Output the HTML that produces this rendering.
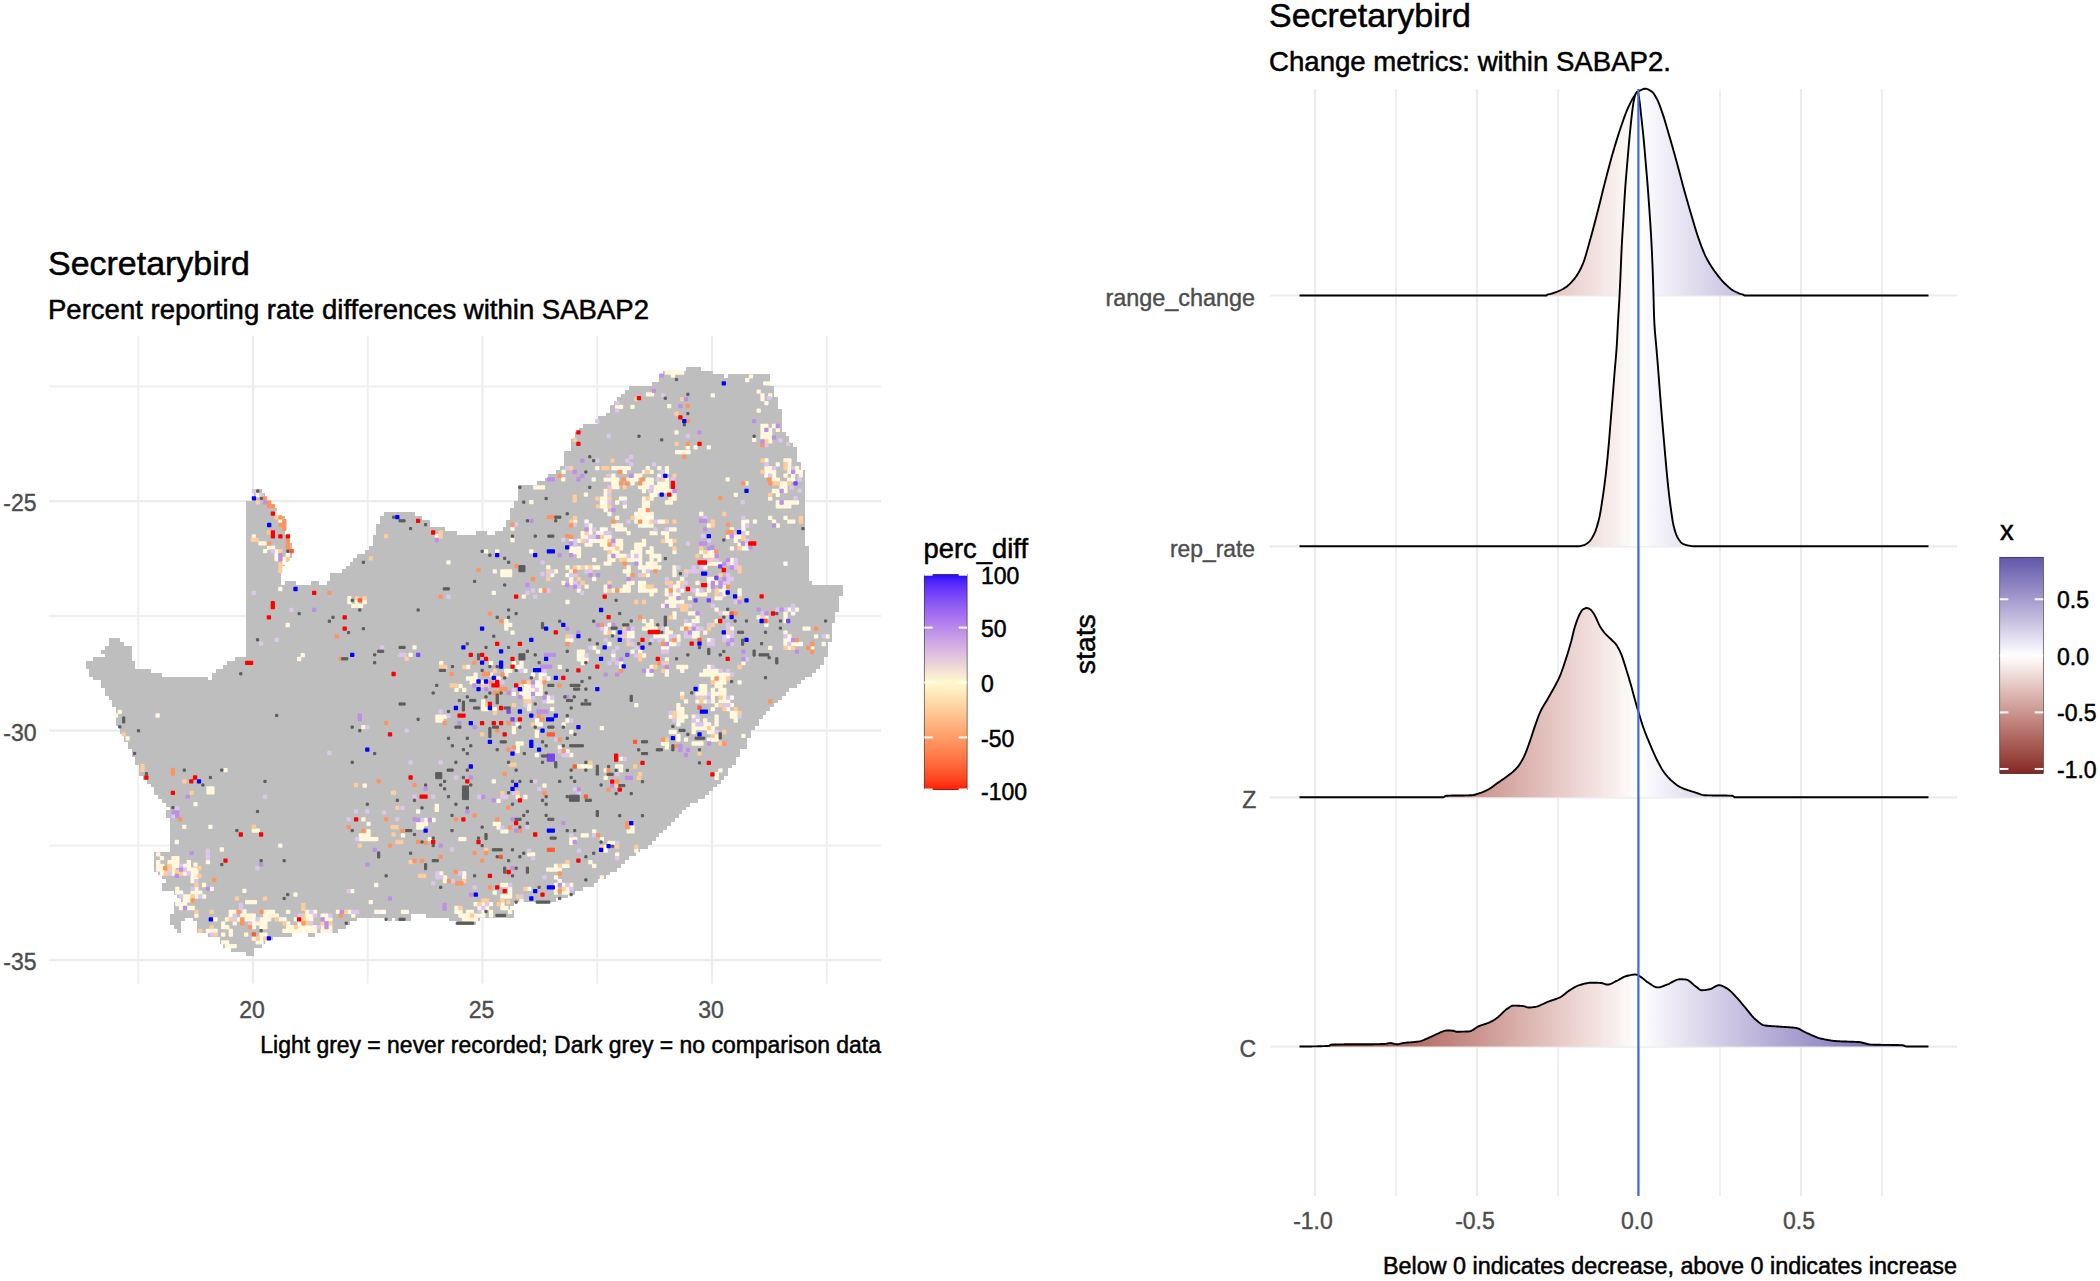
<!DOCTYPE html>
<html lang="en"><head><meta charset="utf-8"><title>Secretarybird</title>
<style>html,body{margin:0;padding:0;background:#fff}svg{display:block}</style></head>
<body><svg width="2100" height="1281" viewBox="0 0 2100 1281">
<rect width="2100" height="1281" fill="#fff"/>
<g stroke="#ececec" fill="none">
<line x1="138.25" x2="138.25" y1="336" y2="983.4" stroke-width="1.9" stroke="#efefef"/>
<line x1="367.75" x2="367.75" y1="336" y2="983.4" stroke-width="1.9" stroke="#efefef"/>
<line x1="597.25" x2="597.25" y1="336" y2="983.4" stroke-width="1.9" stroke="#efefef"/>
<line x1="826.75" x2="826.75" y1="336" y2="983.4" stroke-width="1.9" stroke="#efefef"/>
<line x1="49" x2="881" y1="386.45" y2="386.45" stroke-width="1.9" stroke="#efefef"/>
<line x1="49" x2="881" y1="615.95" y2="615.95" stroke-width="1.9" stroke="#efefef"/>
<line x1="49" x2="881" y1="845.45" y2="845.45" stroke-width="1.9" stroke="#efefef"/>
<line x1="253" x2="253" y1="336" y2="983.4" stroke-width="2.2"/>
<line x1="482.5" x2="482.5" y1="336" y2="983.4" stroke-width="2.2"/>
<line x1="712" x2="712" y1="336" y2="983.4" stroke-width="2.2"/>
<line x1="49" x2="881" y1="501.2" y2="501.2" stroke-width="2.2"/>
<line x1="49" x2="881" y1="730.7" y2="730.7" stroke-width="2.2"/>
<line x1="49" x2="881" y1="960.2" y2="960.2" stroke-width="2.2"/>
</g>
<path fill="#bebebe" d="M686 367h15v4h-15zM663 371h50v3h-50zM659 374h65v4h-65zM728 374h42v4h-42zM659 378h111v4h-111zM652 382h118v4h-118zM629 386h145v4h-145zM625 390h149v4h-149zM621 394h153v3h-153zM617 397h161v4h-161zM614 401h164v4h-164zM610 405h168v4h-168zM610 409h172v4h-172zM606 413h176v3h-176zM598 416h184v4h-184zM598 420h184v4h-184zM583 424h199v4h-199zM579 428h203v4h-203zM575 432h211v4h-211zM575 436h214v3h-214zM571 439h218v4h-218zM571 443h222v4h-222zM571 447h226v4h-226zM564 451h233v4h-233zM564 455h233v4h-233zM564 459h233v3h-233zM564 462h237v4h-237zM560 466h241v4h-241zM556 470h249v4h-249zM548 474h257v4h-257zM545 478h260v3h-260zM537 481h268v4h-268zM518 485h287v4h-287zM254 489h8v4h-8zM518 489h287v4h-287zM254 493h11v4h-11zM518 493h287v4h-287zM254 497h11v4h-11zM518 497h287v4h-287zM246 501h23v3h-23zM514 501h291v3h-291zM246 504h27v4h-27zM514 504h291v4h-291zM246 508h31v4h-31zM510 508h295v4h-295zM246 512h31v4h-31zM384 512h31v4h-31zM510 512h295v4h-295zM246 516h39v4h-39zM380 516h42v4h-42zM510 516h295v4h-295zM246 520h39v4h-39zM380 520h50v4h-50zM506 520h299v4h-299zM246 524h39v3h-39zM376 524h54v3h-54zM506 524h299v3h-299zM246 527h39v4h-39zM376 527h69v4h-69zM503 527h302v4h-302zM246 531h39v4h-39zM376 531h81v4h-81zM476 531h11v4h-11zM495 531h310v4h-310zM246 535h42v4h-42zM373 535h432v4h-432zM246 539h42v4h-42zM373 539h432v4h-432zM246 543h46v3h-46zM373 543h432v3h-432zM246 546h46v4h-46zM369 546h440v4h-440zM246 550h46v4h-46zM365 550h444v4h-444zM246 554h46v4h-46zM357 554h452v4h-452zM246 558h42v4h-42zM353 558h456v4h-456zM246 562h39v4h-39zM350 562h459v4h-459zM246 566h35v3h-35zM346 566h463v3h-463zM246 569h35v4h-35zM342 569h467v4h-467zM246 573h35v4h-35zM330 573h479v4h-479zM246 577h35v4h-35zM330 577h479v4h-479zM246 581h35v4h-35zM285 581h11v4h-11zM311 581h8v4h-8zM327 581h485v4h-485zM246 585h597v4h-597zM246 589h597v3h-597zM246 592h597v4h-597zM246 596h593v4h-593zM246 600h593v4h-593zM246 604h593v4h-593zM246 608h593v4h-593zM246 612h589v3h-589zM246 615h589v4h-589zM246 619h589v4h-589zM246 623h586v4h-586zM246 627h586v4h-586zM246 631h586v3h-586zM246 634h586v4h-586zM109 638h11v4h-11zM246 638h586v4h-586zM109 642h15v4h-15zM246 642h582v4h-582zM105 646h27v4h-27zM246 646h582v4h-582zM101 650h31v4h-31zM246 650h582v4h-582zM105 654h27v3h-27zM246 654h582v3h-582zM93 657h39v4h-39zM235 657h589v4h-589zM86 661h49v4h-49zM227 661h597v4h-597zM86 665h49v4h-49zM223 665h597v4h-597zM89 669h62v4h-62zM216 669h600v4h-600zM89 673h73v4h-73zM212 673h600v4h-600zM93 677h115v3h-115zM212 677h593v3h-593zM101 680h700v4h-700zM101 684h696v4h-696zM105 688h684v4h-684zM105 692h681v4h-681zM109 696h673v4h-673zM112 700h666v3h-666zM112 703h662v4h-662zM116 707h654v4h-654zM116 711h650v4h-650zM116 715h647v4h-647zM116 719h643v3h-643zM116 722h643v4h-643zM120 726h635v4h-635zM120 730h631v4h-631zM124 734h627v4h-627zM124 738h623v4h-623zM128 742h619v3h-619zM128 745h619v4h-619zM132 749h608v4h-608zM132 753h608v4h-608zM135 757h601v4h-601zM135 761h601v4h-601zM139 765h593v3h-593zM139 768h589v4h-589zM139 772h589v4h-589zM143 776h581v4h-581zM147 780h574v4h-574zM151 784h566v3h-566zM154 787h559v4h-559zM154 791h555v4h-555zM158 795h547v4h-547zM162 799h536v4h-536zM166 803h524v4h-524zM170 807h516v3h-516zM166 810h516v4h-516zM166 814h513v4h-513zM170 818h505v4h-505zM170 822h501v4h-501zM170 826h497v4h-497zM170 830h493v3h-493zM170 833h489v4h-489zM170 837h486v4h-486zM170 841h482v4h-482zM170 845h478v4h-478zM170 849h470v3h-470zM154 852h482v4h-482zM154 856h475v4h-475zM154 860h471v4h-471zM154 864h467v4h-467zM154 868h463v4h-463zM158 872h452v3h-452zM162 875h444v4h-444zM166 879h432v4h-432zM162 883h432v4h-432zM162 887h421v4h-421zM174 891h401v4h-401zM177 895h391v3h-391zM181 898h375v4h-375zM174 902h340v4h-340zM174 906h336v4h-336zM174 910h340v4h-340zM170 914h241v4h-241zM426 914h88v4h-88zM170 918h15v3h-15zM193 918h164v3h-164zM388 918h4v3h-4zM395 918h16v3h-16zM449 918h31v3h-31zM170 921h11v4h-11zM197 921h153v4h-153zM457 921h19v4h-19zM174 925h7v4h-7zM197 925h149v4h-149zM177 929h4v4h-4zM197 929h141v4h-141zM208 933h84v4h-84zM308 933h7v4h-7zM220 937h53v3h-53zM220 940h45v4h-45zM223 944h39v4h-39zM231 948h23v4h-23zM246 952h8v4h-8z"/>
<g stroke-width="1.5" stroke-linejoin="round">
<path fill="#fff8dc" stroke="#fff8dc" d="M665.5 371.1h18.1v2.8h-18.1zM749.6 374.9h2.8v2.8h-2.8zM745.8 378.7h2.8v2.8h-2.8zM757.3 390.2h2.8v2.8h-2.8zM711.4 394.0h2.8v2.8h-2.8zM761.1 394.0h2.8v2.8h-2.8zM768.8 394.0h2.8v2.8h-2.8zM761.1 397.8h2.8v2.8h-2.8zM765.0 401.7h2.8v2.8h-2.8zM615.8 405.5h6.7v2.8h-6.7zM631.1 405.5h2.8v2.8h-2.8zM757.3 409.3h2.8v2.8h-2.8zM761.1 424.6h6.7v2.8h-6.7zM772.6 424.6h2.8v2.8h-2.8zM761.1 428.4h2.8v2.8h-2.8zM768.8 428.4h2.8v2.8h-2.8zM776.4 428.4h2.8v2.8h-2.8zM761.1 432.2h10.5v2.8h-10.5zM761.1 436.1h10.5v2.8h-10.5zM768.8 439.9h2.8v2.8h-2.8zM765.0 459.0h2.8v2.8h-2.8zM784.1 459.0h6.7v2.8h-6.7zM776.4 462.9h2.8v2.8h-2.8zM787.9 462.9h2.8v2.8h-2.8zM612.0 466.7h18.1v2.8h-18.1zM646.4 466.7h2.8v2.8h-2.8zM657.9 466.7h2.8v2.8h-2.8zM665.5 466.7h2.8v2.8h-2.8zM765.0 466.7h6.7v2.8h-6.7zM787.9 466.7h2.8v2.8h-2.8zM795.5 466.7h2.8v2.8h-2.8zM562.2 470.5h2.8v2.8h-2.8zM623.4 470.5h2.8v2.8h-2.8zM642.6 470.5h2.8v2.8h-2.8zM650.2 470.5h2.8v2.8h-2.8zM665.5 470.5h2.8v2.8h-2.8zM765.0 470.5h10.5v2.8h-10.5zM787.9 470.5h2.8v2.8h-2.8zM795.5 470.5h6.7v2.8h-6.7zM612.0 474.3h2.8v2.8h-2.8zM634.9 474.3h6.7v2.8h-6.7zM657.9 474.3h2.8v2.8h-2.8zM772.6 474.3h2.8v2.8h-2.8zM784.1 474.3h2.8v2.8h-2.8zM791.7 474.3h2.8v2.8h-2.8zM799.4 474.3h2.8v2.8h-2.8zM604.3 478.2h14.3v2.8h-14.3zM627.2 478.2h10.5v2.8h-10.5zM646.4 478.2h6.7v2.8h-6.7zM665.5 478.2h2.8v2.8h-2.8zM772.6 478.2h6.7v2.8h-6.7zM787.9 478.2h2.8v2.8h-2.8zM612.0 482.0h6.7v2.8h-6.7zM631.1 482.0h2.8v2.8h-2.8zM642.6 482.0h10.5v2.8h-10.5zM657.9 482.0h10.5v2.8h-10.5zM780.2 482.0h6.7v2.8h-6.7zM612.0 485.8h6.7v2.8h-6.7zM638.7 485.8h10.5v2.8h-10.5zM654.0 485.8h14.3v2.8h-14.3zM780.2 485.8h6.7v2.8h-6.7zM604.3 489.6h2.8v2.8h-2.8zM642.6 489.6h2.8v2.8h-2.8zM654.0 489.6h18.1v2.8h-18.1zM772.6 489.6h6.7v2.8h-6.7zM784.1 489.6h2.8v2.8h-2.8zM604.3 493.5h2.8v2.8h-2.8zM650.2 493.5h6.7v2.8h-6.7zM673.1 493.5h2.8v2.8h-2.8zM734.4 493.5h2.8v2.8h-2.8zM776.4 493.5h2.8v2.8h-2.8zM600.5 497.3h6.7v2.8h-6.7zM619.6 497.3h6.7v2.8h-6.7zM642.6 497.3h2.8v2.8h-2.8zM650.2 497.3h2.8v2.8h-2.8zM669.3 497.3h6.7v2.8h-6.7zM768.8 497.3h2.8v2.8h-2.8zM604.3 501.1h2.8v2.8h-2.8zM615.8 501.1h2.8v2.8h-2.8zM642.6 501.1h6.7v2.8h-6.7zM665.5 501.1h6.7v2.8h-6.7zM776.4 501.1h2.8v2.8h-2.8zM784.1 501.1h14.3v2.8h-14.3zM600.5 504.9h6.7v2.8h-6.7zM623.4 504.9h2.8v2.8h-2.8zM642.6 504.9h6.7v2.8h-6.7zM776.4 504.9h14.3v2.8h-14.3zM604.3 508.8h2.8v2.8h-2.8zM638.7 508.8h6.7v2.8h-6.7zM608.1 512.6h2.8v2.8h-2.8zM634.9 512.6h18.1v2.8h-18.1zM699.9 512.6h2.8v2.8h-2.8zM615.8 516.4h2.8v2.8h-2.8zM634.9 516.4h10.5v2.8h-10.5zM768.8 516.4h2.8v2.8h-2.8zM784.1 516.4h2.8v2.8h-2.8zM573.7 520.2h2.8v2.8h-2.8zM634.9 520.2h2.8v2.8h-2.8zM642.6 520.2h6.7v2.8h-6.7zM657.9 520.2h6.7v2.8h-6.7zM745.8 520.2h2.8v2.8h-2.8zM753.5 520.2h2.8v2.8h-2.8zM772.6 520.2h2.8v2.8h-2.8zM787.9 520.2h6.7v2.8h-6.7zM589.0 524.1h2.8v2.8h-2.8zM612.0 524.1h10.5v2.8h-10.5zM638.7 524.1h2.8v2.8h-2.8zM646.4 524.1h6.7v2.8h-6.7zM707.6 524.1h2.8v2.8h-2.8zM776.4 524.1h2.8v2.8h-2.8zM589.0 527.9h2.8v2.8h-2.8zM604.3 527.9h2.8v2.8h-2.8zM615.8 527.9h10.5v2.8h-10.5zM669.3 527.9h6.7v2.8h-6.7zM730.5 527.9h2.8v2.8h-2.8zM742.0 527.9h2.8v2.8h-2.8zM581.4 531.7h2.8v2.8h-2.8zM596.6 531.7h6.7v2.8h-6.7zM627.2 531.7h2.8v2.8h-2.8zM650.2 531.7h6.7v2.8h-6.7zM661.7 531.7h6.7v2.8h-6.7zM745.8 531.7h2.8v2.8h-2.8zM581.4 535.5h6.7v2.8h-6.7zM604.3 535.5h6.7v2.8h-6.7zM665.5 535.5h2.8v2.8h-2.8zM726.7 535.5h2.8v2.8h-2.8zM734.4 535.5h6.7v2.8h-6.7zM569.9 539.4h2.8v2.8h-2.8zM577.5 539.4h2.8v2.8h-2.8zM592.8 539.4h14.3v2.8h-14.3zM615.8 539.4h6.7v2.8h-6.7zM642.6 539.4h2.8v2.8h-2.8zM665.5 539.4h6.7v2.8h-6.7zM734.4 539.4h2.8v2.8h-2.8zM585.2 543.2h6.7v2.8h-6.7zM600.5 543.2h6.7v2.8h-6.7zM615.8 543.2h6.7v2.8h-6.7zM634.9 543.2h10.5v2.8h-10.5zM669.3 543.2h2.8v2.8h-2.8zM738.2 543.2h2.8v2.8h-2.8zM745.8 543.2h2.8v2.8h-2.8zM573.7 547.0h6.7v2.8h-6.7zM604.3 547.0h10.5v2.8h-10.5zM619.6 547.0h2.8v2.8h-2.8zM634.9 547.0h6.7v2.8h-6.7zM650.2 547.0h2.8v2.8h-2.8zM730.5 547.0h2.8v2.8h-2.8zM742.0 547.0h6.7v2.8h-6.7zM569.9 550.8h10.5v2.8h-10.5zM612.0 550.8h6.7v2.8h-6.7zM631.1 550.8h10.5v2.8h-10.5zM646.4 550.8h6.7v2.8h-6.7zM673.1 550.8h2.8v2.8h-2.8zM699.9 550.8h2.8v2.8h-2.8zM707.6 550.8h6.7v2.8h-6.7zM577.5 554.6h2.8v2.8h-2.8zM608.1 554.6h2.8v2.8h-2.8zM615.8 554.6h10.5v2.8h-10.5zM631.1 554.6h2.8v2.8h-2.8zM638.7 554.6h2.8v2.8h-2.8zM650.2 554.6h10.5v2.8h-10.5zM703.8 554.6h10.5v2.8h-10.5zM592.8 558.5h2.8v2.8h-2.8zM608.1 558.5h6.7v2.8h-6.7zM627.2 558.5h14.3v2.8h-14.3zM650.2 558.5h2.8v2.8h-2.8zM657.9 558.5h2.8v2.8h-2.8zM730.5 558.5h2.8v2.8h-2.8zM604.3 562.3h6.7v2.8h-6.7zM638.7 562.3h2.8v2.8h-2.8zM646.4 562.3h10.5v2.8h-10.5zM707.6 562.3h14.3v2.8h-14.3zM730.5 562.3h2.8v2.8h-2.8zM546.9 566.1h2.8v2.8h-2.8zM566.1 566.1h2.8v2.8h-2.8zM577.5 566.1h2.8v2.8h-2.8zM585.2 566.1h2.8v2.8h-2.8zM592.8 566.1h6.7v2.8h-6.7zM627.2 566.1h2.8v2.8h-2.8zM638.7 566.1h22.0v2.8h-22.0zM673.1 566.1h2.8v2.8h-2.8zM703.8 566.1h2.8v2.8h-2.8zM493.4 570.0h2.8v2.8h-2.8zM501.0 570.0h10.5v2.8h-10.5zM554.6 570.0h2.8v2.8h-2.8zM569.9 570.0h2.8v2.8h-2.8zM623.4 570.0h6.7v2.8h-6.7zM642.6 570.0h2.8v2.8h-2.8zM673.1 570.0h2.8v2.8h-2.8zM501.0 573.8h10.5v2.8h-10.5zM550.8 573.8h2.8v2.8h-2.8zM627.2 573.8h2.8v2.8h-2.8zM646.4 573.8h2.8v2.8h-2.8zM673.1 573.8h2.8v2.8h-2.8zM569.9 577.6h2.8v2.8h-2.8zM592.8 577.6h2.8v2.8h-2.8zM680.8 577.6h2.8v2.8h-2.8zM707.6 577.6h6.7v2.8h-6.7zM562.2 581.4h2.8v2.8h-2.8zM569.9 581.4h2.8v2.8h-2.8zM627.2 581.4h6.7v2.8h-6.7zM638.7 581.4h6.7v2.8h-6.7zM677.0 581.4h2.8v2.8h-2.8zM696.1 581.4h2.8v2.8h-2.8zM715.2 581.4h2.8v2.8h-2.8zM585.2 585.2h2.8v2.8h-2.8zM604.3 585.2h2.8v2.8h-2.8zM623.4 585.2h6.7v2.8h-6.7zM638.7 585.2h6.7v2.8h-6.7zM673.1 585.2h6.7v2.8h-6.7zM707.6 585.2h2.8v2.8h-2.8zM722.9 585.2h2.8v2.8h-2.8zM539.3 589.1h2.8v2.8h-2.8zM577.5 589.1h2.8v2.8h-2.8zM604.3 589.1h2.8v2.8h-2.8zM612.0 589.1h2.8v2.8h-2.8zM619.6 589.1h10.5v2.8h-10.5zM638.7 589.1h18.1v2.8h-18.1zM665.5 589.1h2.8v2.8h-2.8zM673.1 589.1h2.8v2.8h-2.8zM680.8 589.1h2.8v2.8h-2.8zM696.1 589.1h2.8v2.8h-2.8zM707.6 589.1h2.8v2.8h-2.8zM719.1 589.1h6.7v2.8h-6.7zM738.2 589.1h2.8v2.8h-2.8zM650.2 592.9h2.8v2.8h-2.8zM665.5 592.9h2.8v2.8h-2.8zM673.1 592.9h6.7v2.8h-6.7zM696.1 592.9h10.5v2.8h-10.5zM722.9 592.9h2.8v2.8h-2.8zM738.2 592.9h2.8v2.8h-2.8zM348.0 596.7h2.8v2.8h-2.8zM669.3 596.7h6.7v2.8h-6.7zM688.5 596.7h2.8v2.8h-2.8zM715.2 596.7h6.7v2.8h-6.7zM348.0 600.6h2.8v2.8h-2.8zM355.7 600.6h2.8v2.8h-2.8zM363.3 600.6h2.8v2.8h-2.8zM566.1 600.6h2.8v2.8h-2.8zM665.5 600.6h18.1v2.8h-18.1zM351.9 604.4h10.5v2.8h-10.5zM661.7 604.4h2.8v2.8h-2.8zM669.3 604.4h6.7v2.8h-6.7zM715.2 608.2h2.8v2.8h-2.8zM795.5 608.2h2.8v2.8h-2.8zM673.1 612.0h2.8v2.8h-2.8zM688.5 612.0h6.7v2.8h-6.7zM722.9 612.0h6.7v2.8h-6.7zM784.1 612.0h2.8v2.8h-2.8zM673.1 615.9h2.8v2.8h-2.8zM696.1 615.9h2.8v2.8h-2.8zM757.3 615.9h2.8v2.8h-2.8zM765.0 615.9h2.8v2.8h-2.8zM784.1 615.9h2.8v2.8h-2.8zM504.9 619.7h2.8v2.8h-2.8zM642.6 619.7h2.8v2.8h-2.8zM650.2 619.7h2.8v2.8h-2.8zM692.3 619.7h6.7v2.8h-6.7zM715.2 619.7h2.8v2.8h-2.8zM784.1 619.7h2.8v2.8h-2.8zM504.9 623.5h6.7v2.8h-6.7zM608.1 623.5h2.8v2.8h-2.8zM646.4 623.5h6.7v2.8h-6.7zM684.6 623.5h2.8v2.8h-2.8zM765.0 623.5h2.8v2.8h-2.8zM504.9 627.3h2.8v2.8h-2.8zM642.6 627.3h14.3v2.8h-14.3zM665.5 627.3h2.8v2.8h-2.8zM680.8 627.3h2.8v2.8h-2.8zM730.5 627.3h2.8v2.8h-2.8zM803.2 627.3h6.7v2.8h-6.7zM604.3 631.2h2.8v2.8h-2.8zM627.2 631.2h6.7v2.8h-6.7zM665.5 631.2h6.7v2.8h-6.7zM692.3 631.2h6.7v2.8h-6.7zM703.8 631.2h2.8v2.8h-2.8zM784.1 631.2h2.8v2.8h-2.8zM627.2 635.0h2.8v2.8h-2.8zM657.9 635.0h6.7v2.8h-6.7zM677.0 635.0h2.8v2.8h-2.8zM692.3 635.0h6.7v2.8h-6.7zM814.7 635.0h2.8v2.8h-2.8zM826.1 635.0h2.8v2.8h-2.8zM566.1 638.8h6.7v2.8h-6.7zM665.5 638.8h2.8v2.8h-2.8zM677.0 638.8h2.8v2.8h-2.8zM707.6 638.8h2.8v2.8h-2.8zM784.1 638.8h6.7v2.8h-6.7zM608.1 642.6h2.8v2.8h-2.8zM669.3 642.6h6.7v2.8h-6.7zM784.1 642.6h2.8v2.8h-2.8zM791.7 642.6h6.7v2.8h-6.7zM822.3 642.6h2.8v2.8h-2.8zM592.8 646.5h2.8v2.8h-2.8zM661.7 646.5h6.7v2.8h-6.7zM768.8 646.5h2.8v2.8h-2.8zM787.9 646.5h2.8v2.8h-2.8zM810.9 646.5h2.8v2.8h-2.8zM577.5 650.3h6.7v2.8h-6.7zM596.6 650.3h2.8v2.8h-2.8zM631.1 650.3h2.8v2.8h-2.8zM638.7 650.3h2.8v2.8h-2.8zM581.4 654.1h2.8v2.8h-2.8zM642.6 654.1h2.8v2.8h-2.8zM577.5 657.9h10.5v2.8h-10.5zM665.5 657.9h2.8v2.8h-2.8zM439.8 661.8h2.8v2.8h-2.8zM489.6 661.8h2.8v2.8h-2.8zM512.5 661.8h2.8v2.8h-2.8zM520.1 661.8h2.8v2.8h-2.8zM581.4 661.8h2.8v2.8h-2.8zM619.6 661.8h2.8v2.8h-2.8zM742.0 661.8h2.8v2.8h-2.8zM466.6 665.6h2.8v2.8h-2.8zM520.1 665.6h2.8v2.8h-2.8zM558.4 665.6h2.8v2.8h-2.8zM619.6 665.6h2.8v2.8h-2.8zM650.2 665.6h2.8v2.8h-2.8zM677.0 665.6h10.5v2.8h-10.5zM707.6 665.6h2.8v2.8h-2.8zM504.9 669.4h6.7v2.8h-6.7zM646.4 669.4h2.8v2.8h-2.8zM665.5 669.4h2.8v2.8h-2.8zM680.8 669.4h2.8v2.8h-2.8zM703.8 669.4h14.3v2.8h-14.3zM474.2 673.2h2.8v2.8h-2.8zM489.6 673.2h2.8v2.8h-2.8zM504.9 673.2h2.8v2.8h-2.8zM539.3 673.2h6.7v2.8h-6.7zM650.2 673.2h2.8v2.8h-2.8zM665.5 673.2h2.8v2.8h-2.8zM699.9 673.2h29.6v2.8h-29.6zM466.6 677.1h10.5v2.8h-10.5zM497.2 677.1h2.8v2.8h-2.8zM539.3 677.1h2.8v2.8h-2.8zM546.9 677.1h2.8v2.8h-2.8zM711.4 677.1h2.8v2.8h-2.8zM719.1 677.1h6.7v2.8h-6.7zM470.4 680.9h6.7v2.8h-6.7zM481.9 680.9h2.8v2.8h-2.8zM535.5 680.9h6.7v2.8h-6.7zM715.2 680.9h10.5v2.8h-10.5zM738.2 680.9h2.8v2.8h-2.8zM459.0 684.7h2.8v2.8h-2.8zM527.8 684.7h2.8v2.8h-2.8zM539.3 684.7h2.8v2.8h-2.8zM699.9 684.7h6.7v2.8h-6.7zM715.2 684.7h6.7v2.8h-6.7zM455.1 688.5h2.8v2.8h-2.8zM462.8 688.5h2.8v2.8h-2.8zM524.0 688.5h10.5v2.8h-10.5zM539.3 688.5h2.8v2.8h-2.8zM699.9 688.5h6.7v2.8h-6.7zM711.4 688.5h2.8v2.8h-2.8zM719.1 688.5h6.7v2.8h-6.7zM520.1 692.4h10.5v2.8h-10.5zM539.3 692.4h2.8v2.8h-2.8zM680.8 692.4h2.8v2.8h-2.8zM696.1 692.4h10.5v2.8h-10.5zM711.4 692.4h14.3v2.8h-14.3zM524.0 696.2h6.7v2.8h-6.7zM546.9 696.2h2.8v2.8h-2.8zM711.4 696.2h2.8v2.8h-2.8zM722.9 696.2h2.8v2.8h-2.8zM481.9 700.0h2.8v2.8h-2.8zM546.9 700.0h6.7v2.8h-6.7zM684.6 700.0h2.8v2.8h-2.8zM696.1 700.0h2.8v2.8h-2.8zM703.8 700.0h2.8v2.8h-2.8zM711.4 700.0h2.8v2.8h-2.8zM719.1 700.0h10.5v2.8h-10.5zM481.9 703.8h2.8v2.8h-2.8zM527.8 703.8h2.8v2.8h-2.8zM634.9 703.8h2.8v2.8h-2.8zM677.0 703.8h2.8v2.8h-2.8zM715.2 703.8h2.8v2.8h-2.8zM730.5 703.8h2.8v2.8h-2.8zM481.9 707.7h6.7v2.8h-6.7zM493.4 707.7h2.8v2.8h-2.8zM527.8 707.7h2.8v2.8h-2.8zM550.8 707.7h2.8v2.8h-2.8zM677.0 707.7h6.7v2.8h-6.7zM711.4 707.7h2.8v2.8h-2.8zM726.7 707.7h2.8v2.8h-2.8zM677.0 711.5h6.7v2.8h-6.7zM730.5 711.5h6.7v2.8h-6.7zM436.0 715.3h10.5v2.8h-10.5zM669.3 715.3h2.8v2.8h-2.8zM677.0 715.3h10.5v2.8h-10.5zM692.3 715.3h2.8v2.8h-2.8zM715.2 715.3h2.8v2.8h-2.8zM730.5 715.3h6.7v2.8h-6.7zM436.0 719.1h6.7v2.8h-6.7zM566.1 719.1h2.8v2.8h-2.8zM677.0 719.1h6.7v2.8h-6.7zM696.1 719.1h2.8v2.8h-2.8zM703.8 719.1h2.8v2.8h-2.8zM715.2 719.1h2.8v2.8h-2.8zM734.4 719.1h2.8v2.8h-2.8zM516.3 723.0h2.8v2.8h-2.8zM535.5 723.0h6.7v2.8h-6.7zM562.2 723.0h2.8v2.8h-2.8zM692.3 723.0h2.8v2.8h-2.8zM703.8 723.0h6.7v2.8h-6.7zM715.2 723.0h2.8v2.8h-2.8zM512.5 726.8h2.8v2.8h-2.8zM600.5 726.8h2.8v2.8h-2.8zM692.3 726.8h14.3v2.8h-14.3zM711.4 726.8h2.8v2.8h-2.8zM512.5 730.6h2.8v2.8h-2.8zM535.5 730.6h2.8v2.8h-2.8zM569.9 730.6h2.8v2.8h-2.8zM669.3 730.6h6.7v2.8h-6.7zM692.3 730.6h2.8v2.8h-2.8zM707.6 730.6h6.7v2.8h-6.7zM535.5 734.4h2.8v2.8h-2.8zM677.0 734.4h2.8v2.8h-2.8zM715.2 734.4h2.8v2.8h-2.8zM742.0 734.4h2.8v2.8h-2.8zM677.0 738.2h2.8v2.8h-2.8zM684.6 738.2h2.8v2.8h-2.8zM707.6 738.2h10.5v2.8h-10.5zM516.3 742.1h6.7v2.8h-6.7zM661.7 742.1h6.7v2.8h-6.7zM692.3 742.1h10.5v2.8h-10.5zM516.3 745.9h2.8v2.8h-2.8zM558.4 745.9h2.8v2.8h-2.8zM665.5 745.9h2.8v2.8h-2.8zM516.3 749.7h2.8v2.8h-2.8zM566.1 749.7h2.8v2.8h-2.8zM535.5 753.6h2.8v2.8h-2.8zM569.9 753.6h2.8v2.8h-2.8zM619.6 757.4h2.8v2.8h-2.8zM577.5 765.0h14.3v2.8h-14.3zM615.8 765.0h6.7v2.8h-6.7zM604.3 768.9h2.8v2.8h-2.8zM619.6 768.9h2.8v2.8h-2.8zM719.1 768.9h2.8v2.8h-2.8zM715.2 772.7h2.8v2.8h-2.8zM604.3 776.5h2.8v2.8h-2.8zM715.2 776.5h2.8v2.8h-2.8zM363.3 784.2h2.8v2.8h-2.8zM543.1 784.2h2.8v2.8h-2.8zM516.3 795.6h2.8v2.8h-2.8zM524.0 795.6h2.8v2.8h-2.8zM497.2 799.5h2.8v2.8h-2.8zM424.5 818.6h2.8v2.8h-2.8zM432.2 818.6h2.8v2.8h-2.8zM367.1 822.4h2.8v2.8h-2.8zM416.9 822.4h10.5v2.8h-10.5zM493.4 822.4h6.7v2.8h-6.7zM416.9 826.2h2.8v2.8h-2.8zM497.2 826.2h2.8v2.8h-2.8zM631.1 826.2h2.8v2.8h-2.8zM367.1 830.0h2.8v2.8h-2.8zM501.0 830.0h6.7v2.8h-6.7zM592.8 830.0h2.8v2.8h-2.8zM627.2 830.0h6.7v2.8h-6.7zM359.5 833.9h10.5v2.8h-10.5zM401.6 833.9h2.8v2.8h-2.8zM581.4 833.9h6.7v2.8h-6.7zM359.5 837.7h18.1v2.8h-18.1zM428.4 837.7h2.8v2.8h-2.8zM459.0 837.7h6.7v2.8h-6.7zM569.9 837.7h6.7v2.8h-6.7zM600.5 837.7h2.8v2.8h-2.8zM569.9 841.5h2.8v2.8h-2.8zM608.1 841.5h6.7v2.8h-6.7zM604.3 845.4h2.8v2.8h-2.8zM604.3 849.2h2.8v2.8h-2.8zM634.9 849.2h2.8v2.8h-2.8zM156.8 853.0h2.8v2.8h-2.8zM527.8 853.0h6.7v2.8h-6.7zM615.8 853.0h2.8v2.8h-2.8zM160.6 856.8h2.8v2.8h-2.8zM172.1 856.8h6.7v2.8h-6.7zM156.8 860.7h2.8v2.8h-2.8zM168.2 860.7h10.5v2.8h-10.5zM187.4 860.7h2.8v2.8h-2.8zM206.5 860.7h2.8v2.8h-2.8zM589.0 860.7h2.8v2.8h-2.8zM156.8 864.5h6.7v2.8h-6.7zM172.1 864.5h6.7v2.8h-6.7zM183.6 864.5h6.7v2.8h-6.7zM562.2 864.5h6.7v2.8h-6.7zM592.8 864.5h2.8v2.8h-2.8zM156.8 868.3h6.7v2.8h-6.7zM172.1 868.3h2.8v2.8h-2.8zM187.4 868.3h10.5v2.8h-10.5zM546.9 868.3h10.5v2.8h-10.5zM160.6 872.1h2.8v2.8h-2.8zM172.1 872.1h2.8v2.8h-2.8zM183.6 872.1h2.8v2.8h-2.8zM191.2 872.1h6.7v2.8h-6.7zM439.8 872.1h2.8v2.8h-2.8zM191.2 876.0h6.7v2.8h-6.7zM443.6 876.0h2.8v2.8h-2.8zM462.8 876.0h2.8v2.8h-2.8zM554.6 876.0h2.8v2.8h-2.8zM600.5 876.0h2.8v2.8h-2.8zM191.2 879.8h2.8v2.8h-2.8zM443.6 879.8h2.8v2.8h-2.8zM558.4 879.8h2.8v2.8h-2.8zM202.7 883.6h2.8v2.8h-2.8zM374.8 883.6h2.8v2.8h-2.8zM501.0 883.6h6.7v2.8h-6.7zM554.6 883.6h2.8v2.8h-2.8zM562.2 883.6h2.8v2.8h-2.8zM569.9 883.6h2.8v2.8h-2.8zM175.9 887.4h2.8v2.8h-2.8zM195.0 887.4h2.8v2.8h-2.8zM210.3 887.4h2.8v2.8h-2.8zM508.7 887.4h2.8v2.8h-2.8zM554.6 887.4h2.8v2.8h-2.8zM566.1 887.4h2.8v2.8h-2.8zM175.9 891.2h2.8v2.8h-2.8zM191.2 891.2h10.5v2.8h-10.5zM493.4 891.2h2.8v2.8h-2.8zM508.7 891.2h2.8v2.8h-2.8zM554.6 891.2h2.8v2.8h-2.8zM562.2 891.2h6.7v2.8h-6.7zM183.6 895.1h6.7v2.8h-6.7zM195.0 895.1h2.8v2.8h-2.8zM202.7 895.1h2.8v2.8h-2.8zM501.0 895.1h10.5v2.8h-10.5zM183.6 898.9h6.7v2.8h-6.7zM520.1 898.9h2.8v2.8h-2.8zM175.9 902.7h10.5v2.8h-10.5zM474.2 902.7h2.8v2.8h-2.8zM481.9 902.7h2.8v2.8h-2.8zM489.6 902.7h2.8v2.8h-2.8zM501.0 902.7h2.8v2.8h-2.8zM179.7 906.6h2.8v2.8h-2.8zM187.4 906.6h6.7v2.8h-6.7zM455.1 906.6h2.8v2.8h-2.8zM478.1 906.6h2.8v2.8h-2.8zM485.7 906.6h2.8v2.8h-2.8zM501.0 906.6h6.7v2.8h-6.7zM229.4 910.4h6.7v2.8h-6.7zM263.9 910.4h10.5v2.8h-10.5zM286.8 910.4h2.8v2.8h-2.8zM305.9 910.4h2.8v2.8h-2.8zM313.6 910.4h2.8v2.8h-2.8zM336.6 910.4h2.8v2.8h-2.8zM348.0 910.4h2.8v2.8h-2.8zM374.8 910.4h6.7v2.8h-6.7zM401.6 910.4h6.7v2.8h-6.7zM455.1 910.4h6.7v2.8h-6.7zM466.6 910.4h6.7v2.8h-6.7zM481.9 910.4h2.8v2.8h-2.8zM489.6 910.4h2.8v2.8h-2.8zM508.7 910.4h2.8v2.8h-2.8zM195.0 914.2h2.8v2.8h-2.8zM229.4 914.2h2.8v2.8h-2.8zM240.9 914.2h14.3v2.8h-14.3zM263.9 914.2h14.3v2.8h-14.3zM305.9 914.2h6.7v2.8h-6.7zM321.2 914.2h6.7v2.8h-6.7zM351.9 914.2h2.8v2.8h-2.8zM459.0 914.2h10.5v2.8h-10.5zM474.2 914.2h10.5v2.8h-10.5zM489.6 914.2h2.8v2.8h-2.8zM214.2 918.0h2.8v2.8h-2.8zM225.6 918.0h2.8v2.8h-2.8zM237.1 918.0h2.8v2.8h-2.8zM244.8 918.0h10.5v2.8h-10.5zM260.1 918.0h10.5v2.8h-10.5zM279.2 918.0h2.8v2.8h-2.8zM294.5 918.0h2.8v2.8h-2.8zM305.9 918.0h6.7v2.8h-6.7zM325.1 918.0h6.7v2.8h-6.7zM462.8 918.0h14.3v2.8h-14.3zM221.8 921.9h2.8v2.8h-2.8zM233.3 921.9h2.8v2.8h-2.8zM252.4 921.9h14.3v2.8h-14.3zM286.8 921.9h2.8v2.8h-2.8zM298.3 921.9h2.8v2.8h-2.8zM221.8 925.7h6.7v2.8h-6.7zM252.4 925.7h2.8v2.8h-2.8zM260.1 925.7h6.7v2.8h-6.7zM286.8 925.7h6.7v2.8h-6.7zM298.3 925.7h6.7v2.8h-6.7zM309.8 925.7h6.7v2.8h-6.7zM321.2 925.7h2.8v2.8h-2.8zM328.9 925.7h2.8v2.8h-2.8zM206.5 929.5h10.5v2.8h-10.5zM229.4 929.5h2.8v2.8h-2.8zM283.0 929.5h18.1v2.8h-18.1zM305.9 929.5h10.5v2.8h-10.5zM321.2 929.5h10.5v2.8h-10.5zM221.8 933.3h2.8v2.8h-2.8zM229.4 933.3h2.8v2.8h-2.8zM244.8 933.3h2.8v2.8h-2.8zM260.1 933.3h6.7v2.8h-6.7zM252.4 937.2h2.8v2.8h-2.8zM260.1 937.2h2.8v2.8h-2.8zM221.8 941.0h6.7v2.8h-6.7zM256.2 941.0h6.7v2.8h-6.7zM225.6 944.8h10.5v2.8h-10.5zM761.1 395.4h2.8v3.8h-2.8zM761.1 426.0h2.8v3.8h-2.8zM761.1 429.8h2.8v3.8h-2.8zM768.8 429.8h2.8v3.8h-2.8zM761.1 433.7h2.8v3.8h-2.8zM765.0 433.7h2.8v3.8h-2.8zM768.8 433.7h2.8v3.8h-2.8zM768.8 437.5h2.8v3.8h-2.8zM787.9 460.4h2.8v3.8h-2.8zM787.9 464.3h2.8v3.8h-2.8zM623.4 468.1h2.8v3.8h-2.8zM665.5 468.1h2.8v3.8h-2.8zM765.0 468.1h2.8v3.8h-2.8zM768.8 468.1h2.8v3.8h-2.8zM787.9 468.1h2.8v3.8h-2.8zM795.5 468.1h2.8v3.8h-2.8zM772.6 471.9h2.8v3.8h-2.8zM799.4 471.9h2.8v3.8h-2.8zM612.0 475.7h2.8v3.8h-2.8zM634.9 475.7h2.8v3.8h-2.8zM772.6 475.7h2.8v3.8h-2.8zM612.0 479.6h2.8v3.8h-2.8zM615.8 479.6h2.8v3.8h-2.8zM631.1 479.6h2.8v3.8h-2.8zM646.4 479.6h2.8v3.8h-2.8zM650.2 479.6h2.8v3.8h-2.8zM665.5 479.6h2.8v3.8h-2.8zM612.0 483.4h2.8v3.8h-2.8zM615.8 483.4h2.8v3.8h-2.8zM642.6 483.4h2.8v3.8h-2.8zM646.4 483.4h2.8v3.8h-2.8zM657.9 483.4h2.8v3.8h-2.8zM661.7 483.4h2.8v3.8h-2.8zM665.5 483.4h2.8v3.8h-2.8zM780.2 483.4h2.8v3.8h-2.8zM784.1 483.4h2.8v3.8h-2.8zM642.6 487.2h2.8v3.8h-2.8zM654.0 487.2h2.8v3.8h-2.8zM657.9 487.2h2.8v3.8h-2.8zM661.7 487.2h2.8v3.8h-2.8zM665.5 487.2h2.8v3.8h-2.8zM784.1 487.2h2.8v3.8h-2.8zM604.3 491.0h2.8v3.8h-2.8zM654.0 491.0h2.8v3.8h-2.8zM776.4 491.0h2.8v3.8h-2.8zM604.3 494.9h2.8v3.8h-2.8zM650.2 494.9h2.8v3.8h-2.8zM673.1 494.9h2.8v3.8h-2.8zM604.3 498.7h2.8v3.8h-2.8zM642.6 498.7h2.8v3.8h-2.8zM669.3 498.7h2.8v3.8h-2.8zM604.3 502.5h2.8v3.8h-2.8zM642.6 502.5h2.8v3.8h-2.8zM646.4 502.5h2.8v3.8h-2.8zM776.4 502.5h2.8v3.8h-2.8zM784.1 502.5h2.8v3.8h-2.8zM787.9 502.5h2.8v3.8h-2.8zM604.3 506.3h2.8v3.8h-2.8zM642.6 506.3h2.8v3.8h-2.8zM638.7 510.2h2.8v3.8h-2.8zM642.6 510.2h2.8v3.8h-2.8zM634.9 514.0h2.8v3.8h-2.8zM638.7 514.0h2.8v3.8h-2.8zM642.6 514.0h2.8v3.8h-2.8zM634.9 517.8h2.8v3.8h-2.8zM642.6 517.8h2.8v3.8h-2.8zM646.4 521.6h2.8v3.8h-2.8zM589.0 525.5h2.8v3.8h-2.8zM615.8 525.5h2.8v3.8h-2.8zM619.6 525.5h2.8v3.8h-2.8zM581.4 533.1h2.8v3.8h-2.8zM665.5 533.1h2.8v3.8h-2.8zM604.3 536.9h2.8v3.8h-2.8zM665.5 536.9h2.8v3.8h-2.8zM734.4 536.9h2.8v3.8h-2.8zM600.5 540.8h2.8v3.8h-2.8zM604.3 540.8h2.8v3.8h-2.8zM615.8 540.8h2.8v3.8h-2.8zM619.6 540.8h2.8v3.8h-2.8zM642.6 540.8h2.8v3.8h-2.8zM669.3 540.8h2.8v3.8h-2.8zM604.3 544.6h2.8v3.8h-2.8zM619.6 544.6h2.8v3.8h-2.8zM634.9 544.6h2.8v3.8h-2.8zM638.7 544.6h2.8v3.8h-2.8zM745.8 544.6h2.8v3.8h-2.8zM573.7 548.4h2.8v3.8h-2.8zM577.5 548.4h2.8v3.8h-2.8zM612.0 548.4h2.8v3.8h-2.8zM634.9 548.4h2.8v3.8h-2.8zM638.7 548.4h2.8v3.8h-2.8zM650.2 548.4h2.8v3.8h-2.8zM577.5 552.2h2.8v3.8h-2.8zM615.8 552.2h2.8v3.8h-2.8zM631.1 552.2h2.8v3.8h-2.8zM638.7 552.2h2.8v3.8h-2.8zM650.2 552.2h2.8v3.8h-2.8zM707.6 552.2h2.8v3.8h-2.8zM711.4 552.2h2.8v3.8h-2.8zM608.1 556.1h2.8v3.8h-2.8zM631.1 556.1h2.8v3.8h-2.8zM638.7 556.1h2.8v3.8h-2.8zM650.2 556.1h2.8v3.8h-2.8zM657.9 556.1h2.8v3.8h-2.8zM608.1 559.9h2.8v3.8h-2.8zM638.7 559.9h2.8v3.8h-2.8zM650.2 559.9h2.8v3.8h-2.8zM730.5 559.9h2.8v3.8h-2.8zM638.7 563.7h2.8v3.8h-2.8zM646.4 563.7h2.8v3.8h-2.8zM650.2 563.7h2.8v3.8h-2.8zM654.0 563.7h2.8v3.8h-2.8zM627.2 567.5h2.8v3.8h-2.8zM642.6 567.5h2.8v3.8h-2.8zM673.1 567.5h2.8v3.8h-2.8zM501.0 571.4h2.8v3.8h-2.8zM504.9 571.4h2.8v3.8h-2.8zM508.7 571.4h2.8v3.8h-2.8zM627.2 571.4h2.8v3.8h-2.8zM673.1 571.4h2.8v3.8h-2.8zM569.9 579.0h2.8v3.8h-2.8zM627.2 582.8h2.8v3.8h-2.8zM638.7 582.8h2.8v3.8h-2.8zM642.6 582.8h2.8v3.8h-2.8zM677.0 582.8h2.8v3.8h-2.8zM604.3 586.7h2.8v3.8h-2.8zM623.4 586.7h2.8v3.8h-2.8zM627.2 586.7h2.8v3.8h-2.8zM638.7 586.7h2.8v3.8h-2.8zM642.6 586.7h2.8v3.8h-2.8zM673.1 586.7h2.8v3.8h-2.8zM707.6 586.7h2.8v3.8h-2.8zM722.9 586.7h2.8v3.8h-2.8zM650.2 590.5h2.8v3.8h-2.8zM665.5 590.5h2.8v3.8h-2.8zM673.1 590.5h2.8v3.8h-2.8zM696.1 590.5h2.8v3.8h-2.8zM722.9 590.5h2.8v3.8h-2.8zM738.2 590.5h2.8v3.8h-2.8zM673.1 594.3h2.8v3.8h-2.8zM348.0 598.1h2.8v3.8h-2.8zM669.3 598.1h2.8v3.8h-2.8zM673.1 598.1h2.8v3.8h-2.8zM355.7 602.0h2.8v3.8h-2.8zM669.3 602.0h2.8v3.8h-2.8zM673.1 602.0h2.8v3.8h-2.8zM673.1 613.4h2.8v3.8h-2.8zM784.1 613.4h2.8v3.8h-2.8zM696.1 617.3h2.8v3.8h-2.8zM784.1 617.3h2.8v3.8h-2.8zM504.9 621.1h2.8v3.8h-2.8zM650.2 621.1h2.8v3.8h-2.8zM504.9 624.9h2.8v3.8h-2.8zM646.4 624.9h2.8v3.8h-2.8zM650.2 624.9h2.8v3.8h-2.8zM665.5 628.7h2.8v3.8h-2.8zM627.2 632.6h2.8v3.8h-2.8zM692.3 632.6h2.8v3.8h-2.8zM696.1 632.6h2.8v3.8h-2.8zM677.0 636.4h2.8v3.8h-2.8zM784.1 640.2h2.8v3.8h-2.8zM581.4 651.7h2.8v3.8h-2.8zM581.4 655.5h2.8v3.8h-2.8zM581.4 659.3h2.8v3.8h-2.8zM520.1 663.2h2.8v3.8h-2.8zM619.6 663.2h2.8v3.8h-2.8zM680.8 667.0h2.8v3.8h-2.8zM707.6 667.0h2.8v3.8h-2.8zM504.9 670.8h2.8v3.8h-2.8zM665.5 670.8h2.8v3.8h-2.8zM703.8 670.8h2.8v3.8h-2.8zM707.6 670.8h2.8v3.8h-2.8zM711.4 670.8h2.8v3.8h-2.8zM715.2 670.8h2.8v3.8h-2.8zM474.2 674.6h2.8v3.8h-2.8zM539.3 674.6h2.8v3.8h-2.8zM711.4 674.6h2.8v3.8h-2.8zM719.1 674.6h2.8v3.8h-2.8zM722.9 674.6h2.8v3.8h-2.8zM470.4 678.5h2.8v3.8h-2.8zM474.2 678.5h2.8v3.8h-2.8zM539.3 678.5h2.8v3.8h-2.8zM719.1 678.5h2.8v3.8h-2.8zM722.9 678.5h2.8v3.8h-2.8zM539.3 682.3h2.8v3.8h-2.8zM715.2 682.3h2.8v3.8h-2.8zM719.1 682.3h2.8v3.8h-2.8zM527.8 686.1h2.8v3.8h-2.8zM539.3 686.1h2.8v3.8h-2.8zM699.9 686.1h2.8v3.8h-2.8zM703.8 686.1h2.8v3.8h-2.8zM719.1 686.1h2.8v3.8h-2.8zM524.0 689.9h2.8v3.8h-2.8zM527.8 689.9h2.8v3.8h-2.8zM539.3 689.9h2.8v3.8h-2.8zM699.9 689.9h2.8v3.8h-2.8zM703.8 689.9h2.8v3.8h-2.8zM711.4 689.9h2.8v3.8h-2.8zM719.1 689.9h2.8v3.8h-2.8zM722.9 689.9h2.8v3.8h-2.8zM524.0 693.8h2.8v3.8h-2.8zM527.8 693.8h2.8v3.8h-2.8zM711.4 693.8h2.8v3.8h-2.8zM722.9 693.8h2.8v3.8h-2.8zM546.9 697.6h2.8v3.8h-2.8zM711.4 697.6h2.8v3.8h-2.8zM722.9 697.6h2.8v3.8h-2.8zM481.9 701.4h2.8v3.8h-2.8zM481.9 705.2h2.8v3.8h-2.8zM527.8 705.2h2.8v3.8h-2.8zM677.0 705.2h2.8v3.8h-2.8zM677.0 709.1h2.8v3.8h-2.8zM680.8 709.1h2.8v3.8h-2.8zM677.0 712.9h2.8v3.8h-2.8zM680.8 712.9h2.8v3.8h-2.8zM730.5 712.9h2.8v3.8h-2.8zM734.4 712.9h2.8v3.8h-2.8zM436.0 716.7h2.8v3.8h-2.8zM439.8 716.7h2.8v3.8h-2.8zM677.0 716.7h2.8v3.8h-2.8zM680.8 716.7h2.8v3.8h-2.8zM715.2 716.7h2.8v3.8h-2.8zM734.4 716.7h2.8v3.8h-2.8zM703.8 720.5h2.8v3.8h-2.8zM715.2 720.5h2.8v3.8h-2.8zM692.3 724.4h2.8v3.8h-2.8zM703.8 724.4h2.8v3.8h-2.8zM512.5 728.2h2.8v3.8h-2.8zM692.3 728.2h2.8v3.8h-2.8zM711.4 728.2h2.8v3.8h-2.8zM535.5 732.0h2.8v3.8h-2.8zM677.0 735.8h2.8v3.8h-2.8zM715.2 735.8h2.8v3.8h-2.8zM516.3 743.5h2.8v3.8h-2.8zM665.5 743.5h2.8v3.8h-2.8zM516.3 747.3h2.8v3.8h-2.8zM619.6 766.4h2.8v3.8h-2.8zM715.2 774.1h2.8v3.8h-2.8zM424.5 820.0h2.8v3.8h-2.8zM416.9 823.8h2.8v3.8h-2.8zM497.2 823.8h2.8v3.8h-2.8zM631.1 827.6h2.8v3.8h-2.8zM367.1 831.5h2.8v3.8h-2.8zM359.5 835.3h2.8v3.8h-2.8zM363.3 835.3h2.8v3.8h-2.8zM367.1 835.3h2.8v3.8h-2.8zM569.9 839.1h2.8v3.8h-2.8zM604.3 846.8h2.8v3.8h-2.8zM172.1 858.2h2.8v3.8h-2.8zM175.9 858.2h2.8v3.8h-2.8zM156.8 862.1h2.8v3.8h-2.8zM172.1 862.1h2.8v3.8h-2.8zM175.9 862.1h2.8v3.8h-2.8zM187.4 862.1h2.8v3.8h-2.8zM156.8 865.9h2.8v3.8h-2.8zM160.6 865.9h2.8v3.8h-2.8zM172.1 865.9h2.8v3.8h-2.8zM187.4 865.9h2.8v3.8h-2.8zM160.6 869.7h2.8v3.8h-2.8zM172.1 869.7h2.8v3.8h-2.8zM191.2 869.7h2.8v3.8h-2.8zM195.0 869.7h2.8v3.8h-2.8zM191.2 873.5h2.8v3.8h-2.8zM195.0 873.5h2.8v3.8h-2.8zM191.2 877.4h2.8v3.8h-2.8zM443.6 877.4h2.8v3.8h-2.8zM554.6 885.0h2.8v3.8h-2.8zM175.9 888.8h2.8v3.8h-2.8zM195.0 888.8h2.8v3.8h-2.8zM508.7 888.8h2.8v3.8h-2.8zM554.6 888.8h2.8v3.8h-2.8zM566.1 888.8h2.8v3.8h-2.8zM195.0 892.7h2.8v3.8h-2.8zM508.7 892.7h2.8v3.8h-2.8zM183.6 896.5h2.8v3.8h-2.8zM187.4 896.5h2.8v3.8h-2.8zM183.6 900.3h2.8v3.8h-2.8zM179.7 904.1h2.8v3.8h-2.8zM501.0 904.1h2.8v3.8h-2.8zM455.1 908.0h2.8v3.8h-2.8zM229.4 911.8h2.8v3.8h-2.8zM263.9 911.8h2.8v3.8h-2.8zM267.7 911.8h2.8v3.8h-2.8zM271.5 911.8h2.8v3.8h-2.8zM305.9 911.8h2.8v3.8h-2.8zM459.0 911.8h2.8v3.8h-2.8zM466.6 911.8h2.8v3.8h-2.8zM481.9 911.8h2.8v3.8h-2.8zM489.6 911.8h2.8v3.8h-2.8zM244.8 915.6h2.8v3.8h-2.8zM248.6 915.6h2.8v3.8h-2.8zM252.4 915.6h2.8v3.8h-2.8zM263.9 915.6h2.8v3.8h-2.8zM267.7 915.6h2.8v3.8h-2.8zM305.9 915.6h2.8v3.8h-2.8zM309.8 915.6h2.8v3.8h-2.8zM325.1 915.6h2.8v3.8h-2.8zM462.8 915.6h2.8v3.8h-2.8zM466.6 915.6h2.8v3.8h-2.8zM474.2 915.6h2.8v3.8h-2.8zM252.4 919.4h2.8v3.8h-2.8zM260.1 919.4h2.8v3.8h-2.8zM263.9 919.4h2.8v3.8h-2.8zM221.8 923.3h2.8v3.8h-2.8zM252.4 923.3h2.8v3.8h-2.8zM260.1 923.3h2.8v3.8h-2.8zM263.9 923.3h2.8v3.8h-2.8zM286.8 923.3h2.8v3.8h-2.8zM298.3 923.3h2.8v3.8h-2.8zM286.8 927.1h2.8v3.8h-2.8zM290.6 927.1h2.8v3.8h-2.8zM298.3 927.1h2.8v3.8h-2.8zM309.8 927.1h2.8v3.8h-2.8zM313.6 927.1h2.8v3.8h-2.8zM321.2 927.1h2.8v3.8h-2.8zM328.9 927.1h2.8v3.8h-2.8zM229.4 930.9h2.8v3.8h-2.8zM260.1 934.7h2.8v3.8h-2.8zM260.1 938.6h2.8v3.8h-2.8zM225.6 942.4h2.8v3.8h-2.8zM671.5 374.2h2.8v2.8h-2.8zM646.6 392.9h6.7v2.8h-6.7zM667.8 404.7h2.8v2.8h-2.8zM675.1 430.9h2.8v2.8h-2.8zM694.2 446.0h2.8v2.8h-2.8zM707.4 446.0h2.8v2.8h-2.8zM686.5 446.0h2.8v2.8h-2.8zM675.6 450.7h14.3v2.8h-14.3zM763.8 382.0h6.7v2.8h-6.7zM752.7 438.5h2.8v2.8h-2.8zM726.3 478.0h2.8v2.8h-2.8zM745.1 482.0h2.8v2.8h-2.8zM533.9 485.9h10.5v2.8h-10.5zM529.9 500.7h2.8v2.8h-2.8zM561.9 478.0h2.8v2.8h-2.8zM592.3 478.0h2.8v2.8h-2.8zM595.9 466.8h2.8v2.8h-2.8zM584.5 493.2h2.8v2.8h-2.8zM511.1 527.2h2.8v2.8h-2.8zM511.1 538.6h2.8v2.8h-2.8zM435.4 534.7h2.8v2.8h-2.8zM484.6 549.9h2.8v2.8h-2.8zM495.8 549.9h2.8v2.8h-2.8zM529.9 549.9h2.8v2.8h-2.8zM447.1 560.9h2.8v2.8h-2.8zM413.1 646.0h2.8v2.8h-2.8zM409.2 653.5h2.8v2.8h-2.8zM492.4 591.4h2.8v2.8h-2.8zM522.4 595.3h2.8v2.8h-2.8zM511.1 631.2h2.8v2.8h-2.8zM362.0 725.7h2.8v2.8h-2.8zM392.2 791.4h2.8v2.8h-2.8zM492.4 780.0h2.8v2.8h-2.8zM362.0 817.9h2.8v2.8h-2.8zM350.8 889.8h2.8v2.8h-2.8zM369.4 900.7h2.8v2.8h-2.8zM416.7 810.1h2.8v2.8h-2.8zM435.4 804.6h2.8v6.7h-2.8zM224.1 768.7h2.8v2.8h-2.8zM194.1 802.8h2.8v2.8h-2.8zM182.9 825.4h2.8v2.8h-2.8zM209.0 825.4h2.8v2.8h-2.8zM220.4 848.1h2.8v2.8h-2.8zM278.9 844.2h2.8v2.8h-2.8zM194.1 863.2h2.8v2.8h-2.8zM175.4 840.6h2.8v2.8h-2.8zM243.0 889.4h2.8v2.8h-2.8zM294.1 893.2h2.8v2.8h-2.8zM245.8 900.7h10.5v2.8h-10.5zM243.0 910.1h2.8v2.8h-2.8zM207.1 787.1h6.7v6.7h-6.7zM252.4 829.2h6.7v2.8h-6.7zM278.9 587.6h2.8v2.8h-2.8zM286.3 623.6h2.8v2.8h-2.8zM301.4 653.7h2.8v2.8h-2.8zM297.7 657.6h2.8v2.8h-2.8zM156.2 714.1h2.8v2.8h-2.8zM118.4 710.4h2.8v2.8h-2.8zM114.5 714.1h2.8v2.8h-2.8zM126.2 736.9h2.8v2.8h-2.8zM256.4 493.6h2.8v2.8h-2.8zM275.1 512.3h2.8v2.8h-2.8zM279.0 519.8h2.8v2.8h-2.8zM252.5 535.0h2.8v2.8h-2.8zM259.1 542.0h6.7v2.8h-6.7zM267.7 546.2h6.7v2.8h-6.7zM263.7 549.8h2.8v2.8h-2.8zM275.1 549.9h2.8v10.5h-2.8zM282.9 557.6h2.8v2.8h-2.8zM286.5 553.7h2.8v2.8h-2.8zM282.9 561.5h2.8v2.8h-2.8z"/>
<path fill="#fffdf2" stroke="#fffdf2" d="M765.0 474.3h2.8v2.8h-2.8zM791.7 478.2h2.8v2.8h-2.8zM600.5 501.1h2.8v2.8h-2.8zM646.4 516.4h6.7v2.8h-6.7zM585.2 520.2h2.8v2.8h-2.8zM742.0 520.2h2.8v2.8h-2.8zM642.6 524.1h2.8v2.8h-2.8zM742.0 524.1h2.8v2.8h-2.8zM600.5 527.9h2.8v2.8h-2.8zM589.0 531.7h2.8v2.8h-2.8zM589.0 539.4h2.8v2.8h-2.8zM569.9 547.0h2.8v2.8h-2.8zM784.1 562.3h2.8v2.8h-2.8zM566.1 573.8h2.8v2.8h-2.8zM707.6 581.4h2.8v2.8h-2.8zM787.9 608.2h2.8v2.8h-2.8zM791.7 612.0h2.8v2.8h-2.8zM688.5 623.5h2.8v2.8h-2.8zM604.3 627.3h2.8v2.8h-2.8zM612.0 631.2h2.8v2.8h-2.8zM631.1 635.0h2.8v2.8h-2.8zM654.0 635.0h2.8v2.8h-2.8zM665.5 635.0h2.8v2.8h-2.8zM726.7 635.0h2.8v2.8h-2.8zM787.9 635.0h2.8v2.8h-2.8zM799.4 642.6h2.8v2.8h-2.8zM577.5 654.1h2.8v2.8h-2.8zM612.0 654.1h2.8v2.8h-2.8zM516.3 665.6h2.8v2.8h-2.8zM524.0 669.4h2.8v2.8h-2.8zM531.6 673.2h2.8v2.8h-2.8zM646.4 673.2h2.8v2.8h-2.8zM524.0 684.7h2.8v2.8h-2.8zM535.5 684.7h2.8v2.8h-2.8zM512.5 692.4h2.8v2.8h-2.8zM535.5 692.4h2.8v2.8h-2.8zM730.5 696.2h2.8v2.8h-2.8zM535.5 719.1h2.8v2.8h-2.8zM677.0 723.0h2.8v2.8h-2.8zM420.7 826.2h2.8v2.8h-2.8zM554.6 864.5h2.8v2.8h-2.8zM558.4 868.3h2.8v2.8h-2.8zM462.8 872.1h2.8v2.8h-2.8zM527.8 887.4h2.8v2.8h-2.8zM179.7 891.2h2.8v2.8h-2.8zM382.5 910.4h2.8v2.8h-2.8zM283.0 918.0h2.8v2.8h-2.8zM305.9 925.7h2.8v2.8h-2.8zM302.1 929.5h2.8v2.8h-2.8zM742.0 521.6h2.8v3.8h-2.8z"/>
<path fill="#ffcc9a" stroke="#ffcc9a" d="M634.9 397.8h2.8v2.8h-2.8zM680.8 397.8h2.8v2.8h-2.8zM765.0 439.9h2.8v2.8h-2.8zM761.1 459.0h2.8v2.8h-2.8zM784.1 462.9h2.8v2.8h-2.8zM784.1 466.7h2.8v2.8h-2.8zM761.1 470.5h2.8v2.8h-2.8zM673.1 474.3h2.8v2.8h-2.8zM661.7 478.2h2.8v2.8h-2.8zM772.6 482.0h6.7v2.8h-6.7zM787.9 482.0h2.8v2.8h-2.8zM623.4 485.8h2.8v2.8h-2.8zM608.1 489.6h2.8v2.8h-2.8zM768.8 493.5h2.8v2.8h-2.8zM608.1 497.3h2.8v2.8h-2.8zM646.4 497.3h2.8v2.8h-2.8zM596.6 504.9h2.8v2.8h-2.8zM608.1 504.9h2.8v2.8h-2.8zM722.9 512.6h2.8v2.8h-2.8zM573.7 516.4h2.8v2.8h-2.8zM631.1 516.4h2.8v2.8h-2.8zM799.4 516.4h2.8v2.8h-2.8zM569.9 520.2h2.8v2.8h-2.8zM650.2 520.2h2.8v2.8h-2.8zM665.5 520.2h2.8v2.8h-2.8zM673.1 520.2h2.8v2.8h-2.8zM711.4 520.2h2.8v2.8h-2.8zM799.4 520.2h2.8v2.8h-2.8zM711.4 524.1h2.8v2.8h-2.8zM585.2 531.7h2.8v2.8h-2.8zM600.5 535.5h2.8v2.8h-2.8zM742.0 535.5h2.8v2.8h-2.8zM581.4 539.4h2.8v2.8h-2.8zM608.1 539.4h2.8v2.8h-2.8zM661.7 539.4h2.8v2.8h-2.8zM673.1 539.4h2.8v2.8h-2.8zM742.0 539.4h2.8v2.8h-2.8zM615.8 547.0h2.8v2.8h-2.8zM673.1 547.0h2.8v2.8h-2.8zM699.9 547.0h2.8v2.8h-2.8zM738.2 547.0h2.8v2.8h-2.8zM608.1 550.8h2.8v2.8h-2.8zM703.8 550.8h2.8v2.8h-2.8zM696.1 554.6h2.8v2.8h-2.8zM619.6 558.5h6.7v2.8h-6.7zM711.4 558.5h2.8v2.8h-2.8zM573.7 566.1h2.8v2.8h-2.8zM581.4 566.1h2.8v2.8h-2.8zM589.0 566.1h2.8v2.8h-2.8zM738.2 566.1h2.8v2.8h-2.8zM546.9 570.0h2.8v2.8h-2.8zM684.6 570.0h2.8v2.8h-2.8zM738.2 570.0h2.8v2.8h-2.8zM642.6 573.8h2.8v2.8h-2.8zM719.1 573.8h2.8v2.8h-2.8zM546.9 577.6h2.8v2.8h-2.8zM577.5 577.6h2.8v2.8h-2.8zM581.4 581.4h2.8v2.8h-2.8zM608.1 581.4h2.8v2.8h-2.8zM665.5 581.4h6.7v2.8h-6.7zM680.8 581.4h2.8v2.8h-2.8zM646.4 585.2h6.7v2.8h-6.7zM608.1 589.1h2.8v2.8h-2.8zM715.2 589.1h2.8v2.8h-2.8zM715.2 592.9h2.8v2.8h-2.8zM355.7 596.7h2.8v2.8h-2.8zM363.3 596.7h2.8v2.8h-2.8zM738.2 596.7h2.8v2.8h-2.8zM634.9 600.6h2.8v2.8h-2.8zM642.6 600.6h2.8v2.8h-2.8zM680.8 604.4h6.7v2.8h-6.7zM680.8 608.2h6.7v2.8h-6.7zM669.3 615.9h2.8v2.8h-2.8zM761.1 615.9h2.8v2.8h-2.8zM711.4 623.5h2.8v2.8h-2.8zM623.4 627.3h2.8v2.8h-2.8zM688.5 627.3h2.8v2.8h-2.8zM707.6 627.3h2.8v2.8h-2.8zM608.1 631.2h2.8v2.8h-2.8zM726.7 631.2h2.8v2.8h-2.8zM566.1 635.0h2.8v2.8h-2.8zM623.4 635.0h2.8v2.8h-2.8zM627.2 642.6h2.8v2.8h-2.8zM784.1 646.5h2.8v2.8h-2.8zM791.7 646.5h2.8v2.8h-2.8zM638.7 654.1h2.8v2.8h-2.8zM638.7 657.9h2.8v2.8h-2.8zM665.5 661.8h2.8v2.8h-2.8zM439.8 665.6h6.7v2.8h-6.7zM462.8 665.6h2.8v2.8h-2.8zM654.0 665.6h2.8v2.8h-2.8zM738.2 665.6h2.8v2.8h-2.8zM493.4 669.4h2.8v2.8h-2.8zM661.7 669.4h2.8v2.8h-2.8zM726.7 677.1h2.8v2.8h-2.8zM527.8 680.9h2.8v2.8h-2.8zM711.4 680.9h2.8v2.8h-2.8zM481.9 684.7h2.8v2.8h-2.8zM520.1 684.7h2.8v2.8h-2.8zM680.8 696.2h2.8v2.8h-2.8zM699.9 696.2h2.8v2.8h-2.8zM719.1 696.2h2.8v2.8h-2.8zM524.0 700.0h6.7v2.8h-6.7zM699.9 700.0h2.8v2.8h-2.8zM485.7 703.8h2.8v2.8h-2.8zM512.5 703.8h2.8v2.8h-2.8zM719.1 703.8h2.8v2.8h-2.8zM722.9 707.7h2.8v2.8h-2.8zM734.4 707.7h2.8v2.8h-2.8zM493.4 711.5h2.8v2.8h-2.8zM673.1 711.5h2.8v2.8h-2.8zM738.2 711.5h2.8v2.8h-2.8zM673.1 715.3h2.8v2.8h-2.8zM531.6 723.0h2.8v2.8h-2.8zM707.6 726.8h2.8v2.8h-2.8zM722.9 730.6h2.8v2.8h-2.8zM711.4 734.4h2.8v2.8h-2.8zM665.5 738.2h2.8v2.8h-2.8zM719.1 742.1h2.8v2.8h-2.8zM589.0 761.2h2.8v2.8h-2.8zM638.7 772.7h2.8v2.8h-2.8zM501.0 791.8h2.8v2.8h-2.8zM516.3 791.8h2.8v2.8h-2.8zM600.5 845.4h2.8v2.8h-2.8zM615.8 845.4h2.8v2.8h-2.8zM634.9 845.4h2.8v2.8h-2.8zM409.2 860.7h2.8v2.8h-2.8zM566.1 860.7h2.8v2.8h-2.8zM168.2 864.5h2.8v2.8h-2.8zM558.4 864.5h2.8v2.8h-2.8zM168.2 868.3h2.8v2.8h-2.8zM164.4 872.1h2.8v2.8h-2.8zM179.7 872.1h2.8v2.8h-2.8zM462.8 879.8h2.8v2.8h-2.8zM195.0 883.6h2.8v2.8h-2.8zM524.0 887.4h2.8v2.8h-2.8zM562.2 887.4h2.8v2.8h-2.8zM191.2 895.1h2.8v2.8h-2.8zM516.3 895.1h2.8v2.8h-2.8zM481.9 898.9h6.7v2.8h-6.7zM501.0 898.9h2.8v2.8h-2.8zM478.1 902.7h2.8v2.8h-2.8zM497.2 902.7h2.8v2.8h-2.8zM459.0 906.6h2.8v2.8h-2.8zM195.0 910.4h2.8v2.8h-2.8zM210.3 910.4h2.8v2.8h-2.8zM344.2 910.4h2.8v2.8h-2.8zM302.1 914.2h2.8v2.8h-2.8zM470.4 914.2h2.8v2.8h-2.8zM229.4 918.0h2.8v2.8h-2.8zM275.4 918.0h2.8v2.8h-2.8zM302.1 918.0h2.8v2.8h-2.8zM283.0 921.9h2.8v2.8h-2.8zM305.9 921.9h2.8v2.8h-2.8zM321.2 921.9h2.8v2.8h-2.8zM328.9 921.9h2.8v2.8h-2.8zM210.3 925.7h2.8v2.8h-2.8zM294.5 925.7h2.8v2.8h-2.8zM198.8 929.5h2.8v2.8h-2.8zM214.2 933.3h2.8v2.8h-2.8zM256.2 937.2h2.8v2.8h-2.8zM263.9 937.2h2.8v2.8h-2.8zM784.1 464.3h2.8v3.8h-2.8zM799.4 517.8h2.8v3.8h-2.8zM711.4 521.6h2.8v3.8h-2.8zM742.0 536.9h2.8v3.8h-2.8zM738.2 567.5h2.8v3.8h-2.8zM715.2 590.5h2.8v3.8h-2.8zM680.8 605.8h2.8v3.8h-2.8zM684.6 605.8h2.8v3.8h-2.8zM638.7 655.5h2.8v3.8h-2.8zM699.9 697.6h2.8v3.8h-2.8zM673.1 712.9h2.8v3.8h-2.8zM168.2 865.9h2.8v3.8h-2.8zM302.1 915.6h2.8v3.8h-2.8zM675.1 412.2h2.8v2.8h-2.8zM675.1 442.4h2.8v2.8h-2.8zM611.1 459.3h2.8v2.8h-2.8zM602.1 466.8h6.7v2.8h-6.7zM645.4 470.6h2.8v2.8h-2.8zM698.1 752.2h2.8v2.8h-2.8zM633.7 765.1h2.8v2.8h-2.8zM637.3 776.5h2.8v2.8h-2.8zM614.7 784.2h2.8v2.8h-2.8zM573.3 438.5h2.8v2.8h-2.8zM384.7 534.7h2.8v2.8h-2.8zM369.4 556.9h2.8v2.8h-2.8zM569.7 466.8h2.8v2.8h-2.8zM595.9 497.1h2.8v2.8h-2.8zM573.3 495.2h2.8v6.7h-2.8zM439.3 531.1h2.8v6.7h-2.8zM405.3 657.4h2.8v2.8h-2.8zM450.2 684.0h2.8v2.8h-2.8zM454.1 684.0h2.8v2.8h-2.8zM480.7 733.0h2.8v2.8h-2.8zM354.7 783.6h2.8v2.8h-2.8zM392.2 791.4h2.8v2.8h-2.8zM395.9 806.5h2.8v2.8h-2.8zM391.3 825.7h6.7v2.8h-6.7zM392.2 833.1h2.8v2.8h-2.8zM396.0 840.6h6.7v2.8h-6.7zM358.4 844.2h2.8v2.8h-2.8zM509.2 763.3h6.7v2.8h-6.7zM484.6 848.4h2.8v2.8h-2.8zM418.7 874.5h6.7v2.8h-6.7zM506.9 900.7h2.8v2.8h-2.8zM141.1 764.5h2.8v6.7h-2.8zM182.9 780.0h2.8v2.8h-2.8zM190.2 791.4h2.8v2.8h-2.8zM252.4 825.4h2.8v2.8h-2.8zM235.5 897.1h2.8v2.8h-2.8zM263.6 897.1h2.8v2.8h-2.8zM301.9 903.5h2.8v6.7h-2.8zM175.4 870.6h2.8v2.8h-2.8zM198.0 866.8h2.8v2.8h-2.8zM198.0 874.5h2.8v2.8h-2.8zM122.3 733.0h2.8v2.8h-2.8zM278.9 569.4h2.8v2.8h-2.8zM256.4 500.9h2.8v2.8h-2.8zM251.3 538.4h6.7v2.8h-6.7zM267.8 531.1h2.8v2.8h-2.8zM279.0 549.8h2.8v2.8h-2.8zM279.0 563.0h2.8v6.7h-2.8zM275.1 515.9h2.8v2.8h-2.8zM286.5 557.6h2.8v2.8h-2.8z"/>
<path fill="#dcc6ee" stroke="#dcc6ee" d="M661.7 394.0h2.8v2.8h-2.8zM615.8 401.7h2.8v2.8h-2.8zM615.8 409.3h2.8v2.8h-2.8zM765.0 443.7h2.8v2.8h-2.8zM765.0 462.9h2.8v2.8h-2.8zM772.6 466.7h2.8v2.8h-2.8zM791.7 466.7h2.8v2.8h-2.8zM768.8 474.3h2.8v2.8h-2.8zM608.1 485.8h2.8v2.8h-2.8zM650.2 485.8h2.8v2.8h-2.8zM608.1 493.5h2.8v2.8h-2.8zM608.1 501.1h2.8v2.8h-2.8zM623.4 501.1h2.8v2.8h-2.8zM703.8 516.4h2.8v2.8h-2.8zM742.0 516.4h2.8v2.8h-2.8zM627.2 520.2h2.8v2.8h-2.8zM654.0 520.2h2.8v2.8h-2.8zM585.2 524.1h2.8v2.8h-2.8zM745.8 524.1h2.8v2.8h-2.8zM592.8 527.9h2.8v2.8h-2.8zM654.0 527.9h2.8v2.8h-2.8zM665.5 527.9h2.8v2.8h-2.8zM604.3 531.7h6.7v2.8h-6.7zM734.4 531.7h2.8v2.8h-2.8zM742.0 531.7h2.8v2.8h-2.8zM589.0 535.5h6.7v2.8h-6.7zM573.7 539.4h2.8v2.8h-2.8zM585.2 539.4h2.8v2.8h-2.8zM707.6 539.4h2.8v2.8h-2.8zM745.8 539.4h2.8v2.8h-2.8zM573.7 543.2h2.8v2.8h-2.8zM612.0 543.2h2.8v2.8h-2.8zM627.2 554.6h2.8v2.8h-2.8zM634.9 554.6h2.8v2.8h-2.8zM707.6 558.5h2.8v2.8h-2.8zM715.2 558.5h2.8v2.8h-2.8zM734.4 558.5h2.8v2.8h-2.8zM726.7 562.3h2.8v2.8h-2.8zM734.4 562.3h2.8v2.8h-2.8zM677.0 566.1h2.8v2.8h-2.8zM692.3 566.1h2.8v2.8h-2.8zM699.9 566.1h2.8v2.8h-2.8zM734.4 566.1h2.8v2.8h-2.8zM550.8 570.0h2.8v2.8h-2.8zM585.2 570.0h6.7v2.8h-6.7zM646.4 570.0h2.8v2.8h-2.8zM688.5 570.0h10.5v2.8h-10.5zM546.9 573.8h2.8v2.8h-2.8zM569.9 573.8h6.7v2.8h-6.7zM638.7 573.8h2.8v2.8h-2.8zM684.6 573.8h2.8v2.8h-2.8zM726.7 573.8h2.8v2.8h-2.8zM665.5 577.6h2.8v2.8h-2.8zM726.7 577.6h6.7v2.8h-6.7zM573.7 581.4h2.8v2.8h-2.8zM684.6 581.4h2.8v2.8h-2.8zM722.9 581.4h6.7v2.8h-6.7zM577.5 585.2h2.8v2.8h-2.8zM669.3 585.2h2.8v2.8h-2.8zM680.8 585.2h2.8v2.8h-2.8zM531.6 589.1h2.8v2.8h-2.8zM546.9 589.1h2.8v2.8h-2.8zM677.0 589.1h2.8v2.8h-2.8zM692.3 589.1h2.8v2.8h-2.8zM699.9 589.1h2.8v2.8h-2.8zM669.3 592.9h2.8v2.8h-2.8zM719.1 592.9h2.8v2.8h-2.8zM734.4 600.6h2.8v2.8h-2.8zM677.0 604.4h2.8v2.8h-2.8zM688.5 604.4h2.8v2.8h-2.8zM711.4 604.4h2.8v2.8h-2.8zM791.7 604.4h2.8v2.8h-2.8zM776.4 608.2h2.8v2.8h-2.8zM784.1 608.2h2.8v2.8h-2.8zM791.7 608.2h2.8v2.8h-2.8zM719.1 612.0h2.8v2.8h-2.8zM761.1 612.0h2.8v2.8h-2.8zM726.7 615.9h2.8v2.8h-2.8zM684.6 619.7h2.8v2.8h-2.8zM692.3 623.5h2.8v2.8h-2.8zM707.6 623.5h2.8v2.8h-2.8zM726.7 623.5h2.8v2.8h-2.8zM600.5 627.3h2.8v2.8h-2.8zM631.1 627.3h2.8v2.8h-2.8zM661.7 627.3h2.8v2.8h-2.8zM696.1 627.3h6.7v2.8h-6.7zM726.7 627.3h2.8v2.8h-2.8zM623.4 631.2h2.8v2.8h-2.8zM684.6 631.2h2.8v2.8h-2.8zM730.5 631.2h2.8v2.8h-2.8zM569.9 635.0h2.8v2.8h-2.8zM619.6 635.0h2.8v2.8h-2.8zM669.3 635.0h6.7v2.8h-6.7zM684.6 635.0h6.7v2.8h-6.7zM722.9 635.0h2.8v2.8h-2.8zM730.5 635.0h2.8v2.8h-2.8zM784.1 635.0h2.8v2.8h-2.8zM822.3 635.0h2.8v2.8h-2.8zM604.3 638.8h2.8v2.8h-2.8zM627.2 638.8h2.8v2.8h-2.8zM650.2 638.8h2.8v2.8h-2.8zM657.9 638.8h2.8v2.8h-2.8zM711.4 638.8h2.8v2.8h-2.8zM722.9 638.8h2.8v2.8h-2.8zM631.1 642.6h2.8v2.8h-2.8zM677.0 642.6h2.8v2.8h-2.8zM707.6 642.6h6.7v2.8h-6.7zM730.5 642.6h2.8v2.8h-2.8zM787.9 642.6h2.8v2.8h-2.8zM589.0 646.5h2.8v2.8h-2.8zM615.8 646.5h2.8v2.8h-2.8zM634.9 646.5h2.8v2.8h-2.8zM612.0 650.3h2.8v2.8h-2.8zM661.7 650.3h6.7v2.8h-6.7zM585.2 654.1h2.8v2.8h-2.8zM634.9 654.1h2.8v2.8h-2.8zM612.0 657.9h2.8v2.8h-2.8zM745.8 657.9h2.8v2.8h-2.8zM608.1 661.8h2.8v2.8h-2.8zM615.8 661.8h2.8v2.8h-2.8zM661.7 661.8h2.8v2.8h-2.8zM711.4 665.6h2.8v2.8h-2.8zM520.1 669.4h2.8v2.8h-2.8zM543.1 669.4h2.8v2.8h-2.8zM719.1 669.4h2.8v2.8h-2.8zM726.7 669.4h2.8v2.8h-2.8zM730.5 673.2h2.8v2.8h-2.8zM543.1 677.1h2.8v2.8h-2.8zM501.0 680.9h2.8v2.8h-2.8zM485.7 684.7h2.8v2.8h-2.8zM531.6 684.7h2.8v2.8h-2.8zM512.5 688.5h2.8v2.8h-2.8zM535.5 688.5h2.8v2.8h-2.8zM707.6 692.4h2.8v2.8h-2.8zM531.6 696.2h2.8v2.8h-2.8zM550.8 696.2h2.8v2.8h-2.8zM696.1 696.2h2.8v2.8h-2.8zM703.8 696.2h2.8v2.8h-2.8zM726.7 696.2h2.8v2.8h-2.8zM543.1 700.0h2.8v2.8h-2.8zM707.6 700.0h2.8v2.8h-2.8zM524.0 703.8h2.8v2.8h-2.8zM722.9 703.8h6.7v2.8h-6.7zM669.3 711.5h2.8v2.8h-2.8zM696.1 715.3h2.8v2.8h-2.8zM738.2 715.3h2.8v2.8h-2.8zM569.9 719.1h2.8v2.8h-2.8zM673.1 719.1h2.8v2.8h-2.8zM692.3 719.1h2.8v2.8h-2.8zM696.1 723.0h6.7v2.8h-6.7zM715.2 730.6h2.8v2.8h-2.8zM554.6 738.2h2.8v2.8h-2.8zM558.4 749.7h2.8v2.8h-2.8zM562.2 753.6h6.7v2.8h-6.7zM623.4 757.4h2.8v2.8h-2.8zM615.8 772.7h2.8v2.8h-2.8zM573.7 788.0h2.8v2.8h-2.8zM512.5 791.8h2.8v2.8h-2.8zM577.5 791.8h2.8v2.8h-2.8zM478.1 795.6h2.8v2.8h-2.8zM501.0 795.6h6.7v2.8h-6.7zM175.9 807.1h2.8v2.8h-2.8zM382.5 810.9h2.8v2.8h-2.8zM172.1 814.8h2.8v2.8h-2.8zM420.7 818.6h2.8v2.8h-2.8zM501.0 826.2h2.8v2.8h-2.8zM569.9 833.9h2.8v2.8h-2.8zM592.8 833.9h2.8v2.8h-2.8zM355.7 837.7h2.8v2.8h-2.8zM615.8 841.5h2.8v2.8h-2.8zM206.5 849.2h2.8v2.8h-2.8zM527.8 849.2h2.8v2.8h-2.8zM577.5 849.2h2.8v2.8h-2.8zM206.5 853.0h2.8v2.8h-2.8zM206.5 856.8h2.8v2.8h-2.8zM531.6 856.8h2.8v2.8h-2.8zM615.8 856.8h2.8v2.8h-2.8zM179.7 864.5h2.8v2.8h-2.8zM183.6 868.3h2.8v2.8h-2.8zM168.2 872.1h2.8v2.8h-2.8zM187.4 872.1h2.8v2.8h-2.8zM436.0 872.1h2.8v2.8h-2.8zM459.0 872.1h2.8v2.8h-2.8zM436.0 876.0h6.7v2.8h-6.7zM543.1 876.0h2.8v2.8h-2.8zM195.0 879.8h2.8v2.8h-2.8zM451.3 879.8h2.8v2.8h-2.8zM508.7 883.6h2.8v2.8h-2.8zM566.1 883.6h2.8v2.8h-2.8zM191.2 887.4h2.8v2.8h-2.8zM569.9 887.4h2.8v2.8h-2.8zM179.7 895.1h2.8v2.8h-2.8zM198.8 895.1h2.8v2.8h-2.8zM520.1 895.1h2.8v2.8h-2.8zM485.7 902.7h2.8v2.8h-2.8zM481.9 906.6h2.8v2.8h-2.8zM309.8 910.4h2.8v2.8h-2.8zM351.9 910.4h6.7v2.8h-6.7zM478.1 910.4h2.8v2.8h-2.8zM233.3 914.2h2.8v2.8h-2.8zM298.3 914.2h2.8v2.8h-2.8zM313.6 914.2h2.8v2.8h-2.8zM328.9 914.2h2.8v2.8h-2.8zM233.3 918.0h2.8v2.8h-2.8zM256.2 918.0h2.8v2.8h-2.8zM248.6 921.9h2.8v2.8h-2.8zM309.8 921.9h2.8v2.8h-2.8zM317.4 925.7h2.8v2.8h-2.8zM210.3 933.3h2.8v2.8h-2.8zM573.7 540.8h2.8v3.8h-2.8zM734.4 559.9h2.8v3.8h-2.8zM734.4 563.7h2.8v3.8h-2.8zM692.3 567.5h2.8v3.8h-2.8zM726.7 575.2h2.8v3.8h-2.8zM726.7 579.0h2.8v3.8h-2.8zM791.7 605.8h2.8v3.8h-2.8zM726.7 624.9h2.8v3.8h-2.8zM684.6 632.6h2.8v3.8h-2.8zM730.5 632.6h2.8v3.8h-2.8zM722.9 636.4h2.8v3.8h-2.8zM711.4 640.2h2.8v3.8h-2.8zM206.5 850.6h2.8v3.8h-2.8zM206.5 854.4h2.8v3.8h-2.8zM436.0 873.5h2.8v3.8h-2.8zM233.3 915.6h2.8v3.8h-2.8zM607.2 434.8h2.8v2.8h-2.8zM686.5 434.8h2.8v2.8h-2.8zM629.8 455.4h2.8v2.8h-2.8zM625.9 459.3h2.8v2.8h-2.8zM629.8 462.9h2.8v2.8h-2.8zM652.5 462.9h2.8v2.8h-2.8zM660.3 470.6h2.8v2.8h-2.8zM656.4 478.0h2.8v2.8h-2.8zM671.5 478.0h2.8v2.8h-2.8zM607.2 474.5h2.8v2.8h-2.8zM648.6 489.4h2.8v2.8h-2.8zM741.2 500.7h2.8v2.8h-2.8zM779.0 439.0h2.8v2.8h-2.8zM786.8 442.4h2.8v2.8h-2.8zM767.7 396.8h2.8v2.8h-2.8zM790.4 485.9h2.8v2.8h-2.8zM798.2 478.0h2.8v2.8h-2.8zM798.2 489.4h2.8v2.8h-2.8zM794.1 496.8h2.8v2.8h-2.8zM701.7 534.7h2.8v2.8h-2.8zM686.5 542.1h2.8v2.8h-2.8zM595.9 419.8h2.8v2.8h-2.8zM595.9 459.3h2.8v2.8h-2.8zM565.8 466.8h2.8v2.8h-2.8zM514.7 523.3h2.8v2.8h-2.8zM573.3 523.3h2.8v2.8h-2.8zM561.9 538.6h2.8v2.8h-2.8zM447.1 595.3h2.8v2.8h-2.8zM380.8 646.0h2.8v2.8h-2.8zM399.1 653.5h6.7v2.8h-6.7zM439.3 710.1h2.8v2.8h-2.8zM447.1 714.3h2.8v2.8h-2.8zM365.9 725.7h2.8v2.8h-2.8zM405.3 729.3h2.8v2.8h-2.8zM533.8 595.3h2.8v2.8h-2.8zM526.0 591.4h2.8v2.8h-2.8zM541.1 560.9h2.8v2.8h-2.8zM541.1 572.6h2.8v2.8h-2.8zM580.6 591.4h2.8v2.8h-2.8zM409.2 760.9h2.8v2.8h-2.8zM439.3 760.9h2.8v2.8h-2.8zM454.5 776.1h2.8v2.8h-2.8zM431.8 795.3h2.8v2.8h-2.8zM413.1 795.3h2.8v2.8h-2.8zM354.7 810.1h2.8v2.8h-2.8zM365.9 810.1h2.8v2.8h-2.8zM401.1 806.5h2.8v2.8h-2.8zM395.9 817.9h2.8v2.8h-2.8zM347.2 817.9h2.8v2.8h-2.8zM450.6 848.1h2.8v2.8h-2.8zM431.8 882.0h2.8v2.8h-2.8zM347.2 889.8h2.8v2.8h-2.8zM473.2 885.9h2.8v2.8h-2.8zM526.0 825.7h2.8v2.8h-2.8zM533.8 780.0h2.8v2.8h-2.8zM537.7 787.5h2.8v2.8h-2.8zM263.6 795.3h2.8v2.8h-2.8zM256.1 866.8h2.8v2.8h-2.8zM239.4 903.5h2.8v6.7h-2.8zM252.4 591.5h2.8v2.8h-2.8zM290.2 608.4h2.8v2.8h-2.8zM275.3 638.4h2.8v2.8h-2.8zM259.7 642.3h2.8v2.8h-2.8zM328.0 751.6h2.8v2.8h-2.8zM252.5 489.7h2.8v2.8h-2.8zM260.0 493.6h2.8v2.8h-2.8zM271.5 549.8h2.8v2.8h-2.8z"/>
<path fill="#ff935f" stroke="#ff935f" d="M761.1 443.7h2.8v2.8h-2.8zM619.6 482.0h2.8v2.8h-2.8zM638.7 482.0h2.8v2.8h-2.8zM742.0 482.0h2.8v2.8h-2.8zM768.8 482.0h2.8v2.8h-2.8zM646.4 508.8h2.8v2.8h-2.8zM612.0 520.2h2.8v2.8h-2.8zM638.7 520.2h2.8v2.8h-2.8zM569.9 524.1h2.8v2.8h-2.8zM569.9 535.5h2.8v2.8h-2.8zM608.1 543.2h2.8v2.8h-2.8zM623.4 562.3h2.8v2.8h-2.8zM573.7 570.0h2.8v2.8h-2.8zM654.0 570.0h2.8v2.8h-2.8zM631.1 573.8h2.8v2.8h-2.8zM531.6 577.6h2.8v2.8h-2.8zM726.7 585.2h2.8v2.8h-2.8zM543.1 589.1h2.8v2.8h-2.8zM615.8 589.1h2.8v2.8h-2.8zM669.3 589.1h2.8v2.8h-2.8zM734.4 612.0h2.8v2.8h-2.8zM638.7 615.9h2.8v2.8h-2.8zM600.5 623.5h2.8v2.8h-2.8zM684.6 627.3h2.8v2.8h-2.8zM814.7 627.3h2.8v2.8h-2.8zM673.1 638.8h2.8v2.8h-2.8zM795.5 638.8h2.8v2.8h-2.8zM566.1 642.6h2.8v2.8h-2.8zM661.7 642.6h2.8v2.8h-2.8zM810.9 642.6h2.8v2.8h-2.8zM807.0 646.5h2.8v2.8h-2.8zM810.9 650.3h2.8v2.8h-2.8zM657.9 661.8h2.8v2.8h-2.8zM619.6 669.4h2.8v2.8h-2.8zM501.0 673.2h2.8v2.8h-2.8zM715.2 677.1h2.8v2.8h-2.8zM489.6 680.9h2.8v2.8h-2.8zM543.1 680.9h2.8v2.8h-2.8zM768.8 700.0h2.8v2.8h-2.8zM558.4 738.2h2.8v2.8h-2.8zM661.7 738.2h2.8v2.8h-2.8zM722.9 742.1h2.8v2.8h-2.8zM512.5 745.9h2.8v2.8h-2.8zM562.2 749.7h2.8v2.8h-2.8zM615.8 780.3h2.8v2.8h-2.8zM543.1 791.8h2.8v2.8h-2.8zM508.7 826.2h2.8v2.8h-2.8zM596.6 833.9h2.8v2.8h-2.8zM424.5 841.5h2.8v2.8h-2.8zM558.4 872.1h2.8v2.8h-2.8zM447.5 879.8h2.8v2.8h-2.8zM191.2 898.9h2.8v2.8h-2.8zM237.1 910.4h2.8v2.8h-2.8zM260.1 910.4h2.8v2.8h-2.8zM240.9 918.0h2.8v2.8h-2.8zM240.9 921.9h2.8v2.8h-2.8zM302.1 921.9h2.8v2.8h-2.8zM248.6 925.7h2.8v2.8h-2.8zM240.9 919.4h2.8v3.8h-2.8zM686.5 404.7h2.8v2.8h-2.8zM686.5 419.8h2.8v2.8h-2.8zM686.5 442.4h2.8v2.8h-2.8zM682.9 455.4h2.8v2.8h-2.8zM641.1 478.0h2.8v2.8h-2.8zM625.9 482.0h2.8v2.8h-2.8zM618.4 470.6h2.8v2.8h-2.8zM622.0 478.0h2.8v2.8h-2.8zM767.7 478.0h2.8v2.8h-2.8zM718.8 496.8h2.8v2.8h-2.8zM714.9 549.9h2.8v2.8h-2.8zM726.6 523.3h2.8v2.8h-2.8zM726.3 530.8h6.7v2.8h-6.7zM675.1 744.8h2.8v2.8h-2.8zM607.2 769.0h2.8v2.8h-2.8zM607.2 788.2h2.8v2.8h-2.8zM625.9 821.8h2.8v6.7h-2.8zM558.3 474.5h2.8v2.8h-2.8zM547.5 515.8h6.7v2.8h-6.7zM511.1 523.3h2.8v2.8h-2.8zM565.8 534.7h2.8v2.8h-2.8zM477.1 568.7h2.8v2.8h-2.8zM439.3 595.3h2.8v2.8h-2.8zM488.5 612.2h2.8v2.8h-2.8zM499.7 619.8h2.8v2.8h-2.8zM450.2 672.6h2.8v2.8h-2.8zM472.9 661.3h2.8v2.8h-2.8zM482.7 672.6h6.7v2.8h-6.7zM493.6 691.6h6.7v2.8h-6.7zM499.9 687.7h6.7v2.8h-6.7zM522.1 680.4h2.8v2.8h-2.8zM558.0 684.0h2.8v2.8h-2.8zM537.7 714.3h2.8v2.8h-2.8zM541.1 717.9h2.8v2.8h-2.8zM507.2 721.8h2.8v2.8h-2.8zM443.2 721.8h2.8v2.8h-2.8zM384.7 721.8h2.8v2.8h-2.8zM495.8 729.3h2.8v2.8h-2.8zM507.2 748.3h2.8v2.8h-2.8zM515.0 564.8h2.8v2.8h-2.8zM339.4 657.4h2.8v2.8h-2.8zM377.3 780.0h2.8v2.8h-2.8zM413.1 783.6h2.8v2.8h-2.8zM503.3 772.6h2.8v2.8h-2.8zM384.7 817.9h2.8v2.8h-2.8zM347.2 825.7h2.8v2.8h-2.8zM362.0 829.2h2.8v2.8h-2.8zM388.6 844.2h2.8v2.8h-2.8zM416.7 840.6h2.8v2.8h-2.8zM401.1 829.2h2.8v2.8h-2.8zM454.5 817.9h2.8v2.8h-2.8zM495.8 817.9h2.8v2.8h-2.8zM473.2 814.0h2.8v2.8h-2.8zM518.5 829.2h2.8v2.8h-2.8zM473.2 851.8h2.8v2.8h-2.8zM484.6 851.8h2.8v2.8h-2.8zM480.7 859.3h2.8v2.8h-2.8zM439.3 855.4h2.8v2.8h-2.8zM413.1 859.3h2.8v2.8h-2.8zM420.6 859.3h2.8v2.8h-2.8zM454.5 870.6h2.8v2.8h-2.8zM456.1 882.0h6.7v2.8h-6.7zM488.5 885.9h2.8v2.8h-2.8zM558.3 889.8h2.8v2.8h-2.8zM506.9 806.2h2.8v2.8h-2.8zM339.4 914.0h2.8v2.8h-2.8zM171.5 768.4h2.8v6.7h-2.8zM179.0 817.9h2.8v2.8h-2.8zM212.9 878.5h2.8v2.8h-2.8zM163.7 866.8h2.8v2.8h-2.8zM328.0 591.5h2.8v2.8h-2.8zM335.5 635.0h2.8v2.8h-2.8zM263.7 497.0h2.8v2.8h-2.8zM267.8 500.9h2.8v2.8h-2.8zM267.7 504.8h6.7v2.8h-6.7zM279.0 515.9h2.8v2.8h-2.8zM282.9 519.8h2.8v2.8h-2.8zM279.1 523.6h6.7v2.8h-6.7zM282.9 527.5h2.8v2.8h-2.8zM286.5 538.9h2.8v10.5h-2.8zM267.8 542.3h2.8v2.8h-2.8z"/>
<path fill="#be8fe9" stroke="#be8fe9" d="M684.6 397.8h2.8v2.8h-2.8zM776.4 424.6h2.8v2.8h-2.8zM765.0 428.4h2.8v2.8h-2.8zM772.6 436.1h2.8v2.8h-2.8zM761.1 439.9h2.8v2.8h-2.8zM791.7 470.5h2.8v2.8h-2.8zM673.1 489.6h2.8v2.8h-2.8zM780.2 489.6h2.8v2.8h-2.8zM780.2 501.1h2.8v2.8h-2.8zM612.0 508.8h2.8v2.8h-2.8zM772.6 524.1h2.8v2.8h-2.8zM585.2 527.9h2.8v2.8h-2.8zM703.8 527.9h2.8v2.8h-2.8zM596.6 535.5h2.8v2.8h-2.8zM612.0 539.4h2.8v2.8h-2.8zM707.6 547.0h2.8v2.8h-2.8zM612.0 554.6h2.8v2.8h-2.8zM715.2 554.6h2.8v2.8h-2.8zM726.7 558.5h2.8v2.8h-2.8zM634.9 562.3h2.8v2.8h-2.8zM722.9 562.3h2.8v2.8h-2.8zM730.5 566.1h2.8v2.8h-2.8zM589.0 573.8h2.8v2.8h-2.8zM596.6 573.8h2.8v2.8h-2.8zM627.2 577.6h2.8v2.8h-2.8zM722.9 577.6h2.8v2.8h-2.8zM711.4 581.4h2.8v2.8h-2.8zM719.1 581.4h2.8v2.8h-2.8zM573.7 585.2h2.8v2.8h-2.8zM608.1 585.2h2.8v2.8h-2.8zM711.4 585.2h2.8v2.8h-2.8zM719.1 585.2h2.8v2.8h-2.8zM677.0 596.7h2.8v2.8h-2.8zM738.2 600.6h2.8v2.8h-2.8zM665.5 604.4h2.8v2.8h-2.8zM757.3 608.2h2.8v2.8h-2.8zM780.2 608.2h2.8v2.8h-2.8zM696.1 612.0h2.8v2.8h-2.8zM765.0 612.0h2.8v2.8h-2.8zM596.6 623.5h2.8v2.8h-2.8zM612.0 623.5h2.8v2.8h-2.8zM627.2 627.3h2.8v2.8h-2.8zM692.3 627.3h2.8v2.8h-2.8zM688.5 631.2h2.8v2.8h-2.8zM730.5 638.8h2.8v2.8h-2.8zM791.7 638.8h2.8v2.8h-2.8zM665.5 642.6h2.8v2.8h-2.8zM726.7 642.6h2.8v2.8h-2.8zM742.0 650.3h2.8v2.8h-2.8zM795.5 650.3h2.8v2.8h-2.8zM619.6 657.9h2.8v2.8h-2.8zM742.0 657.9h2.8v2.8h-2.8zM665.5 665.6h2.8v2.8h-2.8zM642.6 669.4h2.8v2.8h-2.8zM650.2 669.4h2.8v2.8h-2.8zM604.3 673.2h2.8v2.8h-2.8zM615.8 673.2h2.8v2.8h-2.8zM531.6 680.9h2.8v2.8h-2.8zM531.6 692.4h2.8v2.8h-2.8zM543.1 696.2h2.8v2.8h-2.8zM707.6 742.1h2.8v2.8h-2.8zM684.6 753.6h2.8v2.8h-2.8zM577.5 788.0h2.8v2.8h-2.8zM481.9 795.6h2.8v2.8h-2.8zM172.1 810.9h6.7v2.8h-6.7zM175.9 814.8h2.8v2.8h-2.8zM416.9 818.6h2.8v2.8h-2.8zM428.4 818.6h2.8v2.8h-2.8zM179.7 868.3h2.8v2.8h-2.8zM558.4 883.6h2.8v2.8h-2.8zM206.5 887.4h2.8v2.8h-2.8zM183.6 906.6h2.8v2.8h-2.8zM340.4 910.4h2.8v2.8h-2.8zM321.2 918.0h2.8v2.8h-2.8zM325.1 921.9h2.8v2.8h-2.8zM325.1 925.7h2.8v2.8h-2.8zM711.4 582.8h2.8v3.8h-2.8zM719.1 582.8h2.8v3.8h-2.8zM175.9 812.3h2.8v3.8h-2.8zM325.1 923.3h2.8v3.8h-2.8zM660.3 374.2h2.8v2.8h-2.8zM652.5 389.4h2.8v2.8h-2.8zM679.0 404.7h2.8v2.8h-2.8zM698.1 430.9h2.8v2.8h-2.8zM752.7 419.8h2.8v2.8h-2.8zM629.8 474.5h2.8v2.8h-2.8zM699.7 519.4h6.7v2.8h-6.7zM699.7 542.1h6.7v2.8h-6.7zM730.2 534.7h2.8v2.8h-2.8zM711.0 546.0h2.8v2.8h-2.8zM741.5 542.1h2.8v2.8h-2.8zM749.0 546.0h2.8v2.8h-2.8zM686.5 748.4h2.8v2.8h-2.8zM679.0 744.5h2.8v6.7h-2.8zM625.6 776.5h6.7v2.8h-6.7zM610.8 784.2h2.8v2.8h-2.8zM547.5 478.0h6.7v2.8h-6.7zM580.9 459.3h2.8v2.8h-2.8zM573.3 470.6h2.8v2.8h-2.8zM580.9 474.5h2.8v2.8h-2.8zM577.0 478.0h2.8v2.8h-2.8zM529.9 519.4h2.8v2.8h-2.8zM435.4 538.6h2.8v2.8h-2.8zM558.3 553.8h2.8v2.8h-2.8zM569.7 553.8h2.8v2.8h-2.8zM569.7 542.1h2.8v2.8h-2.8zM416.7 653.5h2.8v2.8h-2.8zM472.9 684.0h2.8v2.8h-2.8zM484.6 687.7h2.8v2.8h-2.8zM507.2 691.6h2.8v2.8h-2.8zM518.5 695.5h2.8v2.8h-2.8zM565.8 695.5h2.8v2.8h-2.8zM544.8 653.5h10.5v2.8h-10.5zM540.9 665.2h10.5v2.8h-10.5zM565.8 627.3h2.8v2.8h-2.8zM577.0 630.9h2.8v2.8h-2.8zM565.8 583.6h2.8v2.8h-2.8zM526.0 583.6h2.8v2.8h-2.8zM458.0 721.8h2.8v2.8h-2.8zM473.2 725.7h2.8v2.8h-2.8zM358.4 713.9h2.8v6.7h-2.8zM511.1 717.9h2.8v2.8h-2.8zM537.3 710.1h10.5v2.8h-10.5zM469.8 893.2h2.8v2.8h-2.8zM424.2 787.5h2.8v2.8h-2.8zM469.4 776.1h2.8v2.8h-2.8zM492.4 798.9h2.8v2.8h-2.8zM465.9 810.1h2.8v2.8h-2.8zM413.1 817.9h2.8v2.8h-2.8zM373.3 848.4h2.8v2.8h-2.8zM365.9 863.2h2.8v2.8h-2.8zM439.3 844.2h2.8v2.8h-2.8zM388.6 897.1h2.8v2.8h-2.8zM443.2 903.5h2.8v6.7h-2.8zM511.1 817.9h2.8v2.8h-2.8zM514.7 829.2h2.8v2.8h-2.8zM561.9 821.8h2.8v2.8h-2.8zM573.3 840.6h2.8v2.8h-2.8zM511.1 866.8h2.8v2.8h-2.8zM186.3 795.3h2.8v2.8h-2.8zM175.4 874.5h2.8v2.8h-2.8zM190.2 851.8h2.8v2.8h-2.8zM259.7 863.2h2.8v2.8h-2.8zM312.8 608.4h2.8v2.8h-2.8zM263.7 500.9h2.8v2.8h-2.8zM279.0 553.7h2.8v6.7h-2.8z"/>
<path fill="#ff5b30" stroke="#ff5b30" d="M698.1 638.4h2.8v2.8h-2.8zM698.1 706.3h2.8v2.8h-2.8zM764.1 619.6h2.8v2.8h-2.8zM730.2 612.1h2.8v2.8h-2.8zM633.7 740.4h2.8v2.8h-2.8zM358.4 598.9h2.8v2.8h-2.8zM547.5 733.0h6.7v2.8h-6.7zM547.5 848.4h6.7v2.8h-6.7zM573.3 765.1h2.8v2.8h-2.8zM584.5 795.3h2.8v2.8h-2.8zM499.4 855.4h2.8v2.8h-2.8zM252.4 933.0h2.8v2.8h-2.8zM290.3 549.8h2.8v2.8h-2.8z"/>
<path fill="#7744f8" stroke="#7744f8" d="M794.1 482.0h2.8v2.8h-2.8zM625.9 653.5h2.8v2.8h-2.8zM707.4 598.9h2.8v2.8h-2.8zM694.2 598.9h2.8v2.8h-2.8zM718.8 565.0h2.8v2.8h-2.8zM714.9 576.4h2.8v2.8h-2.8zM786.8 619.6h2.8v2.8h-2.8zM547.5 754.2h6.7v6.7h-6.7zM416.7 653.5h2.8v2.8h-2.8zM507.2 710.1h2.8v2.8h-2.8zM511.1 717.9h2.8v2.8h-2.8z"/>
<path fill="#5c5c5c" stroke="#5c5c5c" stroke-width="1" d="M675.4 378.4h2.2v2.2h-2.2zM686.8 393.2h2.2v2.2h-2.2zM664.2 397.1h2.2v2.2h-2.2zM686.8 412.5h2.2v2.2h-2.2zM683.2 423.7h2.2v2.2h-2.2zM637.9 435.1h2.2v2.2h-2.2zM660.6 438.8h2.2v2.2h-2.2zM753.0 435.1h2.2v2.2h-2.2zM722.7 538.9h2.2v2.2h-2.2zM801.9 527.5h2.2v2.2h-2.2zM664.2 557.5h2.2v2.2h-2.2zM679.3 572.6h2.2v2.2h-2.2zM615.0 599.2h2.2v2.2h-2.2zM618.7 612.4h2.2v2.2h-2.2zM630.1 619.9h2.2v2.2h-2.2zM622.7 623.8h6.1v2.2h-6.1zM611.0 627.0h6.1v2.2h-6.1zM611.4 634.8h2.2v2.2h-2.2zM656.7 623.8h2.2v2.2h-2.2zM664.2 616.1h2.2v9.9h-2.2zM660.6 631.2h2.2v2.2h-2.2zM648.9 642.6h2.2v2.2h-2.2zM637.6 642.6h2.2v2.2h-2.2zM675.4 657.7h2.2v2.2h-2.2zM686.8 653.8h2.2v2.2h-2.2zM698.4 646.5h2.2v2.2h-2.2zM707.7 648.5h2.2v6.1h-2.2zM722.7 650.4h2.2v2.2h-2.2zM719.1 653.8h2.2v2.2h-2.2zM726.6 608.2h2.2v2.2h-2.2zM722.7 616.0h2.2v2.2h-2.2zM734.0 619.9h2.2v2.2h-2.2zM745.4 619.9h2.2v2.2h-2.2zM737.5 631.2h6.1v2.2h-6.1zM741.5 639.1h2.2v6.1h-2.2zM760.5 642.6h2.2v2.2h-2.2zM764.4 631.2h2.2v2.2h-2.2zM753.0 650.0h2.2v6.1h-2.2zM759.0 653.8h9.9v2.2h-9.9zM768.0 656.6h2.2v2.2h-2.2zM775.7 657.8h2.2v6.1h-2.2zM779.3 619.9h2.2v2.2h-2.2zM779.3 627.0h2.2v2.2h-2.2zM775.7 612.4h2.2v2.2h-2.2zM824.5 619.9h2.2v2.2h-2.2zM764.4 676.6h2.2v2.2h-2.2zM730.5 680.5h2.2v2.2h-2.2zM690.6 691.8h2.2v2.2h-2.2zM630.1 695.3h2.2v6.1h-2.2zM671.8 725.3h2.2v2.2h-2.2zM679.0 729.3h6.1v2.2h-6.1zM686.8 733.2h2.2v2.2h-2.2zM695.0 737.1h9.9v2.2h-9.9zM719.1 732.8h2.2v6.1h-2.2zM641.5 740.7h6.1v2.2h-6.1zM637.6 748.7h2.2v2.2h-2.2zM641.5 752.5h6.1v2.2h-6.1zM656.3 748.7h6.1v2.2h-6.1zM671.8 744.8h2.2v6.1h-2.2zM698.4 748.7h2.2v2.2h-2.2zM698.4 761.8h2.2v2.2h-2.2zM607.5 765.4h2.2v2.2h-2.2zM615.0 769.3h2.2v2.2h-2.2zM626.2 769.3h2.2v2.2h-2.2zM607.1 773.2h6.1v2.2h-6.1zM641.4 780.6h2.2v2.2h-2.2zM618.8 784.5h6.1v2.2h-6.1zM615.0 792.5h2.2v2.2h-2.2zM630.1 792.5h2.2v2.2h-2.2zM618.7 814.6h2.2v2.2h-2.2zM641.4 814.6h2.2v2.2h-2.2zM611.4 845.1h2.2v2.2h-2.2zM518.8 486.2h2.2v2.2h-2.2zM588.7 455.7h2.2v2.2h-2.2zM592.6 459.6h2.2v2.2h-2.2zM584.8 470.9h2.2v2.2h-2.2zM588.7 486.2h2.2v2.2h-2.2zM545.0 497.4h2.2v2.2h-2.2zM522.7 501.0h2.2v2.2h-2.2zM566.1 512.7h2.2v2.2h-2.2zM554.8 516.1h6.1v2.2h-6.1zM554.7 519.7h2.2v2.2h-2.2zM526.3 519.7h2.2v2.2h-2.2zM511.4 535.0h2.2v2.2h-2.2zM534.1 535.0h2.2v2.2h-2.2zM547.8 535.0h6.1v2.2h-6.1zM481.0 550.2h2.2v2.2h-2.2zM488.8 554.1h2.2v2.2h-2.2zM503.6 557.2h2.2v2.2h-2.2zM392.5 516.1h2.2v2.2h-2.2zM399.0 519.7h6.1v2.2h-6.1zM424.5 523.6h2.2v2.2h-2.2zM409.5 527.5h2.2v2.2h-2.2zM362.3 561.2h2.2v2.2h-2.2zM351.1 599.2h2.2v2.2h-2.2zM358.7 608.9h2.2v2.2h-2.2zM362.3 627.6h2.2v2.2h-2.2zM347.5 631.5h2.2v2.2h-2.2zM417.0 608.9h2.2v2.2h-2.2zM443.2 587.8h6.1v2.2h-6.1zM473.5 580.3h2.2v2.2h-2.2zM503.6 583.9h2.2v2.2h-2.2zM507.5 561.2h2.2v2.2h-2.2zM518.9 565.6h6.1v6.1h-6.1zM507.5 608.9h2.2v2.2h-2.2zM515.0 612.5h2.2v2.2h-2.2zM496.1 616.2h2.2v2.2h-2.2zM507.5 616.2h2.2v2.2h-2.2zM492.7 635.1h2.2v2.2h-2.2zM466.2 642.7h2.2v2.2h-2.2zM484.9 646.3h2.2v2.2h-2.2zM507.5 646.3h2.2v2.2h-2.2zM526.3 650.2h2.2v2.2h-2.2zM534.1 653.8h2.2v2.2h-2.2zM518.9 653.8h6.1v6.1h-6.1zM477.4 653.8h2.2v6.1h-2.2zM538.0 661.6h2.2v2.2h-2.2zM488.8 665.5h2.2v2.2h-2.2zM496.1 665.5h2.2v2.2h-2.2zM451.3 665.5h2.2v2.2h-2.2zM439.3 669.3h6.1v2.2h-6.1zM481.0 669.3h2.2v2.2h-2.2zM515.0 669.3h2.2v2.2h-2.2zM503.6 676.8h2.2v2.2h-2.2zM530.2 676.8h2.2v2.2h-2.2zM435.7 684.3h2.2v2.2h-2.2zM432.1 691.9h2.2v2.2h-2.2zM488.8 691.9h2.2v2.2h-2.2zM500.0 691.9h2.2v2.2h-2.2zM466.2 695.8h2.2v2.2h-2.2zM484.9 695.8h2.2v2.2h-2.2zM469.7 699.4h6.1v2.2h-6.1zM496.1 694.0h2.2v9.9h-2.2zM458.3 699.4h2.2v2.2h-2.2zM462.3 701.1h2.2v9.9h-2.2zM473.6 706.9h6.1v2.2h-6.1zM504.1 706.9h6.1v2.2h-6.1zM447.4 710.4h2.2v2.2h-2.2zM399.0 646.3h6.1v2.2h-6.1zM377.6 650.2h6.1v2.2h-6.1zM373.6 653.8h2.2v2.2h-2.2zM373.6 661.6h2.2v2.2h-2.2zM341.7 657.7h6.1v2.2h-6.1zM399.0 702.9h6.1v2.2h-6.1zM417.0 718.2h2.2v2.2h-2.2zM351.1 726.0h2.2v2.2h-2.2zM358.7 729.6h2.2v2.2h-2.2zM373.6 752.5h2.2v2.2h-2.2zM454.9 726.0h6.1v2.2h-6.1zM488.8 727.6h2.2v9.9h-2.2zM492.4 726.0h6.1v2.2h-6.1zM518.8 726.0h2.2v2.2h-2.2zM534.1 726.0h2.2v2.2h-2.2zM547.8 726.0h6.1v2.2h-6.1zM562.2 726.0h2.2v2.2h-2.2zM566.1 714.6h2.2v2.2h-2.2zM570.0 706.9h2.2v2.2h-2.2zM534.1 702.9h2.2v2.2h-2.2zM545.0 691.9h2.2v2.2h-2.2zM547.8 684.3h6.1v2.2h-6.1zM566.1 669.3h2.2v2.2h-2.2zM566.1 650.2h2.2v2.2h-2.2zM584.8 661.6h2.2v2.2h-2.2zM588.7 638.8h2.2v2.2h-2.2zM596.2 642.7h2.2v2.2h-2.2zM592.6 620.1h2.2v2.2h-2.2zM558.6 620.1h2.2v2.2h-2.2zM541.4 622.6h2.2v6.1h-2.2zM570.1 684.3h9.9v2.2h-9.9zM573.6 688.0h6.1v2.2h-6.1zM584.8 688.0h2.2v2.2h-2.2zM580.9 680.4h2.2v2.2h-2.2zM588.7 676.8h2.2v2.2h-2.2zM563.8 695.8h2.2v2.2h-2.2zM573.1 695.8h2.2v2.2h-2.2zM566.5 699.4h6.1v2.2h-6.1zM584.8 699.4h2.2v2.2h-2.2zM581.0 702.9h9.9v2.2h-9.9zM447.4 737.2h2.2v2.2h-2.2zM466.2 737.2h2.2v2.2h-2.2zM451.3 744.7h2.2v2.2h-2.2zM469.7 744.7h2.2v2.2h-2.2zM462.3 748.6h2.2v2.2h-2.2zM466.2 752.5h2.2v2.2h-2.2zM496.1 748.6h2.2v2.2h-2.2zM500.2 740.8h6.1v2.2h-6.1zM523.2 752.5h2.2v2.2h-2.2zM541.4 740.8h2.2v2.2h-2.2zM545.0 744.7h2.2v2.2h-2.2zM562.2 744.7h2.2v2.2h-2.2zM566.1 737.2h2.2v2.2h-2.2zM573.9 733.3h2.2v2.2h-2.2zM569.7 744.7h13.7v2.2h-13.7zM541.5 754.9h6.1v2.2h-6.1zM351.1 761.2h2.2v2.2h-2.2zM454.8 761.2h2.2v2.2h-2.2zM507.5 761.2h2.2v2.2h-2.2zM541.4 761.2h2.2v2.2h-2.2zM554.7 761.7h2.2v6.1h-2.2zM584.8 761.2h2.2v2.2h-2.2zM515.0 769.0h2.2v2.2h-2.2zM570.0 769.0h2.2v2.2h-2.2zM584.8 769.0h2.2v2.2h-2.2zM596.2 765.2h2.2v9.9h-2.2zM447.1 769.0h6.1v2.2h-6.1zM466.2 769.0h2.2v2.2h-2.2zM435.7 772.6h6.1v6.1h-6.1zM443.5 780.3h2.2v2.2h-2.2zM439.6 783.9h2.2v2.2h-2.2zM443.5 787.8h2.2v2.2h-2.2zM424.5 783.9h2.2v2.2h-2.2zM462.3 776.4h2.2v2.2h-2.2zM469.7 783.9h2.2v2.2h-2.2zM462.4 785.9h6.1v13.7h-6.1zM447.4 795.6h2.2v2.2h-2.2zM396.2 799.2h2.2v2.2h-2.2zM413.4 799.2h2.2v2.2h-2.2zM366.2 803.1h2.2v2.2h-2.2zM420.9 806.8h2.2v2.2h-2.2zM454.8 803.1h2.2v2.2h-2.2zM466.2 806.8h2.2v2.2h-2.2zM511.4 780.3h2.2v2.2h-2.2zM518.8 780.3h2.2v2.2h-2.2zM530.2 780.3h2.2v2.2h-2.2zM507.5 791.7h2.2v2.2h-2.2zM558.6 780.3h2.2v2.2h-2.2zM570.0 776.4h2.2v2.2h-2.2zM573.6 780.3h2.2v2.2h-2.2zM600.0 783.9h2.2v2.2h-2.2zM545.0 795.6h2.2v2.2h-2.2zM541.4 799.2h2.2v2.2h-2.2zM545.0 803.1h2.2v2.2h-2.2zM566.1 795.6h2.2v2.2h-2.2zM569.3 795.2h9.9v6.1h-9.9zM585.3 799.2h6.1v2.2h-6.1zM511.4 803.1h2.2v2.2h-2.2zM526.3 810.4h2.2v2.2h-2.2zM522.7 814.3h2.2v2.2h-2.2zM545.0 814.3h2.2v2.2h-2.2zM547.8 818.2h6.1v2.2h-6.1zM515.0 818.2h6.1v2.2h-6.1zM526.3 822.1h2.2v2.2h-2.2zM518.8 826.0h2.2v2.2h-2.2zM596.2 810.5h2.2v6.1h-2.2zM481.0 826.0h2.2v2.2h-2.2zM484.9 833.5h2.2v6.1h-2.2zM450.9 814.3h2.2v2.2h-2.2zM450.9 829.5h2.2v2.2h-2.2zM405.7 829.5h6.1v2.2h-6.1zM413.4 833.4h2.2v2.2h-2.2zM351.1 829.5h2.2v2.2h-2.2zM420.9 840.9h2.2v2.2h-2.2zM432.1 837.0h2.2v2.2h-2.2zM432.1 844.5h2.2v2.2h-2.2zM477.4 837.0h2.2v2.2h-2.2zM481.0 844.5h2.2v2.2h-2.2zM492.3 848.7h9.9v2.2h-9.9zM511.4 848.7h2.2v2.2h-2.2zM522.7 852.1h2.2v2.2h-2.2zM518.8 855.7h2.2v2.2h-2.2zM496.1 855.7h2.2v2.2h-2.2zM507.5 859.6h2.2v2.2h-2.2zM377.6 851.9h2.2v6.1h-2.2zM409.5 852.1h2.2v2.2h-2.2zM432.2 859.6h6.1v2.2h-6.1zM424.5 863.6h2.2v6.1h-2.2zM385.0 874.8h2.2v2.2h-2.2zM473.5 874.8h2.2v2.2h-2.2zM439.6 886.2h2.2v2.2h-2.2zM503.6 867.1h2.2v6.1h-2.2zM515.0 867.1h2.2v2.2h-2.2zM511.4 874.8h2.2v2.2h-2.2zM526.3 867.1h2.2v6.1h-2.2zM550.1 837.0h6.1v2.2h-6.1zM566.1 829.5h2.2v2.2h-2.2zM573.6 829.5h2.2v2.2h-2.2zM584.8 855.7h2.2v2.2h-2.2zM592.6 852.1h2.2v2.2h-2.2zM600.0 840.9h2.2v2.2h-2.2zM584.8 878.8h2.2v2.2h-2.2zM538.0 886.2h2.2v2.2h-2.2zM570.0 893.5h2.2v2.2h-2.2zM558.6 897.4h2.2v2.2h-2.2zM515.0 901.0h2.2v2.2h-2.2zM536.2 901.0h13.7v2.2h-13.7zM484.9 910.4h2.2v2.2h-2.2zM495.9 914.3h9.9v2.2h-9.9zM456.2 922.1h17.5v2.2h-17.5zM385.0 918.2h2.2v2.2h-2.2zM399.0 918.2h6.1v2.2h-6.1zM345.1 922.1h2.2v2.2h-2.2zM183.2 769.0h2.2v2.2h-2.2zM220.7 769.0h2.2v2.2h-2.2zM145.3 772.6h2.2v2.2h-2.2zM209.3 776.4h2.2v2.2h-2.2zM201.8 783.9h2.2v2.2h-2.2zM263.9 780.3h2.2v2.2h-2.2zM171.8 806.5h2.2v2.2h-2.2zM256.4 810.4h2.2v2.2h-2.2zM235.8 829.5h2.2v2.2h-2.2zM260.0 859.6h2.2v2.2h-2.2zM283.0 859.6h2.2v2.2h-2.2zM220.7 863.5h2.2v2.2h-2.2zM286.6 893.5h2.2v2.2h-2.2zM283.0 897.4h2.2v2.2h-2.2zM260.0 929.6h2.2v2.2h-2.2zM298.0 612.6h2.2v2.2h-2.2zM331.9 616.2h2.2v2.2h-2.2zM328.3 620.1h2.2v2.2h-2.2zM256.4 638.7h2.2v2.2h-2.2zM239.7 672.7h2.2v2.2h-2.2zM275.6 714.4h2.2v2.2h-2.2zM122.6 716.9h2.2v6.1h-2.2zM118.7 725.8h2.2v2.2h-2.2zM137.4 729.7h2.2v2.2h-2.2zM133.5 752.4h2.2v2.2h-2.2zM256.7 490.0h2.2v2.2h-2.2zM260.3 497.3h2.2v2.2h-2.2zM286.8 550.1h2.2v2.2h-2.2z"/>
<path fill="#ff0000" stroke="#ff0000" d="M637.6 396.8h2.8v2.8h-2.8zM679.0 415.9h2.8v2.8h-2.8zM698.1 442.4h2.8v2.8h-2.8zM671.5 481.6h2.8v6.7h-2.8zM667.8 493.2h2.8v2.8h-2.8zM748.9 542.1h6.7v2.8h-6.7zM607.2 615.7h2.8v2.8h-2.8zM648.4 630.6h10.9v2.8h-10.9zM641.1 638.4h2.8v2.8h-2.8zM656.4 657.4h2.8v2.8h-2.8zM686.5 587.6h2.8v2.8h-2.8zM698.2 561.1h8.2v2.8h-8.2zM701.8 583.7h4.7v2.8h-4.7zM722.4 568.6h2.8v2.8h-2.8zM760.2 595.0h2.8v2.8h-2.8zM771.6 612.1h2.8v2.8h-2.8zM718.8 619.6h2.8v2.8h-2.8zM690.3 642.3h2.8v2.8h-2.8zM726.3 657.4h2.8v2.8h-2.8zM614.7 754.2h2.8v6.7h-2.8zM641.1 761.5h2.8v2.8h-2.8zM610.8 780.3h2.8v2.8h-2.8zM618.4 788.2h2.8v2.8h-2.8zM707.4 761.5h2.8v2.8h-2.8zM711.0 772.9h2.8v2.8h-2.8zM577.0 430.9h2.8v2.8h-2.8zM577.0 442.4h2.8v2.8h-2.8zM416.7 519.4h2.8v2.8h-2.8zM431.8 531.1h2.8v2.8h-2.8zM343.3 615.9h2.8v2.8h-2.8zM343.3 627.3h2.8v2.8h-2.8zM392.2 672.6h2.8v2.8h-2.8zM388.6 733.0h2.8v2.8h-2.8zM514.7 595.3h2.8v2.8h-2.8zM603.3 595.3h2.8v2.8h-2.8zM495.8 642.4h2.8v2.8h-2.8zM518.5 642.4h2.8v2.8h-2.8zM469.4 653.5h2.8v2.8h-2.8zM480.7 653.5h2.8v2.8h-2.8zM484.6 657.4h2.8v2.8h-2.8zM511.1 657.4h2.8v2.8h-2.8zM511.1 665.2h2.8v2.8h-2.8zM554.4 630.9h2.8v2.8h-2.8zM577.0 669.0h2.8v2.8h-2.8zM595.9 665.2h2.8v2.8h-2.8zM561.9 676.5h2.8v2.8h-2.8zM495.8 680.4h2.8v2.8h-2.8zM492.1 684.0h6.7v2.8h-6.7zM514.7 684.0h2.8v2.8h-2.8zM488.5 702.6h2.8v2.8h-2.8zM499.7 706.6h2.8v2.8h-2.8zM458.2 714.3h6.7v2.8h-6.7zM480.7 721.8h2.8v2.8h-2.8zM492.4 721.8h2.8v2.8h-2.8zM499.7 721.8h2.8v2.8h-2.8zM518.5 717.9h2.8v2.8h-2.8zM503.3 733.0h2.8v2.8h-2.8zM409.2 776.1h2.8v2.8h-2.8zM465.9 780.0h2.8v2.8h-2.8zM420.2 795.3h6.7v2.8h-6.7zM518.5 798.9h2.8v2.8h-2.8zM354.7 817.9h2.8v2.8h-2.8zM462.0 817.9h2.8v2.8h-2.8zM514.7 821.8h2.8v2.8h-2.8zM533.8 833.1h2.8v2.8h-2.8zM431.8 840.6h2.8v2.8h-2.8zM477.1 840.6h2.8v2.8h-2.8zM577.0 859.3h2.8v2.8h-2.8zM507.2 870.6h2.8v2.8h-2.8zM488.5 874.5h2.8v2.8h-2.8zM495.8 885.9h2.8v2.8h-2.8zM503.3 889.8h2.8v2.8h-2.8zM541.1 893.2h2.8v2.8h-2.8zM145.0 776.1h2.8v2.8h-2.8zM193.7 776.1h2.8v2.8h-2.8zM189.9 780.0h2.8v2.8h-2.8zM171.5 791.4h2.8v2.8h-2.8zM239.4 833.1h2.8v2.8h-2.8zM259.7 833.1h2.8v2.8h-2.8zM224.1 859.3h2.8v2.8h-2.8zM297.7 917.9h2.8v2.8h-2.8zM312.8 591.5h2.8v2.8h-2.8zM271.4 601.8h2.8v6.7h-2.8zM267.5 615.9h2.8v2.8h-2.8zM245.8 661.5h6.7v2.8h-6.7zM271.5 512.3h2.8v2.8h-2.8zM271.5 531.0h2.8v6.7h-2.8zM279.0 535.0h2.8v2.8h-2.8zM286.5 535.0h2.8v2.8h-2.8z"/>
<path fill="#0000ff" stroke="#0000ff" d="M722.4 382.0h2.8v2.8h-2.8zM682.9 419.8h2.8v2.8h-2.8zM663.9 474.5h2.8v2.8h-2.8zM660.3 493.2h2.8v2.8h-2.8zM745.1 489.4h2.8v2.8h-2.8zM707.4 534.7h2.8v2.8h-2.8zM737.6 530.8h2.8v2.8h-2.8zM618.4 630.9h2.8v2.8h-2.8zM618.4 638.4h2.8v2.8h-2.8zM641.1 646.2h2.8v2.8h-2.8zM622.3 664.9h2.8v2.8h-2.8zM701.8 572.3h4.7v2.8h-4.7zM726.3 591.1h2.8v2.8h-2.8zM733.7 595.0h2.8v2.8h-2.8zM745.1 598.9h2.8v2.8h-2.8zM730.2 615.7h2.8v2.8h-2.8zM760.2 619.6h2.8v2.8h-2.8zM722.4 630.9h2.8v2.8h-2.8zM745.1 638.4h2.8v2.8h-2.8zM698.1 642.3h2.8v2.8h-2.8zM694.2 687.6h2.8v2.8h-2.8zM700.5 710.2h6.7v2.8h-6.7zM698.1 732.9h2.8v2.8h-2.8zM671.5 736.8h2.8v2.8h-2.8zM629.8 821.7h2.8v2.8h-2.8zM607.2 844.8h2.8v2.8h-2.8zM395.9 515.8h2.8v2.8h-2.8zM495.8 553.8h2.8v2.8h-2.8zM533.8 553.8h2.8v2.8h-2.8zM547.5 549.9h6.7v2.8h-6.7zM565.8 546.0h2.8v2.8h-2.8zM350.8 653.5h2.8v2.8h-2.8zM365.9 748.3h2.8v2.8h-2.8zM480.7 627.3h2.8v2.8h-2.8zM462.0 646.0h2.8v2.8h-2.8zM499.7 649.9h2.8v2.8h-2.8zM480.7 661.3h2.8v2.8h-2.8zM499.7 661.3h2.8v6.7h-2.8zM529.9 638.5h2.8v2.8h-2.8zM544.7 627.3h2.8v2.8h-2.8zM561.9 623.4h2.8v2.8h-2.8zM577.0 634.8h2.8v2.8h-2.8zM599.7 608.6h2.8v2.8h-2.8zM603.3 646.0h2.8v2.8h-2.8zM599.7 657.4h2.8v2.8h-2.8zM544.7 657.4h2.8v2.8h-2.8zM533.7 668.7h6.7v2.8h-6.7zM492.4 676.5h2.8v2.8h-2.8zM477.1 680.1h2.8v2.8h-2.8zM484.6 680.1h2.8v2.8h-2.8zM477.1 687.7h2.8v2.8h-2.8zM518.5 687.7h2.8v2.8h-2.8zM554.4 676.5h2.8v2.8h-2.8zM595.9 687.7h2.8v2.8h-2.8zM454.5 706.6h2.8v2.8h-2.8zM488.5 706.6h2.8v2.8h-2.8zM518.5 710.1h2.8v2.8h-2.8zM529.9 714.3h2.8v2.8h-2.8zM554.4 714.3h2.8v2.8h-2.8zM546.7 717.9h6.7v2.8h-6.7zM469.4 721.8h2.8v2.8h-2.8zM541.1 729.3h2.8v2.8h-2.8zM577.0 725.7h2.8v2.8h-2.8zM488.5 740.5h2.8v2.8h-2.8zM529.9 740.5h2.8v6.7h-2.8zM537.7 748.3h2.8v2.8h-2.8zM511.1 752.2h2.8v2.8h-2.8zM469.4 765.1h2.8v2.8h-2.8zM514.7 783.6h2.8v2.8h-2.8zM511.1 787.5h2.8v2.8h-2.8zM424.2 829.2h2.8v2.8h-2.8zM547.5 829.2h6.7v2.8h-6.7zM599.7 848.4h2.8v2.8h-2.8zM547.5 885.9h6.7v2.8h-6.7zM533.8 889.8h2.8v2.8h-2.8zM529.9 897.1h2.8v2.8h-2.8zM474.4 893.2h2.8v2.8h-2.8zM197.6 780.0h2.8v2.8h-2.8zM209.4 917.9h2.8v2.8h-2.8zM267.5 936.9h2.8v2.8h-2.8zM294.1 587.6h2.8v2.8h-2.8zM252.5 497.0h2.8v2.8h-2.8zM267.8 523.6h2.8v2.8h-2.8z"/>
</g>
<g font-family='"Liberation Sans", sans-serif' font-size="23" fill="#4d4d4d" stroke="#4d4d4d" stroke-width="0.4">
<text x="36.5" y="511.2" text-anchor="end">-25</text>
<text x="36.5" y="740.7" text-anchor="end">-30</text>
<text x="36.5" y="970.2" text-anchor="end">-35</text>
<text x="252.1" y="1017.5" text-anchor="middle">20</text>
<text x="481.6" y="1017.5" text-anchor="middle">25</text>
<text x="711.1" y="1017.5" text-anchor="middle">30</text>
</g>
<g font-family='"Liberation Sans", sans-serif' fill="#000" stroke="#000" stroke-width="0.5">
<text x="48" y="275" font-size="33.5" textLength="202" lengthAdjust="spacingAndGlyphs">Secretarybird</text>
<text x="48" y="319" font-size="27.5" textLength="601" lengthAdjust="spacingAndGlyphs">Percent reporting rate differences within SABAP2</text>
<text x="260.3" y="1053.2" font-size="23" textLength="620.7" lengthAdjust="spacingAndGlyphs">Light grey = never recorded; Dark grey = no comparison data</text>
<text x="923.5" y="558" font-size="27.5" textLength="104.5" lengthAdjust="spacingAndGlyphs">perc_diff</text>
<defs><linearGradient id="lg1" x1="0" y1="0" x2="0" y2="1"><stop offset="0" stop-color="#1f0afe"/><stop offset="0.025" stop-color="#441ffd"/><stop offset="0.05" stop-color="#5a2efb"/><stop offset="0.075" stop-color="#6b3bf9"/><stop offset="0.1" stop-color="#7a47f7"/><stop offset="0.125" stop-color="#8753f5"/><stop offset="0.15" stop-color="#935ef3"/><stop offset="0.175" stop-color="#9d69f1"/><stop offset="0.2" stop-color="#a774ef"/><stop offset="0.225" stop-color="#b17fed"/><stop offset="0.25" stop-color="#b98aea"/><stop offset="0.275" stop-color="#c295e8"/><stop offset="0.3" stop-color="#caa0e6"/><stop offset="0.325" stop-color="#d1abe3"/><stop offset="0.35" stop-color="#d8b6e0"/><stop offset="0.375" stop-color="#dfc1dd"/><stop offset="0.4" stop-color="#e6ccdb"/><stop offset="0.425" stop-color="#edd7d7"/><stop offset="0.45" stop-color="#f3e3d4"/><stop offset="0.475" stop-color="#f9eed1"/><stop offset="0.5" stop-color="#fff9cd"/><stop offset="0.525" stop-color="#fff2c4"/><stop offset="0.55" stop-color="#ffe9ba"/><stop offset="0.575" stop-color="#ffe0b0"/><stop offset="0.6" stop-color="#ffd7a6"/><stop offset="0.625" stop-color="#ffce9c"/><stop offset="0.65" stop-color="#ffc592"/><stop offset="0.675" stop-color="#ffbb88"/><stop offset="0.7" stop-color="#ffb27f"/><stop offset="0.725" stop-color="#ffa975"/><stop offset="0.75" stop-color="#ff9f6c"/><stop offset="0.775" stop-color="#ff9562"/><stop offset="0.8" stop-color="#ff8c59"/><stop offset="0.825" stop-color="#ff814f"/><stop offset="0.85" stop-color="#ff7746"/><stop offset="0.875" stop-color="#ff6c3d"/><stop offset="0.9" stop-color="#ff6033"/><stop offset="0.925" stop-color="#ff532a"/><stop offset="0.95" stop-color="#ff4520"/><stop offset="0.975" stop-color="#ff3314"/><stop offset="1" stop-color="#ff1a06"/></linearGradient></defs>
<rect x="924.2" y="574.4" width="42.9" height="215.4" fill="url(#lg1)"/>
<g stroke="#fff" stroke-width="2">
<line x1="924.2" x2="932.6" y1="574.7" y2="574.7"/><line x1="958.7" x2="967.1" y1="574.7" y2="574.7"/>
<line x1="924.2" x2="932.6" y1="627.6" y2="627.6"/><line x1="958.7" x2="967.1" y1="627.6" y2="627.6"/>
<line x1="924.2" x2="932.6" y1="682.5" y2="682.5"/><line x1="958.7" x2="967.1" y1="682.5" y2="682.5"/>
<line x1="924.2" x2="932.6" y1="737.4" y2="737.4"/><line x1="958.7" x2="967.1" y1="737.4" y2="737.4"/>
<line x1="924.2" x2="932.6" y1="789.5" y2="789.5"/><line x1="958.7" x2="967.1" y1="789.5" y2="789.5"/>
</g>
<text x="981" y="584.2" font-size="23">100</text>
<text x="981" y="637.4" font-size="23">50</text>
<text x="981" y="692.3" font-size="23">0</text>
<text x="981" y="747.2" font-size="23">-50</text>
<text x="981" y="799.6" font-size="23">-100</text>
</g>
<g stroke="#ececec" fill="none">
<line x1="1396" x2="1396" y1="89" y2="1196" stroke-width="1.9" stroke="#efefef"/>
<line x1="1558" x2="1558" y1="89" y2="1196" stroke-width="1.9" stroke="#efefef"/>
<line x1="1720" x2="1720" y1="89" y2="1196" stroke-width="1.9" stroke="#efefef"/>
<line x1="1882" x2="1882" y1="89" y2="1196" stroke-width="1.9" stroke="#efefef"/>
<line x1="1315" x2="1315" y1="89" y2="1196" stroke-width="2.2"/>
<line x1="1477" x2="1477" y1="89" y2="1196" stroke-width="2.2"/>
<line x1="1639" x2="1639" y1="89" y2="1196" stroke-width="2.2"/>
<line x1="1801" x2="1801" y1="89" y2="1196" stroke-width="2.2"/>
<line x1="1270" x2="1957" y1="295.5" y2="295.5" stroke-width="2.2"/>
<line x1="1270" x2="1957" y1="546.3" y2="546.3" stroke-width="2.2"/>
<line x1="1270" x2="1957" y1="797.3" y2="797.3" stroke-width="2.2"/>
<line x1="1270" x2="1957" y1="1046.6" y2="1046.6" stroke-width="2.2"/>
</g>
<defs><linearGradient id="rg" gradientUnits="userSpaceOnUse" x1="1299.5" y1="0" x2="1928.5" y2="0"><stop offset="0" stop-color="#832424"/><stop offset="0.006" stop-color="#852726"/><stop offset="0.013" stop-color="#872a28"/><stop offset="0.019" stop-color="#882c2a"/><stop offset="0.025" stop-color="#8a2f2d"/><stop offset="0.031" stop-color="#8c322f"/><stop offset="0.038" stop-color="#8e3431"/><stop offset="0.044" stop-color="#8f3733"/><stop offset="0.05" stop-color="#913a35"/><stop offset="0.057" stop-color="#933c38"/><stop offset="0.063" stop-color="#943f3a"/><stop offset="0.069" stop-color="#96413c"/><stop offset="0.075" stop-color="#98443e"/><stop offset="0.082" stop-color="#994641"/><stop offset="0.088" stop-color="#9b4943"/><stop offset="0.094" stop-color="#9d4b45"/><stop offset="0.101" stop-color="#9e4e47"/><stop offset="0.107" stop-color="#a0504a"/><stop offset="0.113" stop-color="#a2534c"/><stop offset="0.119" stop-color="#a3554e"/><stop offset="0.126" stop-color="#a55851"/><stop offset="0.132" stop-color="#a65a53"/><stop offset="0.138" stop-color="#a85c56"/><stop offset="0.145" stop-color="#aa5f58"/><stop offset="0.151" stop-color="#ab615a"/><stop offset="0.157" stop-color="#ad645d"/><stop offset="0.164" stop-color="#ae665f"/><stop offset="0.17" stop-color="#b06962"/><stop offset="0.176" stop-color="#b16b64"/><stop offset="0.182" stop-color="#b36e66"/><stop offset="0.189" stop-color="#b57069"/><stop offset="0.195" stop-color="#b6736b"/><stop offset="0.201" stop-color="#b8756e"/><stop offset="0.208" stop-color="#b97770"/><stop offset="0.214" stop-color="#bb7a73"/><stop offset="0.22" stop-color="#bc7c75"/><stop offset="0.226" stop-color="#be7f78"/><stop offset="0.233" stop-color="#bf817a"/><stop offset="0.239" stop-color="#c1847d"/><stop offset="0.245" stop-color="#c2867f"/><stop offset="0.252" stop-color="#c48982"/><stop offset="0.258" stop-color="#c58b85"/><stop offset="0.264" stop-color="#c68e87"/><stop offset="0.27" stop-color="#c8908a"/><stop offset="0.277" stop-color="#c9938c"/><stop offset="0.283" stop-color="#cb958f"/><stop offset="0.289" stop-color="#cc9891"/><stop offset="0.296" stop-color="#ce9a94"/><stop offset="0.302" stop-color="#cf9d97"/><stop offset="0.308" stop-color="#d09f99"/><stop offset="0.314" stop-color="#d2a29c"/><stop offset="0.321" stop-color="#d3a49f"/><stop offset="0.327" stop-color="#d5a7a1"/><stop offset="0.333" stop-color="#d6a9a4"/><stop offset="0.34" stop-color="#d7aca7"/><stop offset="0.346" stop-color="#d9afa9"/><stop offset="0.352" stop-color="#dab1ac"/><stop offset="0.358" stop-color="#dbb4af"/><stop offset="0.365" stop-color="#ddb6b1"/><stop offset="0.371" stop-color="#deb9b4"/><stop offset="0.377" stop-color="#dfbbb7"/><stop offset="0.384" stop-color="#e1beb9"/><stop offset="0.39" stop-color="#e2c0bc"/><stop offset="0.396" stop-color="#e3c3bf"/><stop offset="0.403" stop-color="#e5c6c2"/><stop offset="0.409" stop-color="#e6c8c4"/><stop offset="0.415" stop-color="#e7cbc7"/><stop offset="0.421" stop-color="#e8cdca"/><stop offset="0.428" stop-color="#ead0cd"/><stop offset="0.434" stop-color="#ebd3cf"/><stop offset="0.44" stop-color="#ecd5d2"/><stop offset="0.447" stop-color="#edd8d5"/><stop offset="0.453" stop-color="#efdad8"/><stop offset="0.459" stop-color="#f0dddb"/><stop offset="0.465" stop-color="#f1e0dd"/><stop offset="0.472" stop-color="#f2e2e0"/><stop offset="0.478" stop-color="#f3e5e3"/><stop offset="0.484" stop-color="#f5e8e6"/><stop offset="0.491" stop-color="#f6eae9"/><stop offset="0.497" stop-color="#f7edeb"/><stop offset="0.503" stop-color="#f8efee"/><stop offset="0.509" stop-color="#f9f2f1"/><stop offset="0.516" stop-color="#fbf5f4"/><stop offset="0.522" stop-color="#fcf7f7"/><stop offset="0.528" stop-color="#fdfafa"/><stop offset="0.535" stop-color="#fefdfd"/><stop offset="0.541" stop-color="#ffffff"/><stop offset="0.547" stop-color="#fcfcfe"/><stop offset="0.553" stop-color="#faf9fc"/><stop offset="0.56" stop-color="#f8f7fb"/><stop offset="0.566" stop-color="#f6f4fa"/><stop offset="0.572" stop-color="#f4f2f9"/><stop offset="0.579" stop-color="#f1eff8"/><stop offset="0.585" stop-color="#efedf6"/><stop offset="0.591" stop-color="#edeaf5"/><stop offset="0.597" stop-color="#ebe8f4"/><stop offset="0.604" stop-color="#e9e5f3"/><stop offset="0.61" stop-color="#e6e3f2"/><stop offset="0.616" stop-color="#e4e0f0"/><stop offset="0.623" stop-color="#e2deef"/><stop offset="0.629" stop-color="#e0dcee"/><stop offset="0.635" stop-color="#ded9ed"/><stop offset="0.642" stop-color="#dbd7ec"/><stop offset="0.648" stop-color="#d9d4eb"/><stop offset="0.654" stop-color="#d7d2e9"/><stop offset="0.66" stop-color="#d5cfe8"/><stop offset="0.667" stop-color="#d3cde7"/><stop offset="0.673" stop-color="#d0cae6"/><stop offset="0.679" stop-color="#cec8e5"/><stop offset="0.686" stop-color="#ccc6e3"/><stop offset="0.692" stop-color="#cac3e2"/><stop offset="0.698" stop-color="#c8c1e1"/><stop offset="0.704" stop-color="#c6bee0"/><stop offset="0.711" stop-color="#c3bcdf"/><stop offset="0.717" stop-color="#c1b9dd"/><stop offset="0.723" stop-color="#bfb7dc"/><stop offset="0.73" stop-color="#bdb5db"/><stop offset="0.736" stop-color="#bbb2da"/><stop offset="0.742" stop-color="#b8b0d9"/><stop offset="0.748" stop-color="#b6aed7"/><stop offset="0.755" stop-color="#b4abd6"/><stop offset="0.761" stop-color="#b2a9d5"/><stop offset="0.767" stop-color="#b0a7d4"/><stop offset="0.774" stop-color="#ada4d3"/><stop offset="0.78" stop-color="#aba2d1"/><stop offset="0.786" stop-color="#a99fd0"/><stop offset="0.792" stop-color="#a79dcf"/><stop offset="0.799" stop-color="#a59bce"/><stop offset="0.805" stop-color="#a299cd"/><stop offset="0.811" stop-color="#a096cb"/><stop offset="0.818" stop-color="#9e94ca"/><stop offset="0.824" stop-color="#9c92c9"/><stop offset="0.83" stop-color="#9a8fc8"/><stop offset="0.836" stop-color="#978dc7"/><stop offset="0.843" stop-color="#958bc5"/><stop offset="0.849" stop-color="#9388c4"/><stop offset="0.855" stop-color="#9186c3"/><stop offset="0.862" stop-color="#8f84c2"/><stop offset="0.868" stop-color="#8c82c1"/><stop offset="0.874" stop-color="#8a7fbf"/><stop offset="0.881" stop-color="#887dbe"/><stop offset="0.887" stop-color="#867bbd"/><stop offset="0.893" stop-color="#8379bc"/><stop offset="0.899" stop-color="#8177bb"/><stop offset="0.906" stop-color="#7f74b9"/><stop offset="0.912" stop-color="#7d72b8"/><stop offset="0.918" stop-color="#7a70b7"/><stop offset="0.925" stop-color="#786eb6"/><stop offset="0.931" stop-color="#766cb5"/><stop offset="0.937" stop-color="#7369b3"/><stop offset="0.943" stop-color="#7167b2"/><stop offset="0.95" stop-color="#6f65b1"/><stop offset="0.956" stop-color="#6c63b0"/><stop offset="0.962" stop-color="#6a61af"/><stop offset="0.969" stop-color="#685fad"/><stop offset="0.975" stop-color="#655cac"/><stop offset="0.981" stop-color="#635aab"/><stop offset="0.987" stop-color="#6158aa"/><stop offset="0.994" stop-color="#5e56a8"/><stop offset="1" stop-color="#5c54a7"/></linearGradient></defs>
<path d="M1299.5 295.5L1299.5 295.5L1300.5 295.5L1301.5 295.5L1302.5 295.5L1303.5 295.5L1304.5 295.5L1305.5 295.5L1306.5 295.5L1307.5 295.5L1308.5 295.5L1309.5 295.5L1310.5 295.5L1311.5 295.5L1312.5 295.5L1313.5 295.5L1314.5 295.5L1315.5 295.5L1316.5 295.5L1317.5 295.5L1318.5 295.5L1319.5 295.5L1320.5 295.5L1321.5 295.5L1322.5 295.5L1323.5 295.5L1324.5 295.5L1325.5 295.5L1326.5 295.5L1327.5 295.5L1328.5 295.5L1329.5 295.5L1330.5 295.5L1331.5 295.5L1332.5 295.5L1333.5 295.5L1334.5 295.5L1335.5 295.5L1336.5 295.5L1337.5 295.5L1338.5 295.5L1339.5 295.5L1340.5 295.5L1341.5 295.5L1342.5 295.5L1343.5 295.5L1344.5 295.5L1345.5 295.5L1346.5 295.5L1347.5 295.5L1348.5 295.5L1349.5 295.5L1350.5 295.5L1351.5 295.5L1352.5 295.5L1353.5 295.5L1354.5 295.5L1355.5 295.5L1356.5 295.5L1357.5 295.5L1358.5 295.5L1359.5 295.5L1360.5 295.5L1361.5 295.5L1362.5 295.5L1363.5 295.5L1364.5 295.5L1365.5 295.5L1366.5 295.5L1367.5 295.5L1368.5 295.5L1369.5 295.5L1370.5 295.5L1371.5 295.5L1372.5 295.5L1373.5 295.5L1374.5 295.5L1375.5 295.5L1376.5 295.5L1377.5 295.5L1378.5 295.5L1379.5 295.5L1380.5 295.5L1381.5 295.5L1382.5 295.5L1383.5 295.5L1384.5 295.5L1385.5 295.5L1386.5 295.5L1387.5 295.5L1388.5 295.5L1389.5 295.5L1390.5 295.5L1391.5 295.5L1392.5 295.5L1393.5 295.5L1394.5 295.5L1395.5 295.5L1396.5 295.5L1397.5 295.5L1398.5 295.5L1399.5 295.5L1400.5 295.5L1401.5 295.5L1402.5 295.5L1403.5 295.5L1404.5 295.5L1405.5 295.5L1406.5 295.5L1407.5 295.5L1408.5 295.5L1409.5 295.5L1410.5 295.5L1411.5 295.5L1412.5 295.5L1413.5 295.5L1414.5 295.5L1415.5 295.5L1416.5 295.5L1417.5 295.5L1418.5 295.5L1419.5 295.5L1420.5 295.5L1421.5 295.5L1422.5 295.5L1423.5 295.5L1424.5 295.5L1425.5 295.5L1426.5 295.5L1427.5 295.5L1428.5 295.5L1429.5 295.5L1430.5 295.5L1431.5 295.5L1432.5 295.5L1433.5 295.5L1434.5 295.5L1435.5 295.5L1436.5 295.5L1437.5 295.5L1438.5 295.5L1439.5 295.5L1440.5 295.5L1441.5 295.5L1442.5 295.5L1443.5 295.5L1444.5 295.5L1445.5 295.5L1446.5 295.5L1447.5 295.5L1448.5 295.5L1449.5 295.5L1450.5 295.5L1451.5 295.5L1452.5 295.5L1453.5 295.5L1454.5 295.5L1455.5 295.5L1456.5 295.5L1457.5 295.5L1458.5 295.5L1459.5 295.5L1460.5 295.5L1461.5 295.5L1462.5 295.5L1463.5 295.5L1464.5 295.5L1465.5 295.5L1466.5 295.5L1467.5 295.5L1468.5 295.5L1469.5 295.5L1470.5 295.5L1471.5 295.5L1472.5 295.5L1473.5 295.5L1474.5 295.5L1475.5 295.5L1476.5 295.5L1477.5 295.5L1478.5 295.5L1479.5 295.5L1480.5 295.5L1481.5 295.5L1482.5 295.5L1483.5 295.5L1484.5 295.5L1485.5 295.5L1486.5 295.5L1487.5 295.5L1488.5 295.5L1489.5 295.5L1490.5 295.5L1491.5 295.5L1492.5 295.5L1493.5 295.5L1494.5 295.5L1495.5 295.5L1496.5 295.5L1497.5 295.5L1498.5 295.5L1499.5 295.5L1500.5 295.5L1501.5 295.5L1502.5 295.5L1503.5 295.5L1504.5 295.5L1505.5 295.5L1506.5 295.5L1507.5 295.5L1508.5 295.5L1509.5 295.5L1510.5 295.5L1511.5 295.5L1512.5 295.5L1513.5 295.5L1514.5 295.5L1515.5 295.5L1516.5 295.5L1517.5 295.5L1518.5 295.5L1519.5 295.5L1520.5 295.5L1521.5 295.5L1522.5 295.5L1523.5 295.5L1524.5 295.5L1525.5 295.5L1526.5 295.5L1527.5 295.5L1528.5 295.5L1529.5 295.5L1530.5 295.5L1531.5 295.5L1532.5 295.5L1533.5 295.5L1534.5 295.5L1535.5 295.5L1536.5 295.5L1537.5 295.5L1538.5 295.5L1539.5 295.5L1540.5 295.5L1541.5 295.5L1542.5 295.5L1543.5 295.5L1544.5 295.5L1545.5 295.5L1546.5 295.5L1547.5 294.555L1548.5 294.351L1549.5 294.121L1550.5 293.867L1551.5 293.59L1552.5 293.294L1553.5 292.978L1554.5 292.647L1555.5 292.303L1556.5 291.945L1557.5 291.566L1558.5 291.161L1559.5 290.726L1560.5 290.261L1561.5 289.764L1562.5 289.234L1563.5 288.667L1564.5 288.063L1565.5 287.42L1566.5 286.72L1567.5 285.941L1568.5 285.088L1569.5 284.163L1570.5 283.169L1571.5 282.109L1572.5 280.988L1573.5 279.808L1574.5 278.572L1575.5 277.276L1576.5 275.873L1577.5 274.353L1578.5 272.709L1579.5 270.934L1580.5 269.022L1581.5 266.967L1582.5 264.76L1583.5 262.248L1584.5 259.361L1585.5 256.178L1586.5 252.778L1587.5 249.242L1588.5 245.648L1589.5 242.076L1590.5 238.565L1591.5 234.975L1592.5 231.299L1593.5 227.553L1594.5 223.752L1595.5 219.911L1596.5 216.047L1597.5 212.175L1598.5 208.252L1599.5 204.254L1600.5 200.21L1601.5 196.147L1602.5 192.093L1603.5 188.075L1604.5 184.121L1605.5 180.24L1606.5 176.371L1607.5 172.52L1608.5 168.702L1609.5 164.933L1610.5 161.229L1611.5 157.605L1612.5 154.078L1613.5 150.626L1614.5 147.23L1615.5 143.894L1616.5 140.623L1617.5 137.42L1618.5 134.29L1619.5 131.236L1620.5 128.248L1621.5 125.27L1622.5 122.325L1623.5 119.443L1624.5 116.656L1625.5 113.995L1626.5 111.49L1627.5 109.173L1628.5 106.955L1629.5 104.783L1630.5 102.691L1631.5 100.714L1632.5 98.886L1633.5 97.242L1634.5 95.817L1635.5 94.608L1636.5 93.489L1637.5 92.468L1638.5 91.571L1639.5 90.825L1640.5 90.255L1641.5 89.791L1642.5 89.36L1643.5 89.011L1644.5 88.79L1645.5 88.745L1646.5 88.881L1647.5 89.171L1648.5 89.589L1649.5 90.11L1650.5 90.709L1651.5 91.36L1652.5 92.144L1653.5 93.293L1654.5 94.747L1655.5 96.428L1656.5 98.262L1657.5 100.172L1658.5 102.328L1659.5 104.816L1660.5 107.55L1661.5 110.446L1662.5 113.416L1663.5 116.411L1664.5 119.575L1665.5 122.894L1666.5 126.311L1667.5 129.77L1668.5 133.216L1669.5 136.634L1670.5 140.069L1671.5 143.525L1672.5 147.007L1673.5 150.517L1674.5 154.058L1675.5 157.635L1676.5 161.254L1677.5 164.952L1678.5 168.717L1679.5 172.519L1680.5 176.333L1681.5 180.129L1682.5 183.881L1683.5 187.561L1684.5 191.171L1685.5 194.75L1686.5 198.298L1687.5 201.812L1688.5 205.294L1689.5 208.741L1690.5 212.152L1691.5 215.533L1692.5 218.932L1693.5 222.336L1694.5 225.712L1695.5 229.027L1696.5 232.25L1697.5 235.348L1698.5 238.287L1699.5 241.1L1700.5 243.861L1701.5 246.548L1702.5 249.14L1703.5 251.615L1704.5 253.95L1705.5 256.124L1706.5 258.12L1707.5 259.997L1708.5 261.778L1709.5 263.474L1710.5 265.094L1711.5 266.648L1712.5 268.144L1713.5 269.593L1714.5 271.004L1715.5 272.387L1716.5 273.746L1717.5 275.079L1718.5 276.38L1719.5 277.646L1720.5 278.87L1721.5 280.049L1722.5 281.178L1723.5 282.252L1724.5 283.267L1725.5 284.229L1726.5 285.175L1727.5 286.099L1728.5 286.993L1729.5 287.848L1730.5 288.657L1731.5 289.409L1732.5 290.098L1733.5 290.714L1734.5 291.251L1735.5 291.755L1736.5 292.239L1737.5 292.698L1738.5 293.128L1739.5 293.524L1740.5 293.879L1741.5 294.19L1742.5 294.45L1743.5 294.655L1744.5 295.5L1745.5 295.5L1746.5 295.5L1747.5 295.5L1748.5 295.5L1749.5 295.5L1750.5 295.5L1751.5 295.5L1752.5 295.5L1753.5 295.5L1754.5 295.5L1755.5 295.5L1756.5 295.5L1757.5 295.5L1758.5 295.5L1759.5 295.5L1760.5 295.5L1761.5 295.5L1762.5 295.5L1763.5 295.5L1764.5 295.5L1765.5 295.5L1766.5 295.5L1767.5 295.5L1768.5 295.5L1769.5 295.5L1770.5 295.5L1771.5 295.5L1772.5 295.5L1773.5 295.5L1774.5 295.5L1775.5 295.5L1776.5 295.5L1777.5 295.5L1778.5 295.5L1779.5 295.5L1780.5 295.5L1781.5 295.5L1782.5 295.5L1783.5 295.5L1784.5 295.5L1785.5 295.5L1786.5 295.5L1787.5 295.5L1788.5 295.5L1789.5 295.5L1790.5 295.5L1791.5 295.5L1792.5 295.5L1793.5 295.5L1794.5 295.5L1795.5 295.5L1796.5 295.5L1797.5 295.5L1798.5 295.5L1799.5 295.5L1800.5 295.5L1801.5 295.5L1802.5 295.5L1803.5 295.5L1804.5 295.5L1805.5 295.5L1806.5 295.5L1807.5 295.5L1808.5 295.5L1809.5 295.5L1810.5 295.5L1811.5 295.5L1812.5 295.5L1813.5 295.5L1814.5 295.5L1815.5 295.5L1816.5 295.5L1817.5 295.5L1818.5 295.5L1819.5 295.5L1820.5 295.5L1821.5 295.5L1822.5 295.5L1823.5 295.5L1824.5 295.5L1825.5 295.5L1826.5 295.5L1827.5 295.5L1828.5 295.5L1829.5 295.5L1830.5 295.5L1831.5 295.5L1832.5 295.5L1833.5 295.5L1834.5 295.5L1835.5 295.5L1836.5 295.5L1837.5 295.5L1838.5 295.5L1839.5 295.5L1840.5 295.5L1841.5 295.5L1842.5 295.5L1843.5 295.5L1844.5 295.5L1845.5 295.5L1846.5 295.5L1847.5 295.5L1848.5 295.5L1849.5 295.5L1850.5 295.5L1851.5 295.5L1852.5 295.5L1853.5 295.5L1854.5 295.5L1855.5 295.5L1856.5 295.5L1857.5 295.5L1858.5 295.5L1859.5 295.5L1860.5 295.5L1861.5 295.5L1862.5 295.5L1863.5 295.5L1864.5 295.5L1865.5 295.5L1866.5 295.5L1867.5 295.5L1868.5 295.5L1869.5 295.5L1870.5 295.5L1871.5 295.5L1872.5 295.5L1873.5 295.5L1874.5 295.5L1875.5 295.5L1876.5 295.5L1877.5 295.5L1878.5 295.5L1879.5 295.5L1880.5 295.5L1881.5 295.5L1882.5 295.5L1883.5 295.5L1884.5 295.5L1885.5 295.5L1886.5 295.5L1887.5 295.5L1888.5 295.5L1889.5 295.5L1890.5 295.5L1891.5 295.5L1892.5 295.5L1893.5 295.5L1894.5 295.5L1895.5 295.5L1896.5 295.5L1897.5 295.5L1898.5 295.5L1899.5 295.5L1900.5 295.5L1901.5 295.5L1902.5 295.5L1903.5 295.5L1904.5 295.5L1905.5 295.5L1906.5 295.5L1907.5 295.5L1908.5 295.5L1909.5 295.5L1910.5 295.5L1911.5 295.5L1912.5 295.5L1913.5 295.5L1914.5 295.5L1915.5 295.5L1916.5 295.5L1917.5 295.5L1918.5 295.5L1919.5 295.5L1920.5 295.5L1921.5 295.5L1922.5 295.5L1923.5 295.5L1924.5 295.5L1925.5 295.5L1926.5 295.5L1927.5 295.5L1928.5 295.5L1928.5 295.5Z" fill="url(#rg)" stroke="none"/>
<path d="M1299.5 295.5L1300.5 295.5L1301.5 295.5L1302.5 295.5L1303.5 295.5L1304.5 295.5L1305.5 295.5L1306.5 295.5L1307.5 295.5L1308.5 295.5L1309.5 295.5L1310.5 295.5L1311.5 295.5L1312.5 295.5L1313.5 295.5L1314.5 295.5L1315.5 295.5L1316.5 295.5L1317.5 295.5L1318.5 295.5L1319.5 295.5L1320.5 295.5L1321.5 295.5L1322.5 295.5L1323.5 295.5L1324.5 295.5L1325.5 295.5L1326.5 295.5L1327.5 295.5L1328.5 295.5L1329.5 295.5L1330.5 295.5L1331.5 295.5L1332.5 295.5L1333.5 295.5L1334.5 295.5L1335.5 295.5L1336.5 295.5L1337.5 295.5L1338.5 295.5L1339.5 295.5L1340.5 295.5L1341.5 295.5L1342.5 295.5L1343.5 295.5L1344.5 295.5L1345.5 295.5L1346.5 295.5L1347.5 295.5L1348.5 295.5L1349.5 295.5L1350.5 295.5L1351.5 295.5L1352.5 295.5L1353.5 295.5L1354.5 295.5L1355.5 295.5L1356.5 295.5L1357.5 295.5L1358.5 295.5L1359.5 295.5L1360.5 295.5L1361.5 295.5L1362.5 295.5L1363.5 295.5L1364.5 295.5L1365.5 295.5L1366.5 295.5L1367.5 295.5L1368.5 295.5L1369.5 295.5L1370.5 295.5L1371.5 295.5L1372.5 295.5L1373.5 295.5L1374.5 295.5L1375.5 295.5L1376.5 295.5L1377.5 295.5L1378.5 295.5L1379.5 295.5L1380.5 295.5L1381.5 295.5L1382.5 295.5L1383.5 295.5L1384.5 295.5L1385.5 295.5L1386.5 295.5L1387.5 295.5L1388.5 295.5L1389.5 295.5L1390.5 295.5L1391.5 295.5L1392.5 295.5L1393.5 295.5L1394.5 295.5L1395.5 295.5L1396.5 295.5L1397.5 295.5L1398.5 295.5L1399.5 295.5L1400.5 295.5L1401.5 295.5L1402.5 295.5L1403.5 295.5L1404.5 295.5L1405.5 295.5L1406.5 295.5L1407.5 295.5L1408.5 295.5L1409.5 295.5L1410.5 295.5L1411.5 295.5L1412.5 295.5L1413.5 295.5L1414.5 295.5L1415.5 295.5L1416.5 295.5L1417.5 295.5L1418.5 295.5L1419.5 295.5L1420.5 295.5L1421.5 295.5L1422.5 295.5L1423.5 295.5L1424.5 295.5L1425.5 295.5L1426.5 295.5L1427.5 295.5L1428.5 295.5L1429.5 295.5L1430.5 295.5L1431.5 295.5L1432.5 295.5L1433.5 295.5L1434.5 295.5L1435.5 295.5L1436.5 295.5L1437.5 295.5L1438.5 295.5L1439.5 295.5L1440.5 295.5L1441.5 295.5L1442.5 295.5L1443.5 295.5L1444.5 295.5L1445.5 295.5L1446.5 295.5L1447.5 295.5L1448.5 295.5L1449.5 295.5L1450.5 295.5L1451.5 295.5L1452.5 295.5L1453.5 295.5L1454.5 295.5L1455.5 295.5L1456.5 295.5L1457.5 295.5L1458.5 295.5L1459.5 295.5L1460.5 295.5L1461.5 295.5L1462.5 295.5L1463.5 295.5L1464.5 295.5L1465.5 295.5L1466.5 295.5L1467.5 295.5L1468.5 295.5L1469.5 295.5L1470.5 295.5L1471.5 295.5L1472.5 295.5L1473.5 295.5L1474.5 295.5L1475.5 295.5L1476.5 295.5L1477.5 295.5L1478.5 295.5L1479.5 295.5L1480.5 295.5L1481.5 295.5L1482.5 295.5L1483.5 295.5L1484.5 295.5L1485.5 295.5L1486.5 295.5L1487.5 295.5L1488.5 295.5L1489.5 295.5L1490.5 295.5L1491.5 295.5L1492.5 295.5L1493.5 295.5L1494.5 295.5L1495.5 295.5L1496.5 295.5L1497.5 295.5L1498.5 295.5L1499.5 295.5L1500.5 295.5L1501.5 295.5L1502.5 295.5L1503.5 295.5L1504.5 295.5L1505.5 295.5L1506.5 295.5L1507.5 295.5L1508.5 295.5L1509.5 295.5L1510.5 295.5L1511.5 295.5L1512.5 295.5L1513.5 295.5L1514.5 295.5L1515.5 295.5L1516.5 295.5L1517.5 295.5L1518.5 295.5L1519.5 295.5L1520.5 295.5L1521.5 295.5L1522.5 295.5L1523.5 295.5L1524.5 295.5L1525.5 295.5L1526.5 295.5L1527.5 295.5L1528.5 295.5L1529.5 295.5L1530.5 295.5L1531.5 295.5L1532.5 295.5L1533.5 295.5L1534.5 295.5L1535.5 295.5L1536.5 295.5L1537.5 295.5L1538.5 295.5L1539.5 295.5L1540.5 295.5L1541.5 295.5L1542.5 295.5L1543.5 295.5L1544.5 295.5L1545.5 295.5L1546.5 295.5L1547.5 294.555L1548.5 294.351L1549.5 294.121L1550.5 293.867L1551.5 293.59L1552.5 293.294L1553.5 292.978L1554.5 292.647L1555.5 292.303L1556.5 291.945L1557.5 291.566L1558.5 291.161L1559.5 290.726L1560.5 290.261L1561.5 289.764L1562.5 289.234L1563.5 288.667L1564.5 288.063L1565.5 287.42L1566.5 286.72L1567.5 285.941L1568.5 285.088L1569.5 284.163L1570.5 283.169L1571.5 282.109L1572.5 280.988L1573.5 279.808L1574.5 278.572L1575.5 277.276L1576.5 275.873L1577.5 274.353L1578.5 272.709L1579.5 270.934L1580.5 269.022L1581.5 266.967L1582.5 264.76L1583.5 262.248L1584.5 259.361L1585.5 256.178L1586.5 252.778L1587.5 249.242L1588.5 245.648L1589.5 242.076L1590.5 238.565L1591.5 234.975L1592.5 231.299L1593.5 227.553L1594.5 223.752L1595.5 219.911L1596.5 216.047L1597.5 212.175L1598.5 208.252L1599.5 204.254L1600.5 200.21L1601.5 196.147L1602.5 192.093L1603.5 188.075L1604.5 184.121L1605.5 180.24L1606.5 176.371L1607.5 172.52L1608.5 168.702L1609.5 164.933L1610.5 161.229L1611.5 157.605L1612.5 154.078L1613.5 150.626L1614.5 147.23L1615.5 143.894L1616.5 140.623L1617.5 137.42L1618.5 134.29L1619.5 131.236L1620.5 128.248L1621.5 125.27L1622.5 122.325L1623.5 119.443L1624.5 116.656L1625.5 113.995L1626.5 111.49L1627.5 109.173L1628.5 106.955L1629.5 104.783L1630.5 102.691L1631.5 100.714L1632.5 98.886L1633.5 97.242L1634.5 95.817L1635.5 94.608L1636.5 93.489L1637.5 92.468L1638.5 91.571L1639.5 90.825L1640.5 90.255L1641.5 89.791L1642.5 89.36L1643.5 89.011L1644.5 88.79L1645.5 88.745L1646.5 88.881L1647.5 89.171L1648.5 89.589L1649.5 90.11L1650.5 90.709L1651.5 91.36L1652.5 92.144L1653.5 93.293L1654.5 94.747L1655.5 96.428L1656.5 98.262L1657.5 100.172L1658.5 102.328L1659.5 104.816L1660.5 107.55L1661.5 110.446L1662.5 113.416L1663.5 116.411L1664.5 119.575L1665.5 122.894L1666.5 126.311L1667.5 129.77L1668.5 133.216L1669.5 136.634L1670.5 140.069L1671.5 143.525L1672.5 147.007L1673.5 150.517L1674.5 154.058L1675.5 157.635L1676.5 161.254L1677.5 164.952L1678.5 168.717L1679.5 172.519L1680.5 176.333L1681.5 180.129L1682.5 183.881L1683.5 187.561L1684.5 191.171L1685.5 194.75L1686.5 198.298L1687.5 201.812L1688.5 205.294L1689.5 208.741L1690.5 212.152L1691.5 215.533L1692.5 218.932L1693.5 222.336L1694.5 225.712L1695.5 229.027L1696.5 232.25L1697.5 235.348L1698.5 238.287L1699.5 241.1L1700.5 243.861L1701.5 246.548L1702.5 249.14L1703.5 251.615L1704.5 253.95L1705.5 256.124L1706.5 258.12L1707.5 259.997L1708.5 261.778L1709.5 263.474L1710.5 265.094L1711.5 266.648L1712.5 268.144L1713.5 269.593L1714.5 271.004L1715.5 272.387L1716.5 273.746L1717.5 275.079L1718.5 276.38L1719.5 277.646L1720.5 278.87L1721.5 280.049L1722.5 281.178L1723.5 282.252L1724.5 283.267L1725.5 284.229L1726.5 285.175L1727.5 286.099L1728.5 286.993L1729.5 287.848L1730.5 288.657L1731.5 289.409L1732.5 290.098L1733.5 290.714L1734.5 291.251L1735.5 291.755L1736.5 292.239L1737.5 292.698L1738.5 293.128L1739.5 293.524L1740.5 293.879L1741.5 294.19L1742.5 294.45L1743.5 294.655L1744.5 295.5L1745.5 295.5L1746.5 295.5L1747.5 295.5L1748.5 295.5L1749.5 295.5L1750.5 295.5L1751.5 295.5L1752.5 295.5L1753.5 295.5L1754.5 295.5L1755.5 295.5L1756.5 295.5L1757.5 295.5L1758.5 295.5L1759.5 295.5L1760.5 295.5L1761.5 295.5L1762.5 295.5L1763.5 295.5L1764.5 295.5L1765.5 295.5L1766.5 295.5L1767.5 295.5L1768.5 295.5L1769.5 295.5L1770.5 295.5L1771.5 295.5L1772.5 295.5L1773.5 295.5L1774.5 295.5L1775.5 295.5L1776.5 295.5L1777.5 295.5L1778.5 295.5L1779.5 295.5L1780.5 295.5L1781.5 295.5L1782.5 295.5L1783.5 295.5L1784.5 295.5L1785.5 295.5L1786.5 295.5L1787.5 295.5L1788.5 295.5L1789.5 295.5L1790.5 295.5L1791.5 295.5L1792.5 295.5L1793.5 295.5L1794.5 295.5L1795.5 295.5L1796.5 295.5L1797.5 295.5L1798.5 295.5L1799.5 295.5L1800.5 295.5L1801.5 295.5L1802.5 295.5L1803.5 295.5L1804.5 295.5L1805.5 295.5L1806.5 295.5L1807.5 295.5L1808.5 295.5L1809.5 295.5L1810.5 295.5L1811.5 295.5L1812.5 295.5L1813.5 295.5L1814.5 295.5L1815.5 295.5L1816.5 295.5L1817.5 295.5L1818.5 295.5L1819.5 295.5L1820.5 295.5L1821.5 295.5L1822.5 295.5L1823.5 295.5L1824.5 295.5L1825.5 295.5L1826.5 295.5L1827.5 295.5L1828.5 295.5L1829.5 295.5L1830.5 295.5L1831.5 295.5L1832.5 295.5L1833.5 295.5L1834.5 295.5L1835.5 295.5L1836.5 295.5L1837.5 295.5L1838.5 295.5L1839.5 295.5L1840.5 295.5L1841.5 295.5L1842.5 295.5L1843.5 295.5L1844.5 295.5L1845.5 295.5L1846.5 295.5L1847.5 295.5L1848.5 295.5L1849.5 295.5L1850.5 295.5L1851.5 295.5L1852.5 295.5L1853.5 295.5L1854.5 295.5L1855.5 295.5L1856.5 295.5L1857.5 295.5L1858.5 295.5L1859.5 295.5L1860.5 295.5L1861.5 295.5L1862.5 295.5L1863.5 295.5L1864.5 295.5L1865.5 295.5L1866.5 295.5L1867.5 295.5L1868.5 295.5L1869.5 295.5L1870.5 295.5L1871.5 295.5L1872.5 295.5L1873.5 295.5L1874.5 295.5L1875.5 295.5L1876.5 295.5L1877.5 295.5L1878.5 295.5L1879.5 295.5L1880.5 295.5L1881.5 295.5L1882.5 295.5L1883.5 295.5L1884.5 295.5L1885.5 295.5L1886.5 295.5L1887.5 295.5L1888.5 295.5L1889.5 295.5L1890.5 295.5L1891.5 295.5L1892.5 295.5L1893.5 295.5L1894.5 295.5L1895.5 295.5L1896.5 295.5L1897.5 295.5L1898.5 295.5L1899.5 295.5L1900.5 295.5L1901.5 295.5L1902.5 295.5L1903.5 295.5L1904.5 295.5L1905.5 295.5L1906.5 295.5L1907.5 295.5L1908.5 295.5L1909.5 295.5L1910.5 295.5L1911.5 295.5L1912.5 295.5L1913.5 295.5L1914.5 295.5L1915.5 295.5L1916.5 295.5L1917.5 295.5L1918.5 295.5L1919.5 295.5L1920.5 295.5L1921.5 295.5L1922.5 295.5L1923.5 295.5L1924.5 295.5L1925.5 295.5L1926.5 295.5L1927.5 295.5L1928.5 295.5" fill="none" stroke="#000" stroke-width="1.9" stroke-linejoin="round"/>
<path d="M1299.5 546.3L1299.5 546.3L1300 546.3L1300.5 546.3L1301 546.3L1301.5 546.3L1302 546.3L1302.5 546.3L1303 546.3L1303.5 546.3L1304 546.3L1304.5 546.3L1305 546.3L1305.5 546.3L1306 546.3L1306.5 546.3L1307 546.3L1307.5 546.3L1308 546.3L1308.5 546.3L1309 546.3L1309.5 546.3L1310 546.3L1310.5 546.3L1311 546.3L1311.5 546.3L1312 546.3L1312.5 546.3L1313 546.3L1313.5 546.3L1314 546.3L1314.5 546.3L1315 546.3L1315.5 546.3L1316 546.3L1316.5 546.3L1317 546.3L1317.5 546.3L1318 546.3L1318.5 546.3L1319 546.3L1319.5 546.3L1320 546.3L1320.5 546.3L1321 546.3L1321.5 546.3L1322 546.3L1322.5 546.3L1323 546.3L1323.5 546.3L1324 546.3L1324.5 546.3L1325 546.3L1325.5 546.3L1326 546.3L1326.5 546.3L1327 546.3L1327.5 546.3L1328 546.3L1328.5 546.3L1329 546.3L1329.5 546.3L1330 546.3L1330.5 546.3L1331 546.3L1331.5 546.3L1332 546.3L1332.5 546.3L1333 546.3L1333.5 546.3L1334 546.3L1334.5 546.3L1335 546.3L1335.5 546.3L1336 546.3L1336.5 546.3L1337 546.3L1337.5 546.3L1338 546.3L1338.5 546.3L1339 546.3L1339.5 546.3L1340 546.3L1340.5 546.3L1341 546.3L1341.5 546.3L1342 546.3L1342.5 546.3L1343 546.3L1343.5 546.3L1344 546.3L1344.5 546.3L1345 546.3L1345.5 546.3L1346 546.3L1346.5 546.3L1347 546.3L1347.5 546.3L1348 546.3L1348.5 546.3L1349 546.3L1349.5 546.3L1350 546.3L1350.5 546.3L1351 546.3L1351.5 546.3L1352 546.3L1352.5 546.3L1353 546.3L1353.5 546.3L1354 546.3L1354.5 546.3L1355 546.3L1355.5 546.3L1356 546.3L1356.5 546.3L1357 546.3L1357.5 546.3L1358 546.3L1358.5 546.3L1359 546.3L1359.5 546.3L1360 546.3L1360.5 546.3L1361 546.3L1361.5 546.3L1362 546.3L1362.5 546.3L1363 546.3L1363.5 546.3L1364 546.3L1364.5 546.3L1365 546.3L1365.5 546.3L1366 546.3L1366.5 546.3L1367 546.3L1367.5 546.3L1368 546.3L1368.5 546.3L1369 546.3L1369.5 546.3L1370 546.3L1370.5 546.3L1371 546.3L1371.5 546.3L1372 546.3L1372.5 546.3L1373 546.3L1373.5 546.3L1374 546.3L1374.5 546.3L1375 546.3L1375.5 546.3L1376 546.3L1376.5 546.3L1377 546.3L1377.5 546.3L1378 546.3L1378.5 546.3L1379 546.3L1379.5 546.3L1380 546.3L1380.5 546.3L1381 546.3L1381.5 546.3L1382 546.3L1382.5 546.3L1383 546.3L1383.5 546.3L1384 546.3L1384.5 546.3L1385 546.3L1385.5 546.3L1386 546.3L1386.5 546.3L1387 546.3L1387.5 546.3L1388 546.3L1388.5 546.3L1389 546.3L1389.5 546.3L1390 546.3L1390.5 546.3L1391 546.3L1391.5 546.3L1392 546.3L1392.5 546.3L1393 546.3L1393.5 546.3L1394 546.3L1394.5 546.3L1395 546.3L1395.5 546.3L1396 546.3L1396.5 546.3L1397 546.3L1397.5 546.3L1398 546.3L1398.5 546.3L1399 546.3L1399.5 546.3L1400 546.3L1400.5 546.3L1401 546.3L1401.5 546.3L1402 546.3L1402.5 546.3L1403 546.3L1403.5 546.3L1404 546.3L1404.5 546.3L1405 546.3L1405.5 546.3L1406 546.3L1406.5 546.3L1407 546.3L1407.5 546.3L1408 546.3L1408.5 546.3L1409 546.3L1409.5 546.3L1410 546.3L1410.5 546.3L1411 546.3L1411.5 546.3L1412 546.3L1412.5 546.3L1413 546.3L1413.5 546.3L1414 546.3L1414.5 546.3L1415 546.3L1415.5 546.3L1416 546.3L1416.5 546.3L1417 546.3L1417.5 546.3L1418 546.3L1418.5 546.3L1419 546.3L1419.5 546.3L1420 546.3L1420.5 546.3L1421 546.3L1421.5 546.3L1422 546.3L1422.5 546.3L1423 546.3L1423.5 546.3L1424 546.3L1424.5 546.3L1425 546.3L1425.5 546.3L1426 546.3L1426.5 546.3L1427 546.3L1427.5 546.3L1428 546.3L1428.5 546.3L1429 546.3L1429.5 546.3L1430 546.3L1430.5 546.3L1431 546.3L1431.5 546.3L1432 546.3L1432.5 546.3L1433 546.3L1433.5 546.3L1434 546.3L1434.5 546.3L1435 546.3L1435.5 546.3L1436 546.3L1436.5 546.3L1437 546.3L1437.5 546.3L1438 546.3L1438.5 546.3L1439 546.3L1439.5 546.3L1440 546.3L1440.5 546.3L1441 546.3L1441.5 546.3L1442 546.3L1442.5 546.3L1443 546.3L1443.5 546.3L1444 546.3L1444.5 546.3L1445 546.3L1445.5 546.3L1446 546.3L1446.5 546.3L1447 546.3L1447.5 546.3L1448 546.3L1448.5 546.3L1449 546.3L1449.5 546.3L1450 546.3L1450.5 546.3L1451 546.3L1451.5 546.3L1452 546.3L1452.5 546.3L1453 546.3L1453.5 546.3L1454 546.3L1454.5 546.3L1455 546.3L1455.5 546.3L1456 546.3L1456.5 546.3L1457 546.3L1457.5 546.3L1458 546.3L1458.5 546.3L1459 546.3L1459.5 546.3L1460 546.3L1460.5 546.3L1461 546.3L1461.5 546.3L1462 546.3L1462.5 546.3L1463 546.3L1463.5 546.3L1464 546.3L1464.5 546.3L1465 546.3L1465.5 546.3L1466 546.3L1466.5 546.3L1467 546.3L1467.5 546.3L1468 546.3L1468.5 546.3L1469 546.3L1469.5 546.3L1470 546.3L1470.5 546.3L1471 546.3L1471.5 546.3L1472 546.3L1472.5 546.3L1473 546.3L1473.5 546.3L1474 546.3L1474.5 546.3L1475 546.3L1475.5 546.3L1476 546.3L1476.5 546.3L1477 546.3L1477.5 546.3L1478 546.3L1478.5 546.3L1479 546.3L1479.5 546.3L1480 546.3L1480.5 546.3L1481 546.3L1481.5 546.3L1482 546.3L1482.5 546.3L1483 546.3L1483.5 546.3L1484 546.3L1484.5 546.3L1485 546.3L1485.5 546.3L1486 546.3L1486.5 546.3L1487 546.3L1487.5 546.3L1488 546.3L1488.5 546.3L1489 546.3L1489.5 546.3L1490 546.3L1490.5 546.3L1491 546.3L1491.5 546.3L1492 546.3L1492.5 546.3L1493 546.3L1493.5 546.3L1494 546.3L1494.5 546.3L1495 546.3L1495.5 546.3L1496 546.3L1496.5 546.3L1497 546.3L1497.5 546.3L1498 546.3L1498.5 546.3L1499 546.3L1499.5 546.3L1500 546.3L1500.5 546.3L1501 546.3L1501.5 546.3L1502 546.3L1502.5 546.3L1503 546.3L1503.5 546.3L1504 546.3L1504.5 546.3L1505 546.3L1505.5 546.3L1506 546.3L1506.5 546.3L1507 546.3L1507.5 546.3L1508 546.3L1508.5 546.3L1509 546.3L1509.5 546.3L1510 546.3L1510.5 546.3L1511 546.3L1511.5 546.3L1512 546.3L1512.5 546.3L1513 546.3L1513.5 546.3L1514 546.3L1514.5 546.3L1515 546.3L1515.5 546.3L1516 546.3L1516.5 546.3L1517 546.3L1517.5 546.3L1518 546.3L1518.5 546.3L1519 546.3L1519.5 546.3L1520 546.3L1520.5 546.3L1521 546.3L1521.5 546.3L1522 546.3L1522.5 546.3L1523 546.3L1523.5 546.3L1524 546.3L1524.5 546.3L1525 546.3L1525.5 546.3L1526 546.3L1526.5 546.3L1527 546.3L1527.5 546.3L1528 546.3L1528.5 546.3L1529 546.3L1529.5 546.3L1530 546.3L1530.5 546.3L1531 546.3L1531.5 546.3L1532 546.3L1532.5 546.3L1533 546.3L1533.5 546.3L1534 546.3L1534.5 546.3L1535 546.3L1535.5 546.3L1536 546.3L1536.5 546.3L1537 546.3L1537.5 546.3L1538 546.3L1538.5 546.3L1539 546.3L1539.5 546.3L1540 546.3L1540.5 546.3L1541 546.3L1541.5 546.3L1542 546.3L1542.5 546.3L1543 546.3L1543.5 546.3L1544 546.3L1544.5 546.3L1545 546.3L1545.5 546.3L1546 546.3L1546.5 546.3L1547 546.3L1547.5 546.3L1548 546.3L1548.5 546.3L1549 546.3L1549.5 546.3L1550 546.3L1550.5 546.3L1551 546.3L1551.5 546.3L1552 546.3L1552.5 546.3L1553 546.3L1553.5 546.3L1554 546.3L1554.5 546.3L1555 546.3L1555.5 546.3L1556 546.3L1556.5 546.3L1557 546.3L1557.5 546.3L1558 546.3L1558.5 546.3L1559 546.3L1559.5 546.3L1560 546.3L1560.5 546.3L1561 546.3L1561.5 546.3L1562 546.3L1562.5 546.3L1563 546.3L1563.5 546.3L1564 546.3L1564.5 546.3L1565 546.3L1565.5 546.3L1566 546.3L1566.5 546.3L1567 546.3L1567.5 546.3L1568 546.3L1568.5 546.3L1569 546.3L1569.5 546.3L1570 546.3L1570.5 546.3L1571 546.3L1571.5 546.3L1572 546.3L1572.5 546.3L1573 546.3L1573.5 546.3L1574 546.3L1574.5 546.3L1575 546.3L1575.5 546.3L1576 546.3L1576.5 546.3L1577 546.3L1577.5 546.3L1578 546.3L1578.5 546.275L1579 546.228L1579.5 546.163L1580 546.081L1580.5 545.987L1581 545.881L1581.5 545.768L1582 545.649L1582.5 545.523L1583 545.376L1583.5 545.207L1584 545.016L1584.5 544.802L1585 544.568L1585.5 544.312L1586 544.035L1586.5 543.737L1587 543.42L1587.5 543.082L1588 542.724L1588.5 542.343L1589 541.899L1589.5 541.387L1590 540.81L1590.5 540.17L1591 539.471L1591.5 538.717L1592 537.909L1592.5 537.053L1593 536.149L1593.5 535.203L1594 534.216L1594.5 533.191L1595 532.066L1595.5 530.817L1596 529.445L1596.5 527.956L1597 526.354L1597.5 524.641L1598 522.822L1598.5 520.902L1599 518.883L1599.5 516.764L1600 514.355L1600.5 511.621L1601 508.635L1601.5 505.47L1602 502.201L1602.5 498.9L1603 495.549L1603.5 492.072L1604 488.454L1604.5 484.679L1605 480.733L1605.5 476.6L1606 472.24L1606.5 467.637L1607 462.81L1607.5 457.781L1608 452.568L1608.5 447.193L1609 441.547L1609.5 435.496L1610 429.248L1610.5 423.023L1611 416.938L1611.5 410.867L1612 404.776L1612.5 398.636L1613 392.408L1613.5 386.094L1614 379.762L1614.5 373.482L1615 367.418L1615.5 361.762L1616 356.006L1616.5 349.583L1617 341.71L1617.5 331.98L1618 322.121L1618.5 313.519L1619 305.299L1619.5 296.212L1620 286.113L1620.5 275.238L1621 262.851L1621.5 250.88L1622 241.299L1622.5 232.931L1623 224.942L1623.5 216.569L1624 207.764L1624.5 199.134L1625 191.3L1625.5 184.407L1626 178.051L1626.5 172.032L1627 166.149L1627.5 160.22L1628 154.319L1628.5 148.529L1629 142.905L1629.5 137.5L1630 132.23L1630.5 127.065L1631 122.138L1631.5 117.586L1632 113.432L1632.5 109.39L1633 105.615L1633.5 102.316L1634 99.7L1634.5 97.581L1635 95.714L1635.5 94.214L1636 93.2L1636.5 92.499L1637 92.048L1637.5 92.164L1638 93.014L1638.5 94.313L1639 97.048L1639.5 100.758L1640 104.707L1640.5 109.27L1641 114.036L1641.5 118.638L1642 123.174L1642.5 127.763L1643 132.505L1643.5 137.5L1644 142.853L1644.5 148.516L1645 154.36L1645.5 160.256L1646 166.089L1646.5 171.894L1647 177.789L1647.5 183.891L1648 190.314L1648.5 197.083L1649 204.14L1649.5 211.422L1650 218.801L1650.5 226.344L1651 234.481L1651.5 243.612L1652 253.911L1652.5 265.56L1653 279.197L1653.5 295.443L1654 314.944L1654.5 325.681L1655 332.626L1655.5 338.08L1656 343.243L1656.5 349.154L1657 355.186L1657.5 361.175L1658 367.254L1658.5 373.561L1659 380.161L1659.5 386.885L1660 393.532L1660.5 399.924L1661 406.133L1661.5 412.224L1662 418.228L1662.5 424.168L1663 430.026L1663.5 435.81L1664 441.54L1664.5 447.239L1665 452.943L1665.5 458.61L1666 464.173L1666.5 469.565L1667 474.877L1667.5 480.08L1668 485.057L1668.5 489.7L1669 494.09L1669.5 498.292L1670 502.3L1670.5 506.106L1671 509.708L1671.5 513.271L1672 516.758L1672.5 520.023L1673 522.92L1673.5 525.3L1674 527.304L1674.5 529.17L1675 530.894L1675.5 532.475L1676 533.911L1676.5 535.199L1677 536.336L1677.5 537.321L1678 538.19L1678.5 539.016L1679 539.796L1679.5 540.526L1680 541.199L1680.5 541.812L1681 542.358L1681.5 542.833L1682 543.231L1682.5 543.547L1683 543.799L1683.5 544.032L1684 544.249L1684.5 544.449L1685 544.635L1685.5 544.806L1686 544.965L1686.5 545.11L1687 545.244L1687.5 545.367L1688 545.48L1688.5 545.584L1689 545.679L1689.5 545.767L1690 545.848L1690.5 545.927L1691 546.001L1691.5 546.07L1692 546.132L1692.5 546.188L1693 546.235L1693.5 546.273L1694 546.3L1694.5 546.3L1695 546.3L1695.5 546.3L1696 546.3L1696.5 546.3L1697 546.3L1697.5 546.3L1698 546.3L1698.5 546.3L1699 546.3L1699.5 546.3L1700 546.3L1700.5 546.3L1701 546.3L1701.5 546.3L1702 546.3L1702.5 546.3L1703 546.3L1703.5 546.3L1704 546.3L1704.5 546.3L1705 546.3L1705.5 546.3L1706 546.3L1706.5 546.3L1707 546.3L1707.5 546.3L1708 546.3L1708.5 546.3L1709 546.3L1709.5 546.3L1710 546.3L1710.5 546.3L1711 546.3L1711.5 546.3L1712 546.3L1712.5 546.3L1713 546.3L1713.5 546.3L1714 546.3L1714.5 546.3L1715 546.3L1715.5 546.3L1716 546.3L1716.5 546.3L1717 546.3L1717.5 546.3L1718 546.3L1718.5 546.3L1719 546.3L1719.5 546.3L1720 546.3L1720.5 546.3L1721 546.3L1721.5 546.3L1722 546.3L1722.5 546.3L1723 546.3L1723.5 546.3L1724 546.3L1724.5 546.3L1725 546.3L1725.5 546.3L1726 546.3L1726.5 546.3L1727 546.3L1727.5 546.3L1728 546.3L1728.5 546.3L1729 546.3L1729.5 546.3L1730 546.3L1730.5 546.3L1731 546.3L1731.5 546.3L1732 546.3L1732.5 546.3L1733 546.3L1733.5 546.3L1734 546.3L1734.5 546.3L1735 546.3L1735.5 546.3L1736 546.3L1736.5 546.3L1737 546.3L1737.5 546.3L1738 546.3L1738.5 546.3L1739 546.3L1739.5 546.3L1740 546.3L1740.5 546.3L1741 546.3L1741.5 546.3L1742 546.3L1742.5 546.3L1743 546.3L1743.5 546.3L1744 546.3L1744.5 546.3L1745 546.3L1745.5 546.3L1746 546.3L1746.5 546.3L1747 546.3L1747.5 546.3L1748 546.3L1748.5 546.3L1749 546.3L1749.5 546.3L1750 546.3L1750.5 546.3L1751 546.3L1751.5 546.3L1752 546.3L1752.5 546.3L1753 546.3L1753.5 546.3L1754 546.3L1754.5 546.3L1755 546.3L1755.5 546.3L1756 546.3L1756.5 546.3L1757 546.3L1757.5 546.3L1758 546.3L1758.5 546.3L1759 546.3L1759.5 546.3L1760 546.3L1760.5 546.3L1761 546.3L1761.5 546.3L1762 546.3L1762.5 546.3L1763 546.3L1763.5 546.3L1764 546.3L1764.5 546.3L1765 546.3L1765.5 546.3L1766 546.3L1766.5 546.3L1767 546.3L1767.5 546.3L1768 546.3L1768.5 546.3L1769 546.3L1769.5 546.3L1770 546.3L1770.5 546.3L1771 546.3L1771.5 546.3L1772 546.3L1772.5 546.3L1773 546.3L1773.5 546.3L1774 546.3L1774.5 546.3L1775 546.3L1775.5 546.3L1776 546.3L1776.5 546.3L1777 546.3L1777.5 546.3L1778 546.3L1778.5 546.3L1779 546.3L1779.5 546.3L1780 546.3L1780.5 546.3L1781 546.3L1781.5 546.3L1782 546.3L1782.5 546.3L1783 546.3L1783.5 546.3L1784 546.3L1784.5 546.3L1785 546.3L1785.5 546.3L1786 546.3L1786.5 546.3L1787 546.3L1787.5 546.3L1788 546.3L1788.5 546.3L1789 546.3L1789.5 546.3L1790 546.3L1790.5 546.3L1791 546.3L1791.5 546.3L1792 546.3L1792.5 546.3L1793 546.3L1793.5 546.3L1794 546.3L1794.5 546.3L1795 546.3L1795.5 546.3L1796 546.3L1796.5 546.3L1797 546.3L1797.5 546.3L1798 546.3L1798.5 546.3L1799 546.3L1799.5 546.3L1800 546.3L1800.5 546.3L1801 546.3L1801.5 546.3L1802 546.3L1802.5 546.3L1803 546.3L1803.5 546.3L1804 546.3L1804.5 546.3L1805 546.3L1805.5 546.3L1806 546.3L1806.5 546.3L1807 546.3L1807.5 546.3L1808 546.3L1808.5 546.3L1809 546.3L1809.5 546.3L1810 546.3L1810.5 546.3L1811 546.3L1811.5 546.3L1812 546.3L1812.5 546.3L1813 546.3L1813.5 546.3L1814 546.3L1814.5 546.3L1815 546.3L1815.5 546.3L1816 546.3L1816.5 546.3L1817 546.3L1817.5 546.3L1818 546.3L1818.5 546.3L1819 546.3L1819.5 546.3L1820 546.3L1820.5 546.3L1821 546.3L1821.5 546.3L1822 546.3L1822.5 546.3L1823 546.3L1823.5 546.3L1824 546.3L1824.5 546.3L1825 546.3L1825.5 546.3L1826 546.3L1826.5 546.3L1827 546.3L1827.5 546.3L1828 546.3L1828.5 546.3L1829 546.3L1829.5 546.3L1830 546.3L1830.5 546.3L1831 546.3L1831.5 546.3L1832 546.3L1832.5 546.3L1833 546.3L1833.5 546.3L1834 546.3L1834.5 546.3L1835 546.3L1835.5 546.3L1836 546.3L1836.5 546.3L1837 546.3L1837.5 546.3L1838 546.3L1838.5 546.3L1839 546.3L1839.5 546.3L1840 546.3L1840.5 546.3L1841 546.3L1841.5 546.3L1842 546.3L1842.5 546.3L1843 546.3L1843.5 546.3L1844 546.3L1844.5 546.3L1845 546.3L1845.5 546.3L1846 546.3L1846.5 546.3L1847 546.3L1847.5 546.3L1848 546.3L1848.5 546.3L1849 546.3L1849.5 546.3L1850 546.3L1850.5 546.3L1851 546.3L1851.5 546.3L1852 546.3L1852.5 546.3L1853 546.3L1853.5 546.3L1854 546.3L1854.5 546.3L1855 546.3L1855.5 546.3L1856 546.3L1856.5 546.3L1857 546.3L1857.5 546.3L1858 546.3L1858.5 546.3L1859 546.3L1859.5 546.3L1860 546.3L1860.5 546.3L1861 546.3L1861.5 546.3L1862 546.3L1862.5 546.3L1863 546.3L1863.5 546.3L1864 546.3L1864.5 546.3L1865 546.3L1865.5 546.3L1866 546.3L1866.5 546.3L1867 546.3L1867.5 546.3L1868 546.3L1868.5 546.3L1869 546.3L1869.5 546.3L1870 546.3L1870.5 546.3L1871 546.3L1871.5 546.3L1872 546.3L1872.5 546.3L1873 546.3L1873.5 546.3L1874 546.3L1874.5 546.3L1875 546.3L1875.5 546.3L1876 546.3L1876.5 546.3L1877 546.3L1877.5 546.3L1878 546.3L1878.5 546.3L1879 546.3L1879.5 546.3L1880 546.3L1880.5 546.3L1881 546.3L1881.5 546.3L1882 546.3L1882.5 546.3L1883 546.3L1883.5 546.3L1884 546.3L1884.5 546.3L1885 546.3L1885.5 546.3L1886 546.3L1886.5 546.3L1887 546.3L1887.5 546.3L1888 546.3L1888.5 546.3L1889 546.3L1889.5 546.3L1890 546.3L1890.5 546.3L1891 546.3L1891.5 546.3L1892 546.3L1892.5 546.3L1893 546.3L1893.5 546.3L1894 546.3L1894.5 546.3L1895 546.3L1895.5 546.3L1896 546.3L1896.5 546.3L1897 546.3L1897.5 546.3L1898 546.3L1898.5 546.3L1899 546.3L1899.5 546.3L1900 546.3L1900.5 546.3L1901 546.3L1901.5 546.3L1902 546.3L1902.5 546.3L1903 546.3L1903.5 546.3L1904 546.3L1904.5 546.3L1905 546.3L1905.5 546.3L1906 546.3L1906.5 546.3L1907 546.3L1907.5 546.3L1908 546.3L1908.5 546.3L1909 546.3L1909.5 546.3L1910 546.3L1910.5 546.3L1911 546.3L1911.5 546.3L1912 546.3L1912.5 546.3L1913 546.3L1913.5 546.3L1914 546.3L1914.5 546.3L1915 546.3L1915.5 546.3L1916 546.3L1916.5 546.3L1917 546.3L1917.5 546.3L1918 546.3L1918.5 546.3L1919 546.3L1919.5 546.3L1920 546.3L1920.5 546.3L1921 546.3L1921.5 546.3L1922 546.3L1922.5 546.3L1923 546.3L1923.5 546.3L1924 546.3L1924.5 546.3L1925 546.3L1925.5 546.3L1926 546.3L1926.5 546.3L1927 546.3L1927.5 546.3L1928 546.3L1928.5 546.3L1928.5 546.3Z" fill="url(#rg)" stroke="none"/>
<path d="M1299.5 546.3L1300 546.3L1300.5 546.3L1301 546.3L1301.5 546.3L1302 546.3L1302.5 546.3L1303 546.3L1303.5 546.3L1304 546.3L1304.5 546.3L1305 546.3L1305.5 546.3L1306 546.3L1306.5 546.3L1307 546.3L1307.5 546.3L1308 546.3L1308.5 546.3L1309 546.3L1309.5 546.3L1310 546.3L1310.5 546.3L1311 546.3L1311.5 546.3L1312 546.3L1312.5 546.3L1313 546.3L1313.5 546.3L1314 546.3L1314.5 546.3L1315 546.3L1315.5 546.3L1316 546.3L1316.5 546.3L1317 546.3L1317.5 546.3L1318 546.3L1318.5 546.3L1319 546.3L1319.5 546.3L1320 546.3L1320.5 546.3L1321 546.3L1321.5 546.3L1322 546.3L1322.5 546.3L1323 546.3L1323.5 546.3L1324 546.3L1324.5 546.3L1325 546.3L1325.5 546.3L1326 546.3L1326.5 546.3L1327 546.3L1327.5 546.3L1328 546.3L1328.5 546.3L1329 546.3L1329.5 546.3L1330 546.3L1330.5 546.3L1331 546.3L1331.5 546.3L1332 546.3L1332.5 546.3L1333 546.3L1333.5 546.3L1334 546.3L1334.5 546.3L1335 546.3L1335.5 546.3L1336 546.3L1336.5 546.3L1337 546.3L1337.5 546.3L1338 546.3L1338.5 546.3L1339 546.3L1339.5 546.3L1340 546.3L1340.5 546.3L1341 546.3L1341.5 546.3L1342 546.3L1342.5 546.3L1343 546.3L1343.5 546.3L1344 546.3L1344.5 546.3L1345 546.3L1345.5 546.3L1346 546.3L1346.5 546.3L1347 546.3L1347.5 546.3L1348 546.3L1348.5 546.3L1349 546.3L1349.5 546.3L1350 546.3L1350.5 546.3L1351 546.3L1351.5 546.3L1352 546.3L1352.5 546.3L1353 546.3L1353.5 546.3L1354 546.3L1354.5 546.3L1355 546.3L1355.5 546.3L1356 546.3L1356.5 546.3L1357 546.3L1357.5 546.3L1358 546.3L1358.5 546.3L1359 546.3L1359.5 546.3L1360 546.3L1360.5 546.3L1361 546.3L1361.5 546.3L1362 546.3L1362.5 546.3L1363 546.3L1363.5 546.3L1364 546.3L1364.5 546.3L1365 546.3L1365.5 546.3L1366 546.3L1366.5 546.3L1367 546.3L1367.5 546.3L1368 546.3L1368.5 546.3L1369 546.3L1369.5 546.3L1370 546.3L1370.5 546.3L1371 546.3L1371.5 546.3L1372 546.3L1372.5 546.3L1373 546.3L1373.5 546.3L1374 546.3L1374.5 546.3L1375 546.3L1375.5 546.3L1376 546.3L1376.5 546.3L1377 546.3L1377.5 546.3L1378 546.3L1378.5 546.3L1379 546.3L1379.5 546.3L1380 546.3L1380.5 546.3L1381 546.3L1381.5 546.3L1382 546.3L1382.5 546.3L1383 546.3L1383.5 546.3L1384 546.3L1384.5 546.3L1385 546.3L1385.5 546.3L1386 546.3L1386.5 546.3L1387 546.3L1387.5 546.3L1388 546.3L1388.5 546.3L1389 546.3L1389.5 546.3L1390 546.3L1390.5 546.3L1391 546.3L1391.5 546.3L1392 546.3L1392.5 546.3L1393 546.3L1393.5 546.3L1394 546.3L1394.5 546.3L1395 546.3L1395.5 546.3L1396 546.3L1396.5 546.3L1397 546.3L1397.5 546.3L1398 546.3L1398.5 546.3L1399 546.3L1399.5 546.3L1400 546.3L1400.5 546.3L1401 546.3L1401.5 546.3L1402 546.3L1402.5 546.3L1403 546.3L1403.5 546.3L1404 546.3L1404.5 546.3L1405 546.3L1405.5 546.3L1406 546.3L1406.5 546.3L1407 546.3L1407.5 546.3L1408 546.3L1408.5 546.3L1409 546.3L1409.5 546.3L1410 546.3L1410.5 546.3L1411 546.3L1411.5 546.3L1412 546.3L1412.5 546.3L1413 546.3L1413.5 546.3L1414 546.3L1414.5 546.3L1415 546.3L1415.5 546.3L1416 546.3L1416.5 546.3L1417 546.3L1417.5 546.3L1418 546.3L1418.5 546.3L1419 546.3L1419.5 546.3L1420 546.3L1420.5 546.3L1421 546.3L1421.5 546.3L1422 546.3L1422.5 546.3L1423 546.3L1423.5 546.3L1424 546.3L1424.5 546.3L1425 546.3L1425.5 546.3L1426 546.3L1426.5 546.3L1427 546.3L1427.5 546.3L1428 546.3L1428.5 546.3L1429 546.3L1429.5 546.3L1430 546.3L1430.5 546.3L1431 546.3L1431.5 546.3L1432 546.3L1432.5 546.3L1433 546.3L1433.5 546.3L1434 546.3L1434.5 546.3L1435 546.3L1435.5 546.3L1436 546.3L1436.5 546.3L1437 546.3L1437.5 546.3L1438 546.3L1438.5 546.3L1439 546.3L1439.5 546.3L1440 546.3L1440.5 546.3L1441 546.3L1441.5 546.3L1442 546.3L1442.5 546.3L1443 546.3L1443.5 546.3L1444 546.3L1444.5 546.3L1445 546.3L1445.5 546.3L1446 546.3L1446.5 546.3L1447 546.3L1447.5 546.3L1448 546.3L1448.5 546.3L1449 546.3L1449.5 546.3L1450 546.3L1450.5 546.3L1451 546.3L1451.5 546.3L1452 546.3L1452.5 546.3L1453 546.3L1453.5 546.3L1454 546.3L1454.5 546.3L1455 546.3L1455.5 546.3L1456 546.3L1456.5 546.3L1457 546.3L1457.5 546.3L1458 546.3L1458.5 546.3L1459 546.3L1459.5 546.3L1460 546.3L1460.5 546.3L1461 546.3L1461.5 546.3L1462 546.3L1462.5 546.3L1463 546.3L1463.5 546.3L1464 546.3L1464.5 546.3L1465 546.3L1465.5 546.3L1466 546.3L1466.5 546.3L1467 546.3L1467.5 546.3L1468 546.3L1468.5 546.3L1469 546.3L1469.5 546.3L1470 546.3L1470.5 546.3L1471 546.3L1471.5 546.3L1472 546.3L1472.5 546.3L1473 546.3L1473.5 546.3L1474 546.3L1474.5 546.3L1475 546.3L1475.5 546.3L1476 546.3L1476.5 546.3L1477 546.3L1477.5 546.3L1478 546.3L1478.5 546.3L1479 546.3L1479.5 546.3L1480 546.3L1480.5 546.3L1481 546.3L1481.5 546.3L1482 546.3L1482.5 546.3L1483 546.3L1483.5 546.3L1484 546.3L1484.5 546.3L1485 546.3L1485.5 546.3L1486 546.3L1486.5 546.3L1487 546.3L1487.5 546.3L1488 546.3L1488.5 546.3L1489 546.3L1489.5 546.3L1490 546.3L1490.5 546.3L1491 546.3L1491.5 546.3L1492 546.3L1492.5 546.3L1493 546.3L1493.5 546.3L1494 546.3L1494.5 546.3L1495 546.3L1495.5 546.3L1496 546.3L1496.5 546.3L1497 546.3L1497.5 546.3L1498 546.3L1498.5 546.3L1499 546.3L1499.5 546.3L1500 546.3L1500.5 546.3L1501 546.3L1501.5 546.3L1502 546.3L1502.5 546.3L1503 546.3L1503.5 546.3L1504 546.3L1504.5 546.3L1505 546.3L1505.5 546.3L1506 546.3L1506.5 546.3L1507 546.3L1507.5 546.3L1508 546.3L1508.5 546.3L1509 546.3L1509.5 546.3L1510 546.3L1510.5 546.3L1511 546.3L1511.5 546.3L1512 546.3L1512.5 546.3L1513 546.3L1513.5 546.3L1514 546.3L1514.5 546.3L1515 546.3L1515.5 546.3L1516 546.3L1516.5 546.3L1517 546.3L1517.5 546.3L1518 546.3L1518.5 546.3L1519 546.3L1519.5 546.3L1520 546.3L1520.5 546.3L1521 546.3L1521.5 546.3L1522 546.3L1522.5 546.3L1523 546.3L1523.5 546.3L1524 546.3L1524.5 546.3L1525 546.3L1525.5 546.3L1526 546.3L1526.5 546.3L1527 546.3L1527.5 546.3L1528 546.3L1528.5 546.3L1529 546.3L1529.5 546.3L1530 546.3L1530.5 546.3L1531 546.3L1531.5 546.3L1532 546.3L1532.5 546.3L1533 546.3L1533.5 546.3L1534 546.3L1534.5 546.3L1535 546.3L1535.5 546.3L1536 546.3L1536.5 546.3L1537 546.3L1537.5 546.3L1538 546.3L1538.5 546.3L1539 546.3L1539.5 546.3L1540 546.3L1540.5 546.3L1541 546.3L1541.5 546.3L1542 546.3L1542.5 546.3L1543 546.3L1543.5 546.3L1544 546.3L1544.5 546.3L1545 546.3L1545.5 546.3L1546 546.3L1546.5 546.3L1547 546.3L1547.5 546.3L1548 546.3L1548.5 546.3L1549 546.3L1549.5 546.3L1550 546.3L1550.5 546.3L1551 546.3L1551.5 546.3L1552 546.3L1552.5 546.3L1553 546.3L1553.5 546.3L1554 546.3L1554.5 546.3L1555 546.3L1555.5 546.3L1556 546.3L1556.5 546.3L1557 546.3L1557.5 546.3L1558 546.3L1558.5 546.3L1559 546.3L1559.5 546.3L1560 546.3L1560.5 546.3L1561 546.3L1561.5 546.3L1562 546.3L1562.5 546.3L1563 546.3L1563.5 546.3L1564 546.3L1564.5 546.3L1565 546.3L1565.5 546.3L1566 546.3L1566.5 546.3L1567 546.3L1567.5 546.3L1568 546.3L1568.5 546.3L1569 546.3L1569.5 546.3L1570 546.3L1570.5 546.3L1571 546.3L1571.5 546.3L1572 546.3L1572.5 546.3L1573 546.3L1573.5 546.3L1574 546.3L1574.5 546.3L1575 546.3L1575.5 546.3L1576 546.3L1576.5 546.3L1577 546.3L1577.5 546.3L1578 546.3L1578.5 546.275L1579 546.228L1579.5 546.163L1580 546.081L1580.5 545.987L1581 545.881L1581.5 545.768L1582 545.649L1582.5 545.523L1583 545.376L1583.5 545.207L1584 545.016L1584.5 544.802L1585 544.568L1585.5 544.312L1586 544.035L1586.5 543.737L1587 543.42L1587.5 543.082L1588 542.724L1588.5 542.343L1589 541.899L1589.5 541.387L1590 540.81L1590.5 540.17L1591 539.471L1591.5 538.717L1592 537.909L1592.5 537.053L1593 536.149L1593.5 535.203L1594 534.216L1594.5 533.191L1595 532.066L1595.5 530.817L1596 529.445L1596.5 527.956L1597 526.354L1597.5 524.641L1598 522.822L1598.5 520.902L1599 518.883L1599.5 516.764L1600 514.355L1600.5 511.621L1601 508.635L1601.5 505.47L1602 502.201L1602.5 498.9L1603 495.549L1603.5 492.072L1604 488.454L1604.5 484.679L1605 480.733L1605.5 476.6L1606 472.24L1606.5 467.637L1607 462.81L1607.5 457.781L1608 452.568L1608.5 447.193L1609 441.547L1609.5 435.496L1610 429.248L1610.5 423.023L1611 416.938L1611.5 410.867L1612 404.776L1612.5 398.636L1613 392.408L1613.5 386.094L1614 379.762L1614.5 373.482L1615 367.418L1615.5 361.762L1616 356.006L1616.5 349.583L1617 341.71L1617.5 331.98L1618 322.121L1618.5 313.519L1619 305.299L1619.5 296.212L1620 286.113L1620.5 275.238L1621 262.851L1621.5 250.88L1622 241.299L1622.5 232.931L1623 224.942L1623.5 216.569L1624 207.764L1624.5 199.134L1625 191.3L1625.5 184.407L1626 178.051L1626.5 172.032L1627 166.149L1627.5 160.22L1628 154.319L1628.5 148.529L1629 142.905L1629.5 137.5L1630 132.23L1630.5 127.065L1631 122.138L1631.5 117.586L1632 113.432L1632.5 109.39L1633 105.615L1633.5 102.316L1634 99.7L1634.5 97.581L1635 95.714L1635.5 94.214L1636 93.2L1636.5 92.499L1637 92.048L1637.5 92.164L1638 93.014L1638.5 94.313L1639 97.048L1639.5 100.758L1640 104.707L1640.5 109.27L1641 114.036L1641.5 118.638L1642 123.174L1642.5 127.763L1643 132.505L1643.5 137.5L1644 142.853L1644.5 148.516L1645 154.36L1645.5 160.256L1646 166.089L1646.5 171.894L1647 177.789L1647.5 183.891L1648 190.314L1648.5 197.083L1649 204.14L1649.5 211.422L1650 218.801L1650.5 226.344L1651 234.481L1651.5 243.612L1652 253.911L1652.5 265.56L1653 279.197L1653.5 295.443L1654 314.944L1654.5 325.681L1655 332.626L1655.5 338.08L1656 343.243L1656.5 349.154L1657 355.186L1657.5 361.175L1658 367.254L1658.5 373.561L1659 380.161L1659.5 386.885L1660 393.532L1660.5 399.924L1661 406.133L1661.5 412.224L1662 418.228L1662.5 424.168L1663 430.026L1663.5 435.81L1664 441.54L1664.5 447.239L1665 452.943L1665.5 458.61L1666 464.173L1666.5 469.565L1667 474.877L1667.5 480.08L1668 485.057L1668.5 489.7L1669 494.09L1669.5 498.292L1670 502.3L1670.5 506.106L1671 509.708L1671.5 513.271L1672 516.758L1672.5 520.023L1673 522.92L1673.5 525.3L1674 527.304L1674.5 529.17L1675 530.894L1675.5 532.475L1676 533.911L1676.5 535.199L1677 536.336L1677.5 537.321L1678 538.19L1678.5 539.016L1679 539.796L1679.5 540.526L1680 541.199L1680.5 541.812L1681 542.358L1681.5 542.833L1682 543.231L1682.5 543.547L1683 543.799L1683.5 544.032L1684 544.249L1684.5 544.449L1685 544.635L1685.5 544.806L1686 544.965L1686.5 545.11L1687 545.244L1687.5 545.367L1688 545.48L1688.5 545.584L1689 545.679L1689.5 545.767L1690 545.848L1690.5 545.927L1691 546.001L1691.5 546.07L1692 546.132L1692.5 546.188L1693 546.235L1693.5 546.273L1694 546.3L1694.5 546.3L1695 546.3L1695.5 546.3L1696 546.3L1696.5 546.3L1697 546.3L1697.5 546.3L1698 546.3L1698.5 546.3L1699 546.3L1699.5 546.3L1700 546.3L1700.5 546.3L1701 546.3L1701.5 546.3L1702 546.3L1702.5 546.3L1703 546.3L1703.5 546.3L1704 546.3L1704.5 546.3L1705 546.3L1705.5 546.3L1706 546.3L1706.5 546.3L1707 546.3L1707.5 546.3L1708 546.3L1708.5 546.3L1709 546.3L1709.5 546.3L1710 546.3L1710.5 546.3L1711 546.3L1711.5 546.3L1712 546.3L1712.5 546.3L1713 546.3L1713.5 546.3L1714 546.3L1714.5 546.3L1715 546.3L1715.5 546.3L1716 546.3L1716.5 546.3L1717 546.3L1717.5 546.3L1718 546.3L1718.5 546.3L1719 546.3L1719.5 546.3L1720 546.3L1720.5 546.3L1721 546.3L1721.5 546.3L1722 546.3L1722.5 546.3L1723 546.3L1723.5 546.3L1724 546.3L1724.5 546.3L1725 546.3L1725.5 546.3L1726 546.3L1726.5 546.3L1727 546.3L1727.5 546.3L1728 546.3L1728.5 546.3L1729 546.3L1729.5 546.3L1730 546.3L1730.5 546.3L1731 546.3L1731.5 546.3L1732 546.3L1732.5 546.3L1733 546.3L1733.5 546.3L1734 546.3L1734.5 546.3L1735 546.3L1735.5 546.3L1736 546.3L1736.5 546.3L1737 546.3L1737.5 546.3L1738 546.3L1738.5 546.3L1739 546.3L1739.5 546.3L1740 546.3L1740.5 546.3L1741 546.3L1741.5 546.3L1742 546.3L1742.5 546.3L1743 546.3L1743.5 546.3L1744 546.3L1744.5 546.3L1745 546.3L1745.5 546.3L1746 546.3L1746.5 546.3L1747 546.3L1747.5 546.3L1748 546.3L1748.5 546.3L1749 546.3L1749.5 546.3L1750 546.3L1750.5 546.3L1751 546.3L1751.5 546.3L1752 546.3L1752.5 546.3L1753 546.3L1753.5 546.3L1754 546.3L1754.5 546.3L1755 546.3L1755.5 546.3L1756 546.3L1756.5 546.3L1757 546.3L1757.5 546.3L1758 546.3L1758.5 546.3L1759 546.3L1759.5 546.3L1760 546.3L1760.5 546.3L1761 546.3L1761.5 546.3L1762 546.3L1762.5 546.3L1763 546.3L1763.5 546.3L1764 546.3L1764.5 546.3L1765 546.3L1765.5 546.3L1766 546.3L1766.5 546.3L1767 546.3L1767.5 546.3L1768 546.3L1768.5 546.3L1769 546.3L1769.5 546.3L1770 546.3L1770.5 546.3L1771 546.3L1771.5 546.3L1772 546.3L1772.5 546.3L1773 546.3L1773.5 546.3L1774 546.3L1774.5 546.3L1775 546.3L1775.5 546.3L1776 546.3L1776.5 546.3L1777 546.3L1777.5 546.3L1778 546.3L1778.5 546.3L1779 546.3L1779.5 546.3L1780 546.3L1780.5 546.3L1781 546.3L1781.5 546.3L1782 546.3L1782.5 546.3L1783 546.3L1783.5 546.3L1784 546.3L1784.5 546.3L1785 546.3L1785.5 546.3L1786 546.3L1786.5 546.3L1787 546.3L1787.5 546.3L1788 546.3L1788.5 546.3L1789 546.3L1789.5 546.3L1790 546.3L1790.5 546.3L1791 546.3L1791.5 546.3L1792 546.3L1792.5 546.3L1793 546.3L1793.5 546.3L1794 546.3L1794.5 546.3L1795 546.3L1795.5 546.3L1796 546.3L1796.5 546.3L1797 546.3L1797.5 546.3L1798 546.3L1798.5 546.3L1799 546.3L1799.5 546.3L1800 546.3L1800.5 546.3L1801 546.3L1801.5 546.3L1802 546.3L1802.5 546.3L1803 546.3L1803.5 546.3L1804 546.3L1804.5 546.3L1805 546.3L1805.5 546.3L1806 546.3L1806.5 546.3L1807 546.3L1807.5 546.3L1808 546.3L1808.5 546.3L1809 546.3L1809.5 546.3L1810 546.3L1810.5 546.3L1811 546.3L1811.5 546.3L1812 546.3L1812.5 546.3L1813 546.3L1813.5 546.3L1814 546.3L1814.5 546.3L1815 546.3L1815.5 546.3L1816 546.3L1816.5 546.3L1817 546.3L1817.5 546.3L1818 546.3L1818.5 546.3L1819 546.3L1819.5 546.3L1820 546.3L1820.5 546.3L1821 546.3L1821.5 546.3L1822 546.3L1822.5 546.3L1823 546.3L1823.5 546.3L1824 546.3L1824.5 546.3L1825 546.3L1825.5 546.3L1826 546.3L1826.5 546.3L1827 546.3L1827.5 546.3L1828 546.3L1828.5 546.3L1829 546.3L1829.5 546.3L1830 546.3L1830.5 546.3L1831 546.3L1831.5 546.3L1832 546.3L1832.5 546.3L1833 546.3L1833.5 546.3L1834 546.3L1834.5 546.3L1835 546.3L1835.5 546.3L1836 546.3L1836.5 546.3L1837 546.3L1837.5 546.3L1838 546.3L1838.5 546.3L1839 546.3L1839.5 546.3L1840 546.3L1840.5 546.3L1841 546.3L1841.5 546.3L1842 546.3L1842.5 546.3L1843 546.3L1843.5 546.3L1844 546.3L1844.5 546.3L1845 546.3L1845.5 546.3L1846 546.3L1846.5 546.3L1847 546.3L1847.5 546.3L1848 546.3L1848.5 546.3L1849 546.3L1849.5 546.3L1850 546.3L1850.5 546.3L1851 546.3L1851.5 546.3L1852 546.3L1852.5 546.3L1853 546.3L1853.5 546.3L1854 546.3L1854.5 546.3L1855 546.3L1855.5 546.3L1856 546.3L1856.5 546.3L1857 546.3L1857.5 546.3L1858 546.3L1858.5 546.3L1859 546.3L1859.5 546.3L1860 546.3L1860.5 546.3L1861 546.3L1861.5 546.3L1862 546.3L1862.5 546.3L1863 546.3L1863.5 546.3L1864 546.3L1864.5 546.3L1865 546.3L1865.5 546.3L1866 546.3L1866.5 546.3L1867 546.3L1867.5 546.3L1868 546.3L1868.5 546.3L1869 546.3L1869.5 546.3L1870 546.3L1870.5 546.3L1871 546.3L1871.5 546.3L1872 546.3L1872.5 546.3L1873 546.3L1873.5 546.3L1874 546.3L1874.5 546.3L1875 546.3L1875.5 546.3L1876 546.3L1876.5 546.3L1877 546.3L1877.5 546.3L1878 546.3L1878.5 546.3L1879 546.3L1879.5 546.3L1880 546.3L1880.5 546.3L1881 546.3L1881.5 546.3L1882 546.3L1882.5 546.3L1883 546.3L1883.5 546.3L1884 546.3L1884.5 546.3L1885 546.3L1885.5 546.3L1886 546.3L1886.5 546.3L1887 546.3L1887.5 546.3L1888 546.3L1888.5 546.3L1889 546.3L1889.5 546.3L1890 546.3L1890.5 546.3L1891 546.3L1891.5 546.3L1892 546.3L1892.5 546.3L1893 546.3L1893.5 546.3L1894 546.3L1894.5 546.3L1895 546.3L1895.5 546.3L1896 546.3L1896.5 546.3L1897 546.3L1897.5 546.3L1898 546.3L1898.5 546.3L1899 546.3L1899.5 546.3L1900 546.3L1900.5 546.3L1901 546.3L1901.5 546.3L1902 546.3L1902.5 546.3L1903 546.3L1903.5 546.3L1904 546.3L1904.5 546.3L1905 546.3L1905.5 546.3L1906 546.3L1906.5 546.3L1907 546.3L1907.5 546.3L1908 546.3L1908.5 546.3L1909 546.3L1909.5 546.3L1910 546.3L1910.5 546.3L1911 546.3L1911.5 546.3L1912 546.3L1912.5 546.3L1913 546.3L1913.5 546.3L1914 546.3L1914.5 546.3L1915 546.3L1915.5 546.3L1916 546.3L1916.5 546.3L1917 546.3L1917.5 546.3L1918 546.3L1918.5 546.3L1919 546.3L1919.5 546.3L1920 546.3L1920.5 546.3L1921 546.3L1921.5 546.3L1922 546.3L1922.5 546.3L1923 546.3L1923.5 546.3L1924 546.3L1924.5 546.3L1925 546.3L1925.5 546.3L1926 546.3L1926.5 546.3L1927 546.3L1927.5 546.3L1928 546.3L1928.5 546.3" fill="none" stroke="#000" stroke-width="1.9" stroke-linejoin="round"/>
<path d="M1299.5 797.3L1299.5 797.3L1300.5 797.3L1301.5 797.3L1302.5 797.3L1303.5 797.3L1304.5 797.3L1305.5 797.3L1306.5 797.3L1307.5 797.3L1308.5 797.3L1309.5 797.3L1310.5 797.3L1311.5 797.3L1312.5 797.3L1313.5 797.3L1314.5 797.3L1315.5 797.3L1316.5 797.3L1317.5 797.3L1318.5 797.3L1319.5 797.3L1320.5 797.3L1321.5 797.3L1322.5 797.3L1323.5 797.3L1324.5 797.3L1325.5 797.3L1326.5 797.3L1327.5 797.3L1328.5 797.3L1329.5 797.3L1330.5 797.3L1331.5 797.3L1332.5 797.3L1333.5 797.3L1334.5 797.3L1335.5 797.3L1336.5 797.3L1337.5 797.3L1338.5 797.3L1339.5 797.3L1340.5 797.3L1341.5 797.3L1342.5 797.3L1343.5 797.3L1344.5 797.3L1345.5 797.3L1346.5 797.3L1347.5 797.3L1348.5 797.3L1349.5 797.3L1350.5 797.3L1351.5 797.3L1352.5 797.3L1353.5 797.3L1354.5 797.3L1355.5 797.3L1356.5 797.3L1357.5 797.3L1358.5 797.3L1359.5 797.3L1360.5 797.3L1361.5 797.3L1362.5 797.3L1363.5 797.3L1364.5 797.3L1365.5 797.3L1366.5 797.3L1367.5 797.3L1368.5 797.3L1369.5 797.3L1370.5 797.3L1371.5 797.3L1372.5 797.3L1373.5 797.3L1374.5 797.3L1375.5 797.3L1376.5 797.3L1377.5 797.3L1378.5 797.3L1379.5 797.3L1380.5 797.3L1381.5 797.3L1382.5 797.3L1383.5 797.3L1384.5 797.3L1385.5 797.3L1386.5 797.3L1387.5 797.3L1388.5 797.3L1389.5 797.3L1390.5 797.3L1391.5 797.3L1392.5 797.3L1393.5 797.3L1394.5 797.3L1395.5 797.3L1396.5 797.3L1397.5 797.3L1398.5 797.3L1399.5 797.3L1400.5 797.3L1401.5 797.3L1402.5 797.3L1403.5 797.3L1404.5 797.3L1405.5 797.3L1406.5 797.3L1407.5 797.3L1408.5 797.3L1409.5 797.3L1410.5 797.3L1411.5 797.3L1412.5 797.3L1413.5 797.3L1414.5 797.3L1415.5 797.3L1416.5 797.3L1417.5 797.3L1418.5 797.3L1419.5 797.3L1420.5 797.3L1421.5 797.3L1422.5 797.3L1423.5 797.3L1424.5 797.3L1425.5 797.3L1426.5 797.3L1427.5 797.3L1428.5 797.3L1429.5 797.3L1430.5 797.3L1431.5 797.3L1432.5 797.3L1433.5 797.3L1434.5 797.3L1435.5 797.3L1436.5 797.3L1437.5 797.3L1438.5 797.3L1439.5 797.3L1440.5 797.3L1441.5 797.3L1442.5 797.3L1443.5 797.3L1444.5 796.696L1445.5 795.832L1446.5 795.725L1447.5 795.68L1448.5 795.64L1449.5 795.607L1450.5 795.578L1451.5 795.554L1452.5 795.534L1453.5 795.518L1454.5 795.505L1455.5 795.494L1456.5 795.485L1457.5 795.478L1458.5 795.472L1459.5 795.467L1460.5 795.461L1461.5 795.455L1462.5 795.448L1463.5 795.439L1464.5 795.428L1465.5 795.414L1466.5 795.398L1467.5 795.377L1468.5 795.353L1469.5 795.324L1470.5 795.289L1471.5 795.249L1472.5 795.167L1473.5 795.012L1474.5 794.795L1475.5 794.53L1476.5 794.227L1477.5 793.9L1478.5 793.56L1479.5 793.219L1480.5 792.887L1481.5 792.535L1482.5 792.154L1483.5 791.747L1484.5 791.314L1485.5 790.857L1486.5 790.375L1487.5 789.871L1488.5 789.346L1489.5 788.783L1490.5 788.158L1491.5 787.481L1492.5 786.767L1493.5 786.027L1494.5 785.276L1495.5 784.525L1496.5 783.789L1497.5 783.078L1498.5 782.385L1499.5 781.698L1500.5 781.013L1501.5 780.327L1502.5 779.636L1503.5 778.936L1504.5 778.224L1505.5 777.494L1506.5 776.751L1507.5 776.014L1508.5 775.275L1509.5 774.526L1510.5 773.757L1511.5 772.96L1512.5 772.126L1513.5 771.246L1514.5 770.31L1515.5 769.314L1516.5 768.247L1517.5 767.098L1518.5 765.853L1519.5 764.5L1520.5 763.005L1521.5 761.339L1522.5 759.518L1523.5 757.557L1524.5 755.47L1525.5 753.221L1526.5 750.712L1527.5 748.013L1528.5 745.199L1529.5 742.347L1530.5 739.486L1531.5 736.491L1532.5 733.416L1533.5 730.341L1534.5 727.346L1535.5 724.484L1536.5 721.622L1537.5 718.796L1538.5 716.09L1539.5 713.591L1540.5 711.376L1541.5 709.398L1542.5 707.581L1543.5 705.877L1544.5 704.237L1545.5 702.613L1546.5 700.954L1547.5 699.225L1548.5 697.499L1549.5 695.788L1550.5 694.074L1551.5 692.343L1552.5 690.581L1553.5 688.771L1554.5 686.912L1555.5 685.053L1556.5 683.168L1557.5 681.22L1558.5 679.172L1559.5 676.988L1560.5 674.622L1561.5 672.03L1562.5 669.248L1563.5 666.321L1564.5 663.297L1565.5 660.221L1566.5 657.128L1567.5 653.967L1568.5 650.713L1569.5 647.348L1570.5 643.855L1571.5 640.179L1572.5 636.032L1573.5 631.802L1574.5 628.05L1575.5 624.858L1576.5 621.841L1577.5 619.062L1578.5 616.585L1579.5 614.477L1580.5 612.675L1581.5 611.035L1582.5 609.766L1583.5 609.053L1584.5 608.555L1585.5 608.192L1586.5 608.036L1587.5 608.145L1588.5 608.478L1589.5 608.952L1590.5 609.541L1591.5 610.526L1592.5 611.813L1593.5 613.225L1594.5 614.857L1595.5 616.812L1596.5 618.969L1597.5 621.205L1598.5 623.4L1599.5 625.431L1600.5 627.18L1601.5 628.736L1602.5 630.187L1603.5 631.533L1604.5 632.776L1605.5 633.914L1606.5 634.959L1607.5 635.941L1608.5 636.889L1609.5 637.833L1610.5 638.802L1611.5 639.767L1612.5 640.676L1613.5 641.594L1614.5 642.588L1615.5 643.723L1616.5 645.066L1617.5 646.639L1618.5 648.422L1619.5 650.393L1620.5 652.53L1621.5 654.863L1622.5 657.587L1623.5 660.615L1624.5 663.817L1625.5 667.067L1626.5 670.255L1627.5 673.478L1628.5 676.77L1629.5 680.128L1630.5 683.547L1631.5 687.029L1632.5 690.65L1633.5 694.38L1634.5 698.133L1635.5 701.828L1636.5 705.381L1637.5 708.77L1638.5 712.066L1639.5 715.349L1640.5 718.672L1641.5 721.955L1642.5 725.101L1643.5 728.017L1644.5 730.747L1645.5 733.352L1646.5 735.857L1647.5 738.29L1648.5 740.675L1649.5 743.038L1650.5 745.403L1651.5 747.774L1652.5 750.131L1653.5 752.451L1654.5 754.715L1655.5 756.902L1656.5 758.992L1657.5 760.975L1658.5 762.919L1659.5 764.816L1660.5 766.646L1661.5 768.386L1662.5 770.016L1663.5 771.513L1664.5 772.876L1665.5 774.167L1666.5 775.395L1667.5 776.562L1668.5 777.668L1669.5 778.716L1670.5 779.707L1671.5 780.643L1672.5 781.524L1673.5 782.368L1674.5 783.185L1675.5 783.971L1676.5 784.719L1677.5 785.425L1678.5 786.084L1679.5 786.689L1680.5 787.236L1681.5 787.723L1682.5 788.173L1683.5 788.596L1684.5 788.994L1685.5 789.369L1686.5 789.726L1687.5 790.066L1688.5 790.393L1689.5 790.709L1690.5 791.018L1691.5 791.321L1692.5 791.623L1693.5 791.926L1694.5 792.232L1695.5 792.551L1696.5 792.897L1697.5 793.258L1698.5 793.623L1699.5 793.979L1700.5 794.315L1701.5 794.617L1702.5 794.875L1703.5 795.075L1704.5 795.207L1705.5 795.263L1706.5 795.299L1707.5 795.33L1708.5 795.357L1709.5 795.379L1710.5 795.398L1711.5 795.413L1712.5 795.426L1713.5 795.436L1714.5 795.445L1715.5 795.452L1716.5 795.458L1717.5 795.463L1718.5 795.468L1719.5 795.474L1720.5 795.48L1721.5 795.487L1722.5 795.495L1723.5 795.506L1724.5 795.519L1725.5 795.534L1726.5 795.553L1727.5 795.576L1728.5 795.602L1729.5 795.634L1730.5 795.67L1731.5 795.711L1732.5 795.759L1733.5 796.325L1734.5 797.3L1735.5 797.3L1736.5 797.3L1737.5 797.3L1738.5 797.3L1739.5 797.3L1740.5 797.3L1741.5 797.3L1742.5 797.3L1743.5 797.3L1744.5 797.3L1745.5 797.3L1746.5 797.3L1747.5 797.3L1748.5 797.3L1749.5 797.3L1750.5 797.3L1751.5 797.3L1752.5 797.3L1753.5 797.3L1754.5 797.3L1755.5 797.3L1756.5 797.3L1757.5 797.3L1758.5 797.3L1759.5 797.3L1760.5 797.3L1761.5 797.3L1762.5 797.3L1763.5 797.3L1764.5 797.3L1765.5 797.3L1766.5 797.3L1767.5 797.3L1768.5 797.3L1769.5 797.3L1770.5 797.3L1771.5 797.3L1772.5 797.3L1773.5 797.3L1774.5 797.3L1775.5 797.3L1776.5 797.3L1777.5 797.3L1778.5 797.3L1779.5 797.3L1780.5 797.3L1781.5 797.3L1782.5 797.3L1783.5 797.3L1784.5 797.3L1785.5 797.3L1786.5 797.3L1787.5 797.3L1788.5 797.3L1789.5 797.3L1790.5 797.3L1791.5 797.3L1792.5 797.3L1793.5 797.3L1794.5 797.3L1795.5 797.3L1796.5 797.3L1797.5 797.3L1798.5 797.3L1799.5 797.3L1800.5 797.3L1801.5 797.3L1802.5 797.3L1803.5 797.3L1804.5 797.3L1805.5 797.3L1806.5 797.3L1807.5 797.3L1808.5 797.3L1809.5 797.3L1810.5 797.3L1811.5 797.3L1812.5 797.3L1813.5 797.3L1814.5 797.3L1815.5 797.3L1816.5 797.3L1817.5 797.3L1818.5 797.3L1819.5 797.3L1820.5 797.3L1821.5 797.3L1822.5 797.3L1823.5 797.3L1824.5 797.3L1825.5 797.3L1826.5 797.3L1827.5 797.3L1828.5 797.3L1829.5 797.3L1830.5 797.3L1831.5 797.3L1832.5 797.3L1833.5 797.3L1834.5 797.3L1835.5 797.3L1836.5 797.3L1837.5 797.3L1838.5 797.3L1839.5 797.3L1840.5 797.3L1841.5 797.3L1842.5 797.3L1843.5 797.3L1844.5 797.3L1845.5 797.3L1846.5 797.3L1847.5 797.3L1848.5 797.3L1849.5 797.3L1850.5 797.3L1851.5 797.3L1852.5 797.3L1853.5 797.3L1854.5 797.3L1855.5 797.3L1856.5 797.3L1857.5 797.3L1858.5 797.3L1859.5 797.3L1860.5 797.3L1861.5 797.3L1862.5 797.3L1863.5 797.3L1864.5 797.3L1865.5 797.3L1866.5 797.3L1867.5 797.3L1868.5 797.3L1869.5 797.3L1870.5 797.3L1871.5 797.3L1872.5 797.3L1873.5 797.3L1874.5 797.3L1875.5 797.3L1876.5 797.3L1877.5 797.3L1878.5 797.3L1879.5 797.3L1880.5 797.3L1881.5 797.3L1882.5 797.3L1883.5 797.3L1884.5 797.3L1885.5 797.3L1886.5 797.3L1887.5 797.3L1888.5 797.3L1889.5 797.3L1890.5 797.3L1891.5 797.3L1892.5 797.3L1893.5 797.3L1894.5 797.3L1895.5 797.3L1896.5 797.3L1897.5 797.3L1898.5 797.3L1899.5 797.3L1900.5 797.3L1901.5 797.3L1902.5 797.3L1903.5 797.3L1904.5 797.3L1905.5 797.3L1906.5 797.3L1907.5 797.3L1908.5 797.3L1909.5 797.3L1910.5 797.3L1911.5 797.3L1912.5 797.3L1913.5 797.3L1914.5 797.3L1915.5 797.3L1916.5 797.3L1917.5 797.3L1918.5 797.3L1919.5 797.3L1920.5 797.3L1921.5 797.3L1922.5 797.3L1923.5 797.3L1924.5 797.3L1925.5 797.3L1926.5 797.3L1927.5 797.3L1928.5 797.3L1928.5 797.3Z" fill="url(#rg)" stroke="none"/>
<path d="M1299.5 797.3L1300.5 797.3L1301.5 797.3L1302.5 797.3L1303.5 797.3L1304.5 797.3L1305.5 797.3L1306.5 797.3L1307.5 797.3L1308.5 797.3L1309.5 797.3L1310.5 797.3L1311.5 797.3L1312.5 797.3L1313.5 797.3L1314.5 797.3L1315.5 797.3L1316.5 797.3L1317.5 797.3L1318.5 797.3L1319.5 797.3L1320.5 797.3L1321.5 797.3L1322.5 797.3L1323.5 797.3L1324.5 797.3L1325.5 797.3L1326.5 797.3L1327.5 797.3L1328.5 797.3L1329.5 797.3L1330.5 797.3L1331.5 797.3L1332.5 797.3L1333.5 797.3L1334.5 797.3L1335.5 797.3L1336.5 797.3L1337.5 797.3L1338.5 797.3L1339.5 797.3L1340.5 797.3L1341.5 797.3L1342.5 797.3L1343.5 797.3L1344.5 797.3L1345.5 797.3L1346.5 797.3L1347.5 797.3L1348.5 797.3L1349.5 797.3L1350.5 797.3L1351.5 797.3L1352.5 797.3L1353.5 797.3L1354.5 797.3L1355.5 797.3L1356.5 797.3L1357.5 797.3L1358.5 797.3L1359.5 797.3L1360.5 797.3L1361.5 797.3L1362.5 797.3L1363.5 797.3L1364.5 797.3L1365.5 797.3L1366.5 797.3L1367.5 797.3L1368.5 797.3L1369.5 797.3L1370.5 797.3L1371.5 797.3L1372.5 797.3L1373.5 797.3L1374.5 797.3L1375.5 797.3L1376.5 797.3L1377.5 797.3L1378.5 797.3L1379.5 797.3L1380.5 797.3L1381.5 797.3L1382.5 797.3L1383.5 797.3L1384.5 797.3L1385.5 797.3L1386.5 797.3L1387.5 797.3L1388.5 797.3L1389.5 797.3L1390.5 797.3L1391.5 797.3L1392.5 797.3L1393.5 797.3L1394.5 797.3L1395.5 797.3L1396.5 797.3L1397.5 797.3L1398.5 797.3L1399.5 797.3L1400.5 797.3L1401.5 797.3L1402.5 797.3L1403.5 797.3L1404.5 797.3L1405.5 797.3L1406.5 797.3L1407.5 797.3L1408.5 797.3L1409.5 797.3L1410.5 797.3L1411.5 797.3L1412.5 797.3L1413.5 797.3L1414.5 797.3L1415.5 797.3L1416.5 797.3L1417.5 797.3L1418.5 797.3L1419.5 797.3L1420.5 797.3L1421.5 797.3L1422.5 797.3L1423.5 797.3L1424.5 797.3L1425.5 797.3L1426.5 797.3L1427.5 797.3L1428.5 797.3L1429.5 797.3L1430.5 797.3L1431.5 797.3L1432.5 797.3L1433.5 797.3L1434.5 797.3L1435.5 797.3L1436.5 797.3L1437.5 797.3L1438.5 797.3L1439.5 797.3L1440.5 797.3L1441.5 797.3L1442.5 797.3L1443.5 797.3L1444.5 796.696L1445.5 795.832L1446.5 795.725L1447.5 795.68L1448.5 795.64L1449.5 795.607L1450.5 795.578L1451.5 795.554L1452.5 795.534L1453.5 795.518L1454.5 795.505L1455.5 795.494L1456.5 795.485L1457.5 795.478L1458.5 795.472L1459.5 795.467L1460.5 795.461L1461.5 795.455L1462.5 795.448L1463.5 795.439L1464.5 795.428L1465.5 795.414L1466.5 795.398L1467.5 795.377L1468.5 795.353L1469.5 795.324L1470.5 795.289L1471.5 795.249L1472.5 795.167L1473.5 795.012L1474.5 794.795L1475.5 794.53L1476.5 794.227L1477.5 793.9L1478.5 793.56L1479.5 793.219L1480.5 792.887L1481.5 792.535L1482.5 792.154L1483.5 791.747L1484.5 791.314L1485.5 790.857L1486.5 790.375L1487.5 789.871L1488.5 789.346L1489.5 788.783L1490.5 788.158L1491.5 787.481L1492.5 786.767L1493.5 786.027L1494.5 785.276L1495.5 784.525L1496.5 783.789L1497.5 783.078L1498.5 782.385L1499.5 781.698L1500.5 781.013L1501.5 780.327L1502.5 779.636L1503.5 778.936L1504.5 778.224L1505.5 777.494L1506.5 776.751L1507.5 776.014L1508.5 775.275L1509.5 774.526L1510.5 773.757L1511.5 772.96L1512.5 772.126L1513.5 771.246L1514.5 770.31L1515.5 769.314L1516.5 768.247L1517.5 767.098L1518.5 765.853L1519.5 764.5L1520.5 763.005L1521.5 761.339L1522.5 759.518L1523.5 757.557L1524.5 755.47L1525.5 753.221L1526.5 750.712L1527.5 748.013L1528.5 745.199L1529.5 742.347L1530.5 739.486L1531.5 736.491L1532.5 733.416L1533.5 730.341L1534.5 727.346L1535.5 724.484L1536.5 721.622L1537.5 718.796L1538.5 716.09L1539.5 713.591L1540.5 711.376L1541.5 709.398L1542.5 707.581L1543.5 705.877L1544.5 704.237L1545.5 702.613L1546.5 700.954L1547.5 699.225L1548.5 697.499L1549.5 695.788L1550.5 694.074L1551.5 692.343L1552.5 690.581L1553.5 688.771L1554.5 686.912L1555.5 685.053L1556.5 683.168L1557.5 681.22L1558.5 679.172L1559.5 676.988L1560.5 674.622L1561.5 672.03L1562.5 669.248L1563.5 666.321L1564.5 663.297L1565.5 660.221L1566.5 657.128L1567.5 653.967L1568.5 650.713L1569.5 647.348L1570.5 643.855L1571.5 640.179L1572.5 636.032L1573.5 631.802L1574.5 628.05L1575.5 624.858L1576.5 621.841L1577.5 619.062L1578.5 616.585L1579.5 614.477L1580.5 612.675L1581.5 611.035L1582.5 609.766L1583.5 609.053L1584.5 608.555L1585.5 608.192L1586.5 608.036L1587.5 608.145L1588.5 608.478L1589.5 608.952L1590.5 609.541L1591.5 610.526L1592.5 611.813L1593.5 613.225L1594.5 614.857L1595.5 616.812L1596.5 618.969L1597.5 621.205L1598.5 623.4L1599.5 625.431L1600.5 627.18L1601.5 628.736L1602.5 630.187L1603.5 631.533L1604.5 632.776L1605.5 633.914L1606.5 634.959L1607.5 635.941L1608.5 636.889L1609.5 637.833L1610.5 638.802L1611.5 639.767L1612.5 640.676L1613.5 641.594L1614.5 642.588L1615.5 643.723L1616.5 645.066L1617.5 646.639L1618.5 648.422L1619.5 650.393L1620.5 652.53L1621.5 654.863L1622.5 657.587L1623.5 660.615L1624.5 663.817L1625.5 667.067L1626.5 670.255L1627.5 673.478L1628.5 676.77L1629.5 680.128L1630.5 683.547L1631.5 687.029L1632.5 690.65L1633.5 694.38L1634.5 698.133L1635.5 701.828L1636.5 705.381L1637.5 708.77L1638.5 712.066L1639.5 715.349L1640.5 718.672L1641.5 721.955L1642.5 725.101L1643.5 728.017L1644.5 730.747L1645.5 733.352L1646.5 735.857L1647.5 738.29L1648.5 740.675L1649.5 743.038L1650.5 745.403L1651.5 747.774L1652.5 750.131L1653.5 752.451L1654.5 754.715L1655.5 756.902L1656.5 758.992L1657.5 760.975L1658.5 762.919L1659.5 764.816L1660.5 766.646L1661.5 768.386L1662.5 770.016L1663.5 771.513L1664.5 772.876L1665.5 774.167L1666.5 775.395L1667.5 776.562L1668.5 777.668L1669.5 778.716L1670.5 779.707L1671.5 780.643L1672.5 781.524L1673.5 782.368L1674.5 783.185L1675.5 783.971L1676.5 784.719L1677.5 785.425L1678.5 786.084L1679.5 786.689L1680.5 787.236L1681.5 787.723L1682.5 788.173L1683.5 788.596L1684.5 788.994L1685.5 789.369L1686.5 789.726L1687.5 790.066L1688.5 790.393L1689.5 790.709L1690.5 791.018L1691.5 791.321L1692.5 791.623L1693.5 791.926L1694.5 792.232L1695.5 792.551L1696.5 792.897L1697.5 793.258L1698.5 793.623L1699.5 793.979L1700.5 794.315L1701.5 794.617L1702.5 794.875L1703.5 795.075L1704.5 795.207L1705.5 795.263L1706.5 795.299L1707.5 795.33L1708.5 795.357L1709.5 795.379L1710.5 795.398L1711.5 795.413L1712.5 795.426L1713.5 795.436L1714.5 795.445L1715.5 795.452L1716.5 795.458L1717.5 795.463L1718.5 795.468L1719.5 795.474L1720.5 795.48L1721.5 795.487L1722.5 795.495L1723.5 795.506L1724.5 795.519L1725.5 795.534L1726.5 795.553L1727.5 795.576L1728.5 795.602L1729.5 795.634L1730.5 795.67L1731.5 795.711L1732.5 795.759L1733.5 796.325L1734.5 797.3L1735.5 797.3L1736.5 797.3L1737.5 797.3L1738.5 797.3L1739.5 797.3L1740.5 797.3L1741.5 797.3L1742.5 797.3L1743.5 797.3L1744.5 797.3L1745.5 797.3L1746.5 797.3L1747.5 797.3L1748.5 797.3L1749.5 797.3L1750.5 797.3L1751.5 797.3L1752.5 797.3L1753.5 797.3L1754.5 797.3L1755.5 797.3L1756.5 797.3L1757.5 797.3L1758.5 797.3L1759.5 797.3L1760.5 797.3L1761.5 797.3L1762.5 797.3L1763.5 797.3L1764.5 797.3L1765.5 797.3L1766.5 797.3L1767.5 797.3L1768.5 797.3L1769.5 797.3L1770.5 797.3L1771.5 797.3L1772.5 797.3L1773.5 797.3L1774.5 797.3L1775.5 797.3L1776.5 797.3L1777.5 797.3L1778.5 797.3L1779.5 797.3L1780.5 797.3L1781.5 797.3L1782.5 797.3L1783.5 797.3L1784.5 797.3L1785.5 797.3L1786.5 797.3L1787.5 797.3L1788.5 797.3L1789.5 797.3L1790.5 797.3L1791.5 797.3L1792.5 797.3L1793.5 797.3L1794.5 797.3L1795.5 797.3L1796.5 797.3L1797.5 797.3L1798.5 797.3L1799.5 797.3L1800.5 797.3L1801.5 797.3L1802.5 797.3L1803.5 797.3L1804.5 797.3L1805.5 797.3L1806.5 797.3L1807.5 797.3L1808.5 797.3L1809.5 797.3L1810.5 797.3L1811.5 797.3L1812.5 797.3L1813.5 797.3L1814.5 797.3L1815.5 797.3L1816.5 797.3L1817.5 797.3L1818.5 797.3L1819.5 797.3L1820.5 797.3L1821.5 797.3L1822.5 797.3L1823.5 797.3L1824.5 797.3L1825.5 797.3L1826.5 797.3L1827.5 797.3L1828.5 797.3L1829.5 797.3L1830.5 797.3L1831.5 797.3L1832.5 797.3L1833.5 797.3L1834.5 797.3L1835.5 797.3L1836.5 797.3L1837.5 797.3L1838.5 797.3L1839.5 797.3L1840.5 797.3L1841.5 797.3L1842.5 797.3L1843.5 797.3L1844.5 797.3L1845.5 797.3L1846.5 797.3L1847.5 797.3L1848.5 797.3L1849.5 797.3L1850.5 797.3L1851.5 797.3L1852.5 797.3L1853.5 797.3L1854.5 797.3L1855.5 797.3L1856.5 797.3L1857.5 797.3L1858.5 797.3L1859.5 797.3L1860.5 797.3L1861.5 797.3L1862.5 797.3L1863.5 797.3L1864.5 797.3L1865.5 797.3L1866.5 797.3L1867.5 797.3L1868.5 797.3L1869.5 797.3L1870.5 797.3L1871.5 797.3L1872.5 797.3L1873.5 797.3L1874.5 797.3L1875.5 797.3L1876.5 797.3L1877.5 797.3L1878.5 797.3L1879.5 797.3L1880.5 797.3L1881.5 797.3L1882.5 797.3L1883.5 797.3L1884.5 797.3L1885.5 797.3L1886.5 797.3L1887.5 797.3L1888.5 797.3L1889.5 797.3L1890.5 797.3L1891.5 797.3L1892.5 797.3L1893.5 797.3L1894.5 797.3L1895.5 797.3L1896.5 797.3L1897.5 797.3L1898.5 797.3L1899.5 797.3L1900.5 797.3L1901.5 797.3L1902.5 797.3L1903.5 797.3L1904.5 797.3L1905.5 797.3L1906.5 797.3L1907.5 797.3L1908.5 797.3L1909.5 797.3L1910.5 797.3L1911.5 797.3L1912.5 797.3L1913.5 797.3L1914.5 797.3L1915.5 797.3L1916.5 797.3L1917.5 797.3L1918.5 797.3L1919.5 797.3L1920.5 797.3L1921.5 797.3L1922.5 797.3L1923.5 797.3L1924.5 797.3L1925.5 797.3L1926.5 797.3L1927.5 797.3L1928.5 797.3" fill="none" stroke="#000" stroke-width="1.9" stroke-linejoin="round"/>
<path d="M1299.5 1046.6L1299.5 1046.486L1300.5 1046.485L1301.5 1046.485L1302.5 1046.483L1303.5 1046.481L1304.5 1046.478L1305.5 1046.475L1306.5 1046.47L1307.5 1046.464L1308.5 1046.457L1309.5 1046.449L1310.5 1046.439L1311.5 1046.427L1312.5 1046.414L1313.5 1046.4L1314.5 1046.383L1315.5 1046.364L1316.5 1046.344L1317.5 1046.321L1318.5 1046.296L1319.5 1046.269L1320.5 1046.239L1321.5 1046.207L1322.5 1046.172L1323.5 1046.134L1324.5 1046.094L1325.5 1046.05L1326.5 1046.004L1327.5 1045.954L1328.5 1045.901L1329.5 1045.785L1330.5 1044.769L1331.5 1044.579L1332.5 1044.548L1333.5 1044.519L1334.5 1044.493L1335.5 1044.468L1336.5 1044.445L1337.5 1044.424L1338.5 1044.404L1339.5 1044.386L1340.5 1044.37L1341.5 1044.355L1342.5 1044.342L1343.5 1044.329L1344.5 1044.319L1345.5 1044.309L1346.5 1044.3L1347.5 1044.292L1348.5 1044.285L1349.5 1044.279L1350.5 1044.274L1351.5 1044.269L1352.5 1044.265L1353.5 1044.262L1354.5 1044.259L1355.5 1044.256L1356.5 1044.253L1357.5 1044.251L1358.5 1044.249L1359.5 1044.247L1360.5 1044.244L1361.5 1044.242L1362.5 1044.239L1363.5 1044.236L1364.5 1044.233L1365.5 1044.229L1366.5 1044.225L1367.5 1044.22L1368.5 1044.215L1369.5 1044.208L1370.5 1044.201L1371.5 1044.193L1372.5 1044.184L1373.5 1044.173L1374.5 1044.162L1375.5 1044.149L1376.5 1044.135L1377.5 1044.12L1378.5 1044.103L1379.5 1044.084L1380.5 1044.064L1381.5 1044.042L1382.5 1044.019L1383.5 1043.993L1384.5 1043.963L1385.5 1043.857L1386.5 1043.677L1387.5 1043.462L1388.5 1043.255L1389.5 1043.097L1390.5 1043.029L1391.5 1043.103L1392.5 1043.311L1393.5 1043.593L1394.5 1043.888L1395.5 1044.135L1396.5 1044.274L1397.5 1044.257L1398.5 1044.117L1399.5 1043.896L1400.5 1043.633L1401.5 1043.367L1402.5 1043.138L1403.5 1042.98L1404.5 1042.855L1405.5 1042.744L1406.5 1042.646L1407.5 1042.559L1408.5 1042.478L1409.5 1042.402L1410.5 1042.329L1411.5 1042.255L1412.5 1042.178L1413.5 1042.096L1414.5 1042.006L1415.5 1041.905L1416.5 1041.792L1417.5 1041.662L1418.5 1041.515L1419.5 1041.336L1420.5 1041.091L1421.5 1040.788L1422.5 1040.436L1423.5 1040.047L1424.5 1039.631L1425.5 1039.199L1426.5 1038.762L1427.5 1038.329L1428.5 1037.911L1429.5 1037.474L1430.5 1037.008L1431.5 1036.522L1432.5 1036.024L1433.5 1035.525L1434.5 1035.032L1435.5 1034.555L1436.5 1034.103L1437.5 1033.684L1438.5 1033.281L1439.5 1032.848L1440.5 1032.401L1441.5 1031.96L1442.5 1031.542L1443.5 1031.166L1444.5 1030.852L1445.5 1030.618L1446.5 1030.483L1447.5 1030.458L1448.5 1030.473L1449.5 1030.505L1450.5 1030.553L1451.5 1030.615L1452.5 1030.69L1453.5 1030.779L1454.5 1031.069L1455.5 1031.483L1456.5 1031.713L1457.5 1031.713L1458.5 1031.707L1459.5 1031.697L1460.5 1031.684L1461.5 1031.666L1462.5 1031.644L1463.5 1031.619L1464.5 1031.589L1465.5 1031.556L1466.5 1031.518L1467.5 1031.477L1468.5 1031.431L1469.5 1031.368L1470.5 1031.142L1471.5 1030.744L1472.5 1030.214L1473.5 1029.589L1474.5 1028.908L1475.5 1028.211L1476.5 1027.535L1477.5 1026.92L1478.5 1026.404L1479.5 1025.976L1480.5 1025.582L1481.5 1025.215L1482.5 1024.867L1483.5 1024.533L1484.5 1024.204L1485.5 1023.874L1486.5 1023.536L1487.5 1023.183L1488.5 1022.808L1489.5 1022.403L1490.5 1021.963L1491.5 1021.478L1492.5 1020.931L1493.5 1020.326L1494.5 1019.672L1495.5 1018.98L1496.5 1018.259L1497.5 1017.518L1498.5 1016.711L1499.5 1015.819L1500.5 1014.867L1501.5 1013.881L1502.5 1012.886L1503.5 1011.908L1504.5 1010.972L1505.5 1010.106L1506.5 1009.334L1507.5 1008.637L1508.5 1007.898L1509.5 1007.17L1510.5 1006.515L1511.5 1006L1512.5 1005.69L1513.5 1005.629L1514.5 1005.636L1515.5 1005.65L1516.5 1005.672L1517.5 1005.701L1518.5 1005.736L1519.5 1005.778L1520.5 1005.826L1521.5 1005.879L1522.5 1005.938L1523.5 1006.077L1524.5 1006.353L1525.5 1006.7L1526.5 1007.051L1527.5 1007.34L1528.5 1007.501L1529.5 1007.505L1530.5 1007.455L1531.5 1007.371L1532.5 1007.259L1533.5 1007.127L1534.5 1006.982L1535.5 1006.827L1536.5 1006.611L1537.5 1006.327L1538.5 1005.985L1539.5 1005.595L1540.5 1005.167L1541.5 1004.711L1542.5 1004.236L1543.5 1003.754L1544.5 1003.273L1545.5 1002.804L1546.5 1002.357L1547.5 1001.941L1548.5 1001.56L1549.5 1001.2L1550.5 1000.854L1551.5 1000.518L1552.5 1000.186L1553.5 999.853L1554.5 999.513L1555.5 999.161L1556.5 998.791L1557.5 998.399L1558.5 997.979L1559.5 997.526L1560.5 997.032L1561.5 996.448L1562.5 995.77L1563.5 995.022L1564.5 994.227L1565.5 993.409L1566.5 992.59L1567.5 991.794L1568.5 991.044L1569.5 990.363L1570.5 989.74L1571.5 989.113L1572.5 988.49L1573.5 987.881L1574.5 987.296L1575.5 986.746L1576.5 986.242L1577.5 985.792L1578.5 985.408L1579.5 985.094L1580.5 984.797L1581.5 984.505L1582.5 984.222L1583.5 983.95L1584.5 983.695L1585.5 983.46L1586.5 983.248L1587.5 983.065L1588.5 982.913L1589.5 982.797L1590.5 982.72L1591.5 982.687L1592.5 982.688L1593.5 982.698L1594.5 982.716L1595.5 982.741L1596.5 982.772L1597.5 982.81L1598.5 982.855L1599.5 982.905L1600.5 982.961L1601.5 983.034L1602.5 983.24L1603.5 983.554L1604.5 983.911L1605.5 984.244L1606.5 984.486L1607.5 984.571L1608.5 984.484L1609.5 984.263L1610.5 983.931L1611.5 983.513L1612.5 983.032L1613.5 982.513L1614.5 981.979L1615.5 981.454L1616.5 980.963L1617.5 980.499L1618.5 979.982L1619.5 979.421L1620.5 978.839L1621.5 978.255L1622.5 977.69L1623.5 977.165L1624.5 976.7L1625.5 976.317L1626.5 976.032L1627.5 975.784L1628.5 975.542L1629.5 975.313L1630.5 975.102L1631.5 974.915L1632.5 974.757L1633.5 974.634L1634.5 974.552L1635.5 974.515L1636.5 974.615L1637.5 974.984L1638.5 975.529L1639.5 976.152L1640.5 976.755L1641.5 977.394L1642.5 978.133L1643.5 978.941L1644.5 979.782L1645.5 980.623L1646.5 981.431L1647.5 982.172L1648.5 982.817L1649.5 983.46L1650.5 984.13L1651.5 984.803L1652.5 985.452L1653.5 986.049L1654.5 986.568L1655.5 986.984L1656.5 987.268L1657.5 987.396L1658.5 987.365L1659.5 987.23L1660.5 987.007L1661.5 986.716L1662.5 986.371L1663.5 985.99L1664.5 985.591L1665.5 985.19L1666.5 984.804L1667.5 984.441L1668.5 984.021L1669.5 983.536L1670.5 983.003L1671.5 982.442L1672.5 981.872L1673.5 981.313L1674.5 980.782L1675.5 980.3L1676.5 979.884L1677.5 979.555L1678.5 979.332L1679.5 979.232L1680.5 979.234L1681.5 979.258L1682.5 979.298L1683.5 979.353L1684.5 979.421L1685.5 979.5L1686.5 979.619L1687.5 979.949L1688.5 980.48L1689.5 981.169L1690.5 981.972L1691.5 982.846L1692.5 983.748L1693.5 984.635L1694.5 985.463L1695.5 986.191L1696.5 986.954L1697.5 987.808L1698.5 988.656L1699.5 989.404L1700.5 989.957L1701.5 990.219L1702.5 990.215L1703.5 990.163L1704.5 990.075L1705.5 989.957L1706.5 989.816L1707.5 989.655L1708.5 989.481L1709.5 989.299L1710.5 989.035L1711.5 988.617L1712.5 988.091L1713.5 987.502L1714.5 986.896L1715.5 986.32L1716.5 985.819L1717.5 985.44L1718.5 985.229L1719.5 985.22L1720.5 985.372L1721.5 985.652L1722.5 986.037L1723.5 986.503L1724.5 987.025L1725.5 987.58L1726.5 988.144L1727.5 988.726L1728.5 989.426L1729.5 990.234L1730.5 991.132L1731.5 992.101L1732.5 993.123L1733.5 994.179L1734.5 995.25L1735.5 996.318L1736.5 997.366L1737.5 998.44L1738.5 999.558L1739.5 1000.712L1740.5 1001.892L1741.5 1003.091L1742.5 1004.299L1743.5 1005.508L1744.5 1006.709L1745.5 1007.892L1746.5 1009.079L1747.5 1010.313L1748.5 1011.577L1749.5 1012.849L1750.5 1014.107L1751.5 1015.329L1752.5 1016.495L1753.5 1017.583L1754.5 1018.57L1755.5 1019.448L1756.5 1020.314L1757.5 1021.182L1758.5 1022.03L1759.5 1022.833L1760.5 1023.571L1761.5 1024.221L1762.5 1024.76L1763.5 1025.166L1764.5 1025.417L1765.5 1025.563L1766.5 1025.691L1767.5 1025.804L1768.5 1025.904L1769.5 1025.992L1770.5 1026.07L1771.5 1026.141L1772.5 1026.205L1773.5 1026.264L1774.5 1026.321L1775.5 1026.377L1776.5 1026.433L1777.5 1026.492L1778.5 1026.556L1779.5 1026.626L1780.5 1026.703L1781.5 1026.777L1782.5 1026.845L1783.5 1026.909L1784.5 1026.969L1785.5 1027.028L1786.5 1027.086L1787.5 1027.146L1788.5 1027.209L1789.5 1027.277L1790.5 1027.351L1791.5 1027.434L1792.5 1027.525L1793.5 1027.628L1794.5 1027.743L1795.5 1027.872L1796.5 1028.033L1797.5 1028.308L1798.5 1028.692L1799.5 1029.158L1800.5 1029.685L1801.5 1030.247L1802.5 1030.821L1803.5 1031.382L1804.5 1031.908L1805.5 1032.374L1806.5 1032.814L1807.5 1033.264L1808.5 1033.721L1809.5 1034.18L1810.5 1034.639L1811.5 1035.095L1812.5 1035.543L1813.5 1035.981L1814.5 1036.405L1815.5 1036.812L1816.5 1037.199L1817.5 1037.562L1818.5 1037.897L1819.5 1038.202L1820.5 1038.474L1821.5 1038.71L1822.5 1038.933L1823.5 1039.15L1824.5 1039.359L1825.5 1039.56L1826.5 1039.754L1827.5 1039.938L1828.5 1040.114L1829.5 1040.279L1830.5 1040.434L1831.5 1040.578L1832.5 1040.711L1833.5 1040.832L1834.5 1040.94L1835.5 1041.035L1836.5 1041.117L1837.5 1041.186L1838.5 1041.248L1839.5 1041.302L1840.5 1041.351L1841.5 1041.395L1842.5 1041.434L1843.5 1041.47L1844.5 1041.503L1845.5 1041.533L1846.5 1041.562L1847.5 1041.59L1848.5 1041.618L1849.5 1041.647L1850.5 1041.677L1851.5 1041.71L1852.5 1041.745L1853.5 1041.784L1854.5 1041.828L1855.5 1041.876L1856.5 1041.93L1857.5 1041.991L1858.5 1042.059L1859.5 1042.147L1860.5 1042.289L1861.5 1042.478L1862.5 1042.704L1863.5 1042.955L1864.5 1043.222L1865.5 1043.493L1866.5 1043.757L1867.5 1044.004L1868.5 1044.223L1869.5 1044.403L1870.5 1044.533L1871.5 1044.603L1872.5 1044.642L1873.5 1044.676L1874.5 1044.706L1875.5 1044.733L1876.5 1044.756L1877.5 1044.776L1878.5 1044.794L1879.5 1044.809L1880.5 1044.822L1881.5 1044.833L1882.5 1044.843L1883.5 1044.851L1884.5 1044.859L1885.5 1044.866L1886.5 1044.873L1887.5 1044.88L1888.5 1044.887L1889.5 1044.896L1890.5 1044.905L1891.5 1044.915L1892.5 1044.928L1893.5 1044.942L1894.5 1044.958L1895.5 1044.977L1896.5 1044.999L1897.5 1045.025L1898.5 1045.054L1899.5 1045.086L1900.5 1045.123L1901.5 1045.165L1902.5 1045.211L1903.5 1045.385L1904.5 1045.919L1905.5 1046.404L1906.5 1046.486L1907.5 1046.486L1908.5 1046.486L1909.5 1046.486L1910.5 1046.486L1911.5 1046.486L1912.5 1046.486L1913.5 1046.486L1914.5 1046.486L1915.5 1046.486L1916.5 1046.486L1917.5 1046.486L1918.5 1046.486L1919.5 1046.486L1920.5 1046.486L1921.5 1046.486L1922.5 1046.486L1923.5 1046.486L1924.5 1046.486L1925.5 1046.486L1926.5 1046.486L1927.5 1046.486L1928.5 1046.6L1928.5 1046.6Z" fill="url(#rg)" stroke="none"/>
<path d="M1299.5 1046.486L1300.5 1046.485L1301.5 1046.485L1302.5 1046.483L1303.5 1046.481L1304.5 1046.478L1305.5 1046.475L1306.5 1046.47L1307.5 1046.464L1308.5 1046.457L1309.5 1046.449L1310.5 1046.439L1311.5 1046.427L1312.5 1046.414L1313.5 1046.4L1314.5 1046.383L1315.5 1046.364L1316.5 1046.344L1317.5 1046.321L1318.5 1046.296L1319.5 1046.269L1320.5 1046.239L1321.5 1046.207L1322.5 1046.172L1323.5 1046.134L1324.5 1046.094L1325.5 1046.05L1326.5 1046.004L1327.5 1045.954L1328.5 1045.901L1329.5 1045.785L1330.5 1044.769L1331.5 1044.579L1332.5 1044.548L1333.5 1044.519L1334.5 1044.493L1335.5 1044.468L1336.5 1044.445L1337.5 1044.424L1338.5 1044.404L1339.5 1044.386L1340.5 1044.37L1341.5 1044.355L1342.5 1044.342L1343.5 1044.329L1344.5 1044.319L1345.5 1044.309L1346.5 1044.3L1347.5 1044.292L1348.5 1044.285L1349.5 1044.279L1350.5 1044.274L1351.5 1044.269L1352.5 1044.265L1353.5 1044.262L1354.5 1044.259L1355.5 1044.256L1356.5 1044.253L1357.5 1044.251L1358.5 1044.249L1359.5 1044.247L1360.5 1044.244L1361.5 1044.242L1362.5 1044.239L1363.5 1044.236L1364.5 1044.233L1365.5 1044.229L1366.5 1044.225L1367.5 1044.22L1368.5 1044.215L1369.5 1044.208L1370.5 1044.201L1371.5 1044.193L1372.5 1044.184L1373.5 1044.173L1374.5 1044.162L1375.5 1044.149L1376.5 1044.135L1377.5 1044.12L1378.5 1044.103L1379.5 1044.084L1380.5 1044.064L1381.5 1044.042L1382.5 1044.019L1383.5 1043.993L1384.5 1043.963L1385.5 1043.857L1386.5 1043.677L1387.5 1043.462L1388.5 1043.255L1389.5 1043.097L1390.5 1043.029L1391.5 1043.103L1392.5 1043.311L1393.5 1043.593L1394.5 1043.888L1395.5 1044.135L1396.5 1044.274L1397.5 1044.257L1398.5 1044.117L1399.5 1043.896L1400.5 1043.633L1401.5 1043.367L1402.5 1043.138L1403.5 1042.98L1404.5 1042.855L1405.5 1042.744L1406.5 1042.646L1407.5 1042.559L1408.5 1042.478L1409.5 1042.402L1410.5 1042.329L1411.5 1042.255L1412.5 1042.178L1413.5 1042.096L1414.5 1042.006L1415.5 1041.905L1416.5 1041.792L1417.5 1041.662L1418.5 1041.515L1419.5 1041.336L1420.5 1041.091L1421.5 1040.788L1422.5 1040.436L1423.5 1040.047L1424.5 1039.631L1425.5 1039.199L1426.5 1038.762L1427.5 1038.329L1428.5 1037.911L1429.5 1037.474L1430.5 1037.008L1431.5 1036.522L1432.5 1036.024L1433.5 1035.525L1434.5 1035.032L1435.5 1034.555L1436.5 1034.103L1437.5 1033.684L1438.5 1033.281L1439.5 1032.848L1440.5 1032.401L1441.5 1031.96L1442.5 1031.542L1443.5 1031.166L1444.5 1030.852L1445.5 1030.618L1446.5 1030.483L1447.5 1030.458L1448.5 1030.473L1449.5 1030.505L1450.5 1030.553L1451.5 1030.615L1452.5 1030.69L1453.5 1030.779L1454.5 1031.069L1455.5 1031.483L1456.5 1031.713L1457.5 1031.713L1458.5 1031.707L1459.5 1031.697L1460.5 1031.684L1461.5 1031.666L1462.5 1031.644L1463.5 1031.619L1464.5 1031.589L1465.5 1031.556L1466.5 1031.518L1467.5 1031.477L1468.5 1031.431L1469.5 1031.368L1470.5 1031.142L1471.5 1030.744L1472.5 1030.214L1473.5 1029.589L1474.5 1028.908L1475.5 1028.211L1476.5 1027.535L1477.5 1026.92L1478.5 1026.404L1479.5 1025.976L1480.5 1025.582L1481.5 1025.215L1482.5 1024.867L1483.5 1024.533L1484.5 1024.204L1485.5 1023.874L1486.5 1023.536L1487.5 1023.183L1488.5 1022.808L1489.5 1022.403L1490.5 1021.963L1491.5 1021.478L1492.5 1020.931L1493.5 1020.326L1494.5 1019.672L1495.5 1018.98L1496.5 1018.259L1497.5 1017.518L1498.5 1016.711L1499.5 1015.819L1500.5 1014.867L1501.5 1013.881L1502.5 1012.886L1503.5 1011.908L1504.5 1010.972L1505.5 1010.106L1506.5 1009.334L1507.5 1008.637L1508.5 1007.898L1509.5 1007.17L1510.5 1006.515L1511.5 1006L1512.5 1005.69L1513.5 1005.629L1514.5 1005.636L1515.5 1005.65L1516.5 1005.672L1517.5 1005.701L1518.5 1005.736L1519.5 1005.778L1520.5 1005.826L1521.5 1005.879L1522.5 1005.938L1523.5 1006.077L1524.5 1006.353L1525.5 1006.7L1526.5 1007.051L1527.5 1007.34L1528.5 1007.501L1529.5 1007.505L1530.5 1007.455L1531.5 1007.371L1532.5 1007.259L1533.5 1007.127L1534.5 1006.982L1535.5 1006.827L1536.5 1006.611L1537.5 1006.327L1538.5 1005.985L1539.5 1005.595L1540.5 1005.167L1541.5 1004.711L1542.5 1004.236L1543.5 1003.754L1544.5 1003.273L1545.5 1002.804L1546.5 1002.357L1547.5 1001.941L1548.5 1001.56L1549.5 1001.2L1550.5 1000.854L1551.5 1000.518L1552.5 1000.186L1553.5 999.853L1554.5 999.513L1555.5 999.161L1556.5 998.791L1557.5 998.399L1558.5 997.979L1559.5 997.526L1560.5 997.032L1561.5 996.448L1562.5 995.77L1563.5 995.022L1564.5 994.227L1565.5 993.409L1566.5 992.59L1567.5 991.794L1568.5 991.044L1569.5 990.363L1570.5 989.74L1571.5 989.113L1572.5 988.49L1573.5 987.881L1574.5 987.296L1575.5 986.746L1576.5 986.242L1577.5 985.792L1578.5 985.408L1579.5 985.094L1580.5 984.797L1581.5 984.505L1582.5 984.222L1583.5 983.95L1584.5 983.695L1585.5 983.46L1586.5 983.248L1587.5 983.065L1588.5 982.913L1589.5 982.797L1590.5 982.72L1591.5 982.687L1592.5 982.688L1593.5 982.698L1594.5 982.716L1595.5 982.741L1596.5 982.772L1597.5 982.81L1598.5 982.855L1599.5 982.905L1600.5 982.961L1601.5 983.034L1602.5 983.24L1603.5 983.554L1604.5 983.911L1605.5 984.244L1606.5 984.486L1607.5 984.571L1608.5 984.484L1609.5 984.263L1610.5 983.931L1611.5 983.513L1612.5 983.032L1613.5 982.513L1614.5 981.979L1615.5 981.454L1616.5 980.963L1617.5 980.499L1618.5 979.982L1619.5 979.421L1620.5 978.839L1621.5 978.255L1622.5 977.69L1623.5 977.165L1624.5 976.7L1625.5 976.317L1626.5 976.032L1627.5 975.784L1628.5 975.542L1629.5 975.313L1630.5 975.102L1631.5 974.915L1632.5 974.757L1633.5 974.634L1634.5 974.552L1635.5 974.515L1636.5 974.615L1637.5 974.984L1638.5 975.529L1639.5 976.152L1640.5 976.755L1641.5 977.394L1642.5 978.133L1643.5 978.941L1644.5 979.782L1645.5 980.623L1646.5 981.431L1647.5 982.172L1648.5 982.817L1649.5 983.46L1650.5 984.13L1651.5 984.803L1652.5 985.452L1653.5 986.049L1654.5 986.568L1655.5 986.984L1656.5 987.268L1657.5 987.396L1658.5 987.365L1659.5 987.23L1660.5 987.007L1661.5 986.716L1662.5 986.371L1663.5 985.99L1664.5 985.591L1665.5 985.19L1666.5 984.804L1667.5 984.441L1668.5 984.021L1669.5 983.536L1670.5 983.003L1671.5 982.442L1672.5 981.872L1673.5 981.313L1674.5 980.782L1675.5 980.3L1676.5 979.884L1677.5 979.555L1678.5 979.332L1679.5 979.232L1680.5 979.234L1681.5 979.258L1682.5 979.298L1683.5 979.353L1684.5 979.421L1685.5 979.5L1686.5 979.619L1687.5 979.949L1688.5 980.48L1689.5 981.169L1690.5 981.972L1691.5 982.846L1692.5 983.748L1693.5 984.635L1694.5 985.463L1695.5 986.191L1696.5 986.954L1697.5 987.808L1698.5 988.656L1699.5 989.404L1700.5 989.957L1701.5 990.219L1702.5 990.215L1703.5 990.163L1704.5 990.075L1705.5 989.957L1706.5 989.816L1707.5 989.655L1708.5 989.481L1709.5 989.299L1710.5 989.035L1711.5 988.617L1712.5 988.091L1713.5 987.502L1714.5 986.896L1715.5 986.32L1716.5 985.819L1717.5 985.44L1718.5 985.229L1719.5 985.22L1720.5 985.372L1721.5 985.652L1722.5 986.037L1723.5 986.503L1724.5 987.025L1725.5 987.58L1726.5 988.144L1727.5 988.726L1728.5 989.426L1729.5 990.234L1730.5 991.132L1731.5 992.101L1732.5 993.123L1733.5 994.179L1734.5 995.25L1735.5 996.318L1736.5 997.366L1737.5 998.44L1738.5 999.558L1739.5 1000.712L1740.5 1001.892L1741.5 1003.091L1742.5 1004.299L1743.5 1005.508L1744.5 1006.709L1745.5 1007.892L1746.5 1009.079L1747.5 1010.313L1748.5 1011.577L1749.5 1012.849L1750.5 1014.107L1751.5 1015.329L1752.5 1016.495L1753.5 1017.583L1754.5 1018.57L1755.5 1019.448L1756.5 1020.314L1757.5 1021.182L1758.5 1022.03L1759.5 1022.833L1760.5 1023.571L1761.5 1024.221L1762.5 1024.76L1763.5 1025.166L1764.5 1025.417L1765.5 1025.563L1766.5 1025.691L1767.5 1025.804L1768.5 1025.904L1769.5 1025.992L1770.5 1026.07L1771.5 1026.141L1772.5 1026.205L1773.5 1026.264L1774.5 1026.321L1775.5 1026.377L1776.5 1026.433L1777.5 1026.492L1778.5 1026.556L1779.5 1026.626L1780.5 1026.703L1781.5 1026.777L1782.5 1026.845L1783.5 1026.909L1784.5 1026.969L1785.5 1027.028L1786.5 1027.086L1787.5 1027.146L1788.5 1027.209L1789.5 1027.277L1790.5 1027.351L1791.5 1027.434L1792.5 1027.525L1793.5 1027.628L1794.5 1027.743L1795.5 1027.872L1796.5 1028.033L1797.5 1028.308L1798.5 1028.692L1799.5 1029.158L1800.5 1029.685L1801.5 1030.247L1802.5 1030.821L1803.5 1031.382L1804.5 1031.908L1805.5 1032.374L1806.5 1032.814L1807.5 1033.264L1808.5 1033.721L1809.5 1034.18L1810.5 1034.639L1811.5 1035.095L1812.5 1035.543L1813.5 1035.981L1814.5 1036.405L1815.5 1036.812L1816.5 1037.199L1817.5 1037.562L1818.5 1037.897L1819.5 1038.202L1820.5 1038.474L1821.5 1038.71L1822.5 1038.933L1823.5 1039.15L1824.5 1039.359L1825.5 1039.56L1826.5 1039.754L1827.5 1039.938L1828.5 1040.114L1829.5 1040.279L1830.5 1040.434L1831.5 1040.578L1832.5 1040.711L1833.5 1040.832L1834.5 1040.94L1835.5 1041.035L1836.5 1041.117L1837.5 1041.186L1838.5 1041.248L1839.5 1041.302L1840.5 1041.351L1841.5 1041.395L1842.5 1041.434L1843.5 1041.47L1844.5 1041.503L1845.5 1041.533L1846.5 1041.562L1847.5 1041.59L1848.5 1041.618L1849.5 1041.647L1850.5 1041.677L1851.5 1041.71L1852.5 1041.745L1853.5 1041.784L1854.5 1041.828L1855.5 1041.876L1856.5 1041.93L1857.5 1041.991L1858.5 1042.059L1859.5 1042.147L1860.5 1042.289L1861.5 1042.478L1862.5 1042.704L1863.5 1042.955L1864.5 1043.222L1865.5 1043.493L1866.5 1043.757L1867.5 1044.004L1868.5 1044.223L1869.5 1044.403L1870.5 1044.533L1871.5 1044.603L1872.5 1044.642L1873.5 1044.676L1874.5 1044.706L1875.5 1044.733L1876.5 1044.756L1877.5 1044.776L1878.5 1044.794L1879.5 1044.809L1880.5 1044.822L1881.5 1044.833L1882.5 1044.843L1883.5 1044.851L1884.5 1044.859L1885.5 1044.866L1886.5 1044.873L1887.5 1044.88L1888.5 1044.887L1889.5 1044.896L1890.5 1044.905L1891.5 1044.915L1892.5 1044.928L1893.5 1044.942L1894.5 1044.958L1895.5 1044.977L1896.5 1044.999L1897.5 1045.025L1898.5 1045.054L1899.5 1045.086L1900.5 1045.123L1901.5 1045.165L1902.5 1045.211L1903.5 1045.385L1904.5 1045.919L1905.5 1046.404L1906.5 1046.486L1907.5 1046.486L1908.5 1046.486L1909.5 1046.486L1910.5 1046.486L1911.5 1046.486L1912.5 1046.486L1913.5 1046.486L1914.5 1046.486L1915.5 1046.486L1916.5 1046.486L1917.5 1046.486L1918.5 1046.486L1919.5 1046.486L1920.5 1046.486L1921.5 1046.486L1922.5 1046.486L1923.5 1046.486L1924.5 1046.486L1925.5 1046.486L1926.5 1046.486L1927.5 1046.486L1928.5 1046.6" fill="none" stroke="#000" stroke-width="1.9" stroke-linejoin="round"/>
<line x1="1638.4" x2="1638.4" y1="89" y2="1196" stroke="#4169e1" stroke-width="2.2"/>
<g font-family='"Liberation Sans", sans-serif' font-size="23" fill="#4d4d4d" stroke="#4d4d4d" stroke-width="0.4">
<text x="1255" y="305.7" text-anchor="end" textLength="149.6" lengthAdjust="spacingAndGlyphs">range_change</text>
<text x="1255" y="556.5" text-anchor="end" textLength="85" lengthAdjust="spacingAndGlyphs">rep_rate</text>
<text x="1256.2" y="807.5" text-anchor="end">Z</text>
<text x="1256.2" y="1056.8" text-anchor="end">C</text>
<text x="1313" y="1229" text-anchor="middle">-1.0</text>
<text x="1475" y="1229" text-anchor="middle">-0.5</text>
<text x="1637" y="1229" text-anchor="middle">0.0</text>
<text x="1799" y="1229" text-anchor="middle">0.5</text>
</g>
<g font-family='"Liberation Sans", sans-serif' fill="#000" stroke="#000" stroke-width="0.5">
<text x="1269" y="27" font-size="33.5" textLength="202" lengthAdjust="spacingAndGlyphs">Secretarybird</text>
<text x="1269" y="71" font-size="27.5" textLength="402" lengthAdjust="spacingAndGlyphs">Change metrics: within SABAP2.</text>
<text x="1383" y="1273.5" font-size="23" textLength="574" lengthAdjust="spacingAndGlyphs">Below 0 indicates decrease, above 0 indicates increase</text>
<text transform="translate(1095,674.2) rotate(-90)" font-size="27.5" textLength="60" lengthAdjust="spacingAndGlyphs">stats</text>
<text x="2000" y="540" font-size="27.5">x</text>
<defs><linearGradient id="lg2" x1="0" y1="0" x2="0" y2="1"><stop offset="0" stop-color="#6058a9"/><stop offset="0.025" stop-color="#6960ae"/><stop offset="0.05" stop-color="#7268b3"/><stop offset="0.075" stop-color="#7b71b8"/><stop offset="0.1" stop-color="#847abc"/><stop offset="0.125" stop-color="#8d82c1"/><stop offset="0.15" stop-color="#968bc6"/><stop offset="0.175" stop-color="#9e94ca"/><stop offset="0.2" stop-color="#a79dcf"/><stop offset="0.225" stop-color="#b0a7d4"/><stop offset="0.25" stop-color="#b8b0d8"/><stop offset="0.275" stop-color="#c1b9dd"/><stop offset="0.3" stop-color="#c9c3e2"/><stop offset="0.325" stop-color="#d2cce7"/><stop offset="0.35" stop-color="#dbd6eb"/><stop offset="0.375" stop-color="#e3dff0"/><stop offset="0.4" stop-color="#ece9f5"/><stop offset="0.425" stop-color="#f4f3f9"/><stop offset="0.45" stop-color="#fdfdfe"/><stop offset="0.475" stop-color="#fcf7f6"/><stop offset="0.5" stop-color="#f7edeb"/><stop offset="0.525" stop-color="#f2e2e0"/><stop offset="0.55" stop-color="#edd8d5"/><stop offset="0.575" stop-color="#e9ceca"/><stop offset="0.6" stop-color="#e4c4bf"/><stop offset="0.625" stop-color="#debab5"/><stop offset="0.65" stop-color="#d9b0aa"/><stop offset="0.675" stop-color="#d4a6a0"/><stop offset="0.7" stop-color="#ce9c96"/><stop offset="0.725" stop-color="#c9928b"/><stop offset="0.75" stop-color="#c38881"/><stop offset="0.775" stop-color="#bd7e77"/><stop offset="0.8" stop-color="#b7756e"/><stop offset="0.825" stop-color="#b16b64"/><stop offset="0.85" stop-color="#ab615a"/><stop offset="0.875" stop-color="#a55851"/><stop offset="0.9" stop-color="#9f4e48"/><stop offset="0.925" stop-color="#98453f"/><stop offset="0.95" stop-color="#923b36"/><stop offset="0.975" stop-color="#8b302e"/><stop offset="1" stop-color="#842625"/></linearGradient></defs>
<rect x="1999.8" y="557.2" width="43.5" height="216.39999999999998" fill="url(#lg2)"/>
<g stroke="#fff" stroke-width="2">
<line x1="1999.8" x2="2008.3999999999999" y1="599.281" y2="599.281"/><line x1="2034.7" x2="2043.3" y1="599.281" y2="599.281"/>
<line x1="1999.8" x2="2008.3999999999999" y1="655.841" y2="655.841"/><line x1="2034.7" x2="2043.3" y1="655.841" y2="655.841"/>
<line x1="1999.8" x2="2008.3999999999999" y1="712.402" y2="712.402"/><line x1="2034.7" x2="2043.3" y1="712.402" y2="712.402"/>
<line x1="1999.8" x2="2008.3999999999999" y1="768.962" y2="768.962"/><line x1="2034.7" x2="2043.3" y1="768.962" y2="768.962"/>
</g>
<text x="2057" y="608.281" font-size="23">0.5</text>
<text x="2057" y="664.841" font-size="23">0.0</text>
<text x="2057" y="721.402" font-size="23">-0.5</text>
<text x="2057" y="777.962" font-size="23">-1.0</text>
</g>
</svg></body></html>
